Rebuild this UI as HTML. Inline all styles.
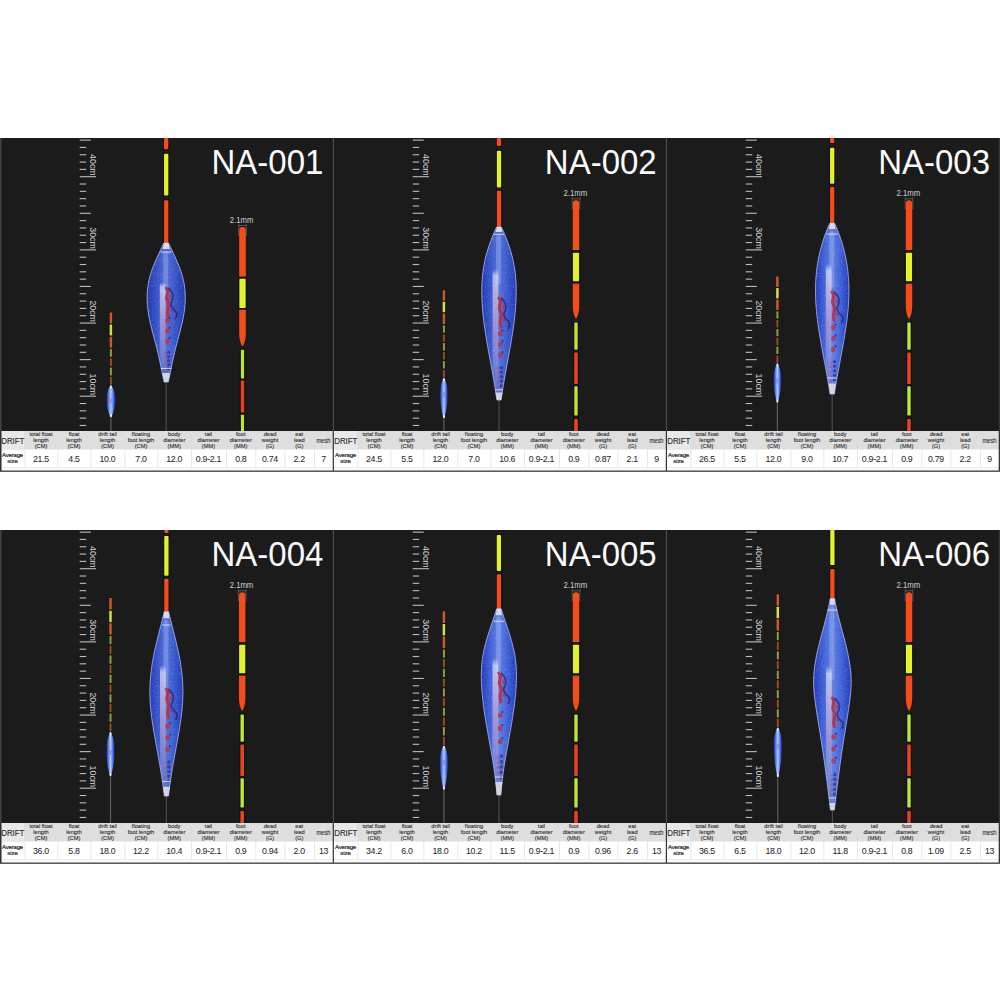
<!DOCTYPE html><html><head><meta charset="utf-8"><style>html,body{margin:0;padding:0;background:#fff;width:1000px;height:1000px;overflow:hidden}svg{display:block;font-family:"Liberation Sans",sans-serif}</style></head><body>
<svg width="1000" height="1000" viewBox="0 0 1000 1000">
<rect width="1000" height="1000" fill="#fff"/>
<defs><filter id="spk" x="0" y="0" width="100%" height="100%"><feTurbulence type="fractalNoise" baseFrequency="0.9" numOctaves="1" seed="3"/><feColorMatrix values="0 0 0 0 0.1  0 0 0 0 0.16  0 0 0 0 0.6  0 0 0 3 -1.5"/></filter><filter id="spl" x="0" y="0" width="100%" height="100%"><feTurbulence type="fractalNoise" baseFrequency="0.75" numOctaves="1" seed="11"/><feColorMatrix values="0 0 0 0 0.62  0 0 0 0 0.7  0 0 0 0 1  0 0 0 3.2 -1.75"/></filter></defs>
<rect x="0" y="138" width="333" height="293" fill="#1b1b1b"/>
<rect x="333" y="138" width="333" height="293" fill="#1b1b1b"/>
<rect x="666" y="138" width="334" height="293" fill="#1b1b1b"/>
<rect x="0" y="530" width="333" height="293" fill="#1b1b1b"/>
<rect x="333" y="530" width="333" height="293" fill="#1b1b1b"/>
<rect x="666" y="530" width="334" height="293" fill="#1b1b1b"/>
<rect x="79.7" y="139.56" width="11.1" height="1.1" fill="#bcbcbc"/>
<rect x="79.7" y="146.88" width="6.5" height="1.1" fill="#bcbcbc"/>
<rect x="79.7" y="154.20" width="6.5" height="1.1" fill="#bcbcbc"/>
<rect x="79.7" y="161.52" width="6.5" height="1.1" fill="#bcbcbc"/>
<rect x="79.7" y="168.83" width="6.5" height="1.1" fill="#bcbcbc"/>
<rect x="79.7" y="176.15" width="16.3" height="1.1" fill="#bcbcbc"/>
<text transform="translate(90.1,154.1) rotate(90) scale(0.97,0.9)" x="0" y="0" font-size="9.1" fill="#d0d0d0">40cm</text>
<rect x="79.7" y="183.47" width="6.5" height="1.1" fill="#bcbcbc"/>
<rect x="79.7" y="190.78" width="6.5" height="1.1" fill="#bcbcbc"/>
<rect x="79.7" y="198.10" width="6.5" height="1.1" fill="#bcbcbc"/>
<rect x="79.7" y="205.42" width="6.5" height="1.1" fill="#bcbcbc"/>
<rect x="79.7" y="212.73" width="11.1" height="1.1" fill="#bcbcbc"/>
<rect x="79.7" y="220.05" width="6.5" height="1.1" fill="#bcbcbc"/>
<rect x="79.7" y="227.37" width="6.5" height="1.1" fill="#bcbcbc"/>
<rect x="79.7" y="234.69" width="6.5" height="1.1" fill="#bcbcbc"/>
<rect x="79.7" y="242.00" width="6.5" height="1.1" fill="#bcbcbc"/>
<rect x="79.7" y="249.32" width="16.3" height="1.1" fill="#bcbcbc"/>
<text transform="translate(90.1,227.3) rotate(90) scale(0.97,0.9)" x="0" y="0" font-size="9.1" fill="#d0d0d0">30cm</text>
<rect x="79.7" y="256.64" width="6.5" height="1.1" fill="#bcbcbc"/>
<rect x="79.7" y="263.95" width="6.5" height="1.1" fill="#bcbcbc"/>
<rect x="79.7" y="271.27" width="6.5" height="1.1" fill="#bcbcbc"/>
<rect x="79.7" y="278.59" width="6.5" height="1.1" fill="#bcbcbc"/>
<rect x="79.7" y="285.90" width="11.1" height="1.1" fill="#bcbcbc"/>
<rect x="79.7" y="293.22" width="6.5" height="1.1" fill="#bcbcbc"/>
<rect x="79.7" y="300.54" width="6.5" height="1.1" fill="#bcbcbc"/>
<rect x="79.7" y="307.86" width="6.5" height="1.1" fill="#bcbcbc"/>
<rect x="79.7" y="315.17" width="6.5" height="1.1" fill="#bcbcbc"/>
<rect x="79.7" y="322.49" width="16.3" height="1.1" fill="#bcbcbc"/>
<text transform="translate(90.1,300.4) rotate(90) scale(0.97,0.9)" x="0" y="0" font-size="9.1" fill="#d0d0d0">20cm</text>
<rect x="79.7" y="329.81" width="6.5" height="1.1" fill="#bcbcbc"/>
<rect x="79.7" y="337.12" width="6.5" height="1.1" fill="#bcbcbc"/>
<rect x="79.7" y="344.44" width="6.5" height="1.1" fill="#bcbcbc"/>
<rect x="79.7" y="351.76" width="6.5" height="1.1" fill="#bcbcbc"/>
<rect x="79.7" y="359.07" width="11.1" height="1.1" fill="#bcbcbc"/>
<rect x="79.7" y="366.39" width="6.5" height="1.1" fill="#bcbcbc"/>
<rect x="79.7" y="373.71" width="6.5" height="1.1" fill="#bcbcbc"/>
<rect x="79.7" y="381.03" width="6.5" height="1.1" fill="#bcbcbc"/>
<rect x="79.7" y="388.34" width="6.5" height="1.1" fill="#bcbcbc"/>
<rect x="79.7" y="395.66" width="16.3" height="1.1" fill="#bcbcbc"/>
<text transform="translate(90.1,373.6) rotate(90) scale(0.97,0.9)" x="0" y="0" font-size="9.1" fill="#d0d0d0">10cm</text>
<rect x="79.7" y="402.98" width="6.5" height="1.1" fill="#bcbcbc"/>
<rect x="79.7" y="410.29" width="6.5" height="1.1" fill="#bcbcbc"/>
<rect x="79.7" y="417.61" width="6.5" height="1.1" fill="#bcbcbc"/>
<rect x="79.7" y="424.93" width="6.5" height="1.1" fill="#bcbcbc"/>
<rect x="110.25" y="417.00" width="1.3" height="14.00" fill="#5a5a5a"/>
<rect x="109.25" y="311.85" width="3.30" height="12.19" fill="#080808" opacity="0.35"/>
<rect x="109.65" y="312.45" width="2.50" height="10.99" rx="0.40" fill="#cc5a2e"/>
<rect x="109.25" y="323.94" width="3.30" height="12.19" fill="#080808" opacity="0.35"/>
<rect x="109.65" y="324.54" width="2.50" height="10.99" rx="0.40" fill="#cfe04c"/>
<rect x="109.25" y="336.04" width="3.30" height="12.19" fill="#080808" opacity="0.35"/>
<rect x="109.65" y="336.64" width="2.50" height="10.99" rx="0.40" fill="#c85a2e"/>
<rect x="109.50" y="348.28" width="2.80" height="9.10" fill="#080808" opacity="0.35"/>
<rect x="109.90" y="348.88" width="2.00" height="7.90" rx="0.40" fill="#8ea040"/>
<rect x="109.50" y="357.59" width="2.80" height="9.10" fill="#080808" opacity="0.35"/>
<rect x="109.90" y="358.19" width="2.00" height="7.90" rx="0.40" fill="#9a4a2c"/>
<rect x="109.50" y="366.89" width="2.80" height="9.10" fill="#080808" opacity="0.35"/>
<rect x="109.90" y="367.49" width="2.00" height="7.90" rx="0.40" fill="#8ea040"/>
<rect x="109.50" y="376.20" width="2.80" height="9.10" fill="#080808" opacity="0.35"/>
<rect x="109.90" y="376.80" width="2.00" height="7.90" rx="0.40" fill="#9a4a2c"/>
<linearGradient id="bg1" x1="106.5" x2="115.30000000000001" y1="0" y2="0" gradientUnits="userSpaceOnUse"><stop offset="0" stop-color="#1a2a9a"/><stop offset="0.22" stop-color="#4a74e8"/><stop offset="0.5" stop-color="#b4c8ff"/><stop offset="0.78" stop-color="#4a74e8"/><stop offset="1" stop-color="#1a2a9a"/></linearGradient>
<path d="M110.30,385.40 C110.00,386.02 109.04,387.62 108.48,389.10 C107.92,390.58 107.27,392.43 106.94,394.28 C106.61,396.13 106.50,398.23 106.50,400.20 C106.50,402.17 106.61,404.12 106.94,406.08 C107.27,408.04 107.92,410.14 108.48,411.96 C109.04,413.78 110.00,416.16 110.30,417.00 L111.50,417.00 C111.80,416.16 112.76,413.78 113.32,411.96 C113.88,410.14 114.53,408.04 114.86,406.08 C115.19,404.12 115.30,402.17 115.30,400.20 C115.30,398.23 115.19,396.13 114.86,394.28 C114.53,392.43 113.88,390.58 113.32,389.10 C112.76,387.62 111.80,386.02 111.50,385.40Z" fill="url(#bg1)"/>
<rect x="110.30" y="398.20" width="1.3" height="5" fill="#c04868" opacity="0.6"/>
<ellipse cx="110.90" cy="386.90" rx="0.9" ry="1.6" fill="#f0f0f8" opacity="0.9"/>
<ellipse cx="110.90" cy="415.50" rx="0.9" ry="1.8" fill="#f4f4fa" opacity="0.95"/>
<rect x="165.60" y="382.00" width="1.2" height="49.00" fill="#4a4a4a"/>
<rect x="163.25" y="138.00" width="5.90" height="12.20" fill="#050505" opacity="0.7"/>
<rect x="163.25" y="152.70" width="5.90" height="43.80" fill="#050505" opacity="0.7"/>
<rect x="163.25" y="199.30" width="5.90" height="44.70" fill="#050505" opacity="0.7"/>
<rect x="164.05" y="138.00" width="4.30" height="11.20" rx="0.80" fill="#f44c1a"/>
<rect x="164.05" y="153.70" width="4.30" height="41.80" rx="0.80" fill="#e2f22a"/>
<rect x="164.05" y="200.30" width="4.30" height="42.70" rx="0.80" fill="#f44c1a"/>
<clipPath id="cp2"><path d="M163.80,243.00 L163.14,244.50 L162.45,246.00 L161.75,247.50 L161.05,249.00 L160.35,250.50 L159.65,252.00 L158.95,253.50 L158.26,255.00 L157.57,256.50 L156.89,258.00 L156.22,259.50 L155.57,261.00 L154.92,262.50 L154.29,264.00 L153.68,265.50 L153.09,267.00 L152.52,268.50 L151.97,270.00 L151.45,271.50 L150.95,273.00 L150.49,274.50 L150.05,276.00 L149.64,277.50 L149.27,279.00 L148.92,280.50 L148.61,282.00 L148.33,283.50 L148.08,285.00 L147.87,286.50 L147.68,288.00 L147.52,289.50 L147.38,291.00 L147.28,292.50 L147.20,294.00 L147.15,295.50 L147.13,297.00 L147.13,298.50 L147.16,300.00 L147.21,301.50 L147.29,303.00 L147.39,304.50 L147.51,306.00 L147.65,307.50 L147.82,309.00 L148.01,310.50 L148.22,312.00 L148.45,313.50 L148.70,315.00 L148.97,316.50 L149.25,318.00 L149.55,319.50 L149.86,321.00 L150.19,322.50 L150.53,324.00 L150.88,325.50 L151.25,327.00 L151.62,328.50 L151.99,330.00 L152.38,331.50 L152.77,333.00 L153.17,334.50 L153.56,336.00 L153.96,337.50 L154.37,339.00 L154.77,340.50 L155.17,342.00 L155.57,343.50 L155.96,345.00 L156.35,346.50 L156.73,348.00 L157.11,349.50 L157.48,351.00 L157.84,352.50 L158.19,354.00 L158.54,355.50 L158.88,357.00 L159.21,358.50 L159.54,360.00 L159.86,361.50 L160.18,363.00 L160.49,364.50 L160.80,366.00 L161.11,367.50 L161.41,369.00 L161.71,370.50 L162.01,372.00 L162.31,373.50 L162.60,375.00 L162.90,376.50 L163.19,378.00 L163.49,379.50 L163.79,381.00 L164.00,382.00 L168.40,382.00 L168.61,381.00 L168.91,379.50 L169.21,378.00 L169.50,376.50 L169.80,375.00 L170.09,373.50 L170.39,372.00 L170.69,370.50 L170.99,369.00 L171.29,367.50 L171.60,366.00 L171.91,364.50 L172.22,363.00 L172.54,361.50 L172.86,360.00 L173.19,358.50 L173.52,357.00 L173.86,355.50 L174.21,354.00 L174.56,352.50 L174.92,351.00 L175.29,349.50 L175.67,348.00 L176.05,346.50 L176.44,345.00 L176.83,343.50 L177.23,342.00 L177.63,340.50 L178.03,339.00 L178.44,337.50 L178.84,336.00 L179.23,334.50 L179.63,333.00 L180.02,331.50 L180.41,330.00 L180.78,328.50 L181.15,327.00 L181.52,325.50 L181.87,324.00 L182.21,322.50 L182.54,321.00 L182.85,319.50 L183.15,318.00 L183.43,316.50 L183.70,315.00 L183.95,313.50 L184.18,312.00 L184.39,310.50 L184.58,309.00 L184.75,307.50 L184.89,306.00 L185.01,304.50 L185.11,303.00 L185.19,301.50 L185.24,300.00 L185.27,298.50 L185.27,297.00 L185.25,295.50 L185.20,294.00 L185.12,292.50 L185.02,291.00 L184.88,289.50 L184.72,288.00 L184.53,286.50 L184.32,285.00 L184.07,283.50 L183.79,282.00 L183.48,280.50 L183.13,279.00 L182.76,277.50 L182.35,276.00 L181.91,274.50 L181.45,273.00 L180.95,271.50 L180.43,270.00 L179.88,268.50 L179.31,267.00 L178.72,265.50 L178.11,264.00 L177.48,262.50 L176.83,261.00 L176.18,259.50 L175.51,258.00 L174.83,256.50 L174.14,255.00 L173.45,253.50 L172.75,252.00 L172.05,250.50 L171.35,249.00 L170.65,247.50 L169.95,246.00 L169.26,244.50 L168.60,243.00Z"/></clipPath>
<linearGradient id="bg2" x1="146.75" x2="185.64999999999998" y1="0" y2="0" gradientUnits="userSpaceOnUse"><stop offset="0" stop-color="#2032ac"/><stop offset="0.25" stop-color="#3452c8"/><stop offset="0.5" stop-color="#5470d4"/><stop offset="0.75" stop-color="#3452c8"/><stop offset="1" stop-color="#2032ac"/></linearGradient>
<linearGradient id="hs2" x1="0" x2="0" y1="282.0" y2="370.0" gradientUnits="userSpaceOnUse"><stop offset="0" stop-color="#e4e8ff" stop-opacity="0"/><stop offset="0.06" stop-color="#e0e6ff" stop-opacity="0.7"/><stop offset="0.25" stop-color="#e8cce0" stop-opacity="0.65"/><stop offset="0.55" stop-color="#dcb0cc" stop-opacity="0.5"/><stop offset="1" stop-color="#c8d0f8" stop-opacity="0.1"/></linearGradient>
<path d="M163.80,243.00 L163.14,244.50 L162.45,246.00 L161.75,247.50 L161.05,249.00 L160.35,250.50 L159.65,252.00 L158.95,253.50 L158.26,255.00 L157.57,256.50 L156.89,258.00 L156.22,259.50 L155.57,261.00 L154.92,262.50 L154.29,264.00 L153.68,265.50 L153.09,267.00 L152.52,268.50 L151.97,270.00 L151.45,271.50 L150.95,273.00 L150.49,274.50 L150.05,276.00 L149.64,277.50 L149.27,279.00 L148.92,280.50 L148.61,282.00 L148.33,283.50 L148.08,285.00 L147.87,286.50 L147.68,288.00 L147.52,289.50 L147.38,291.00 L147.28,292.50 L147.20,294.00 L147.15,295.50 L147.13,297.00 L147.13,298.50 L147.16,300.00 L147.21,301.50 L147.29,303.00 L147.39,304.50 L147.51,306.00 L147.65,307.50 L147.82,309.00 L148.01,310.50 L148.22,312.00 L148.45,313.50 L148.70,315.00 L148.97,316.50 L149.25,318.00 L149.55,319.50 L149.86,321.00 L150.19,322.50 L150.53,324.00 L150.88,325.50 L151.25,327.00 L151.62,328.50 L151.99,330.00 L152.38,331.50 L152.77,333.00 L153.17,334.50 L153.56,336.00 L153.96,337.50 L154.37,339.00 L154.77,340.50 L155.17,342.00 L155.57,343.50 L155.96,345.00 L156.35,346.50 L156.73,348.00 L157.11,349.50 L157.48,351.00 L157.84,352.50 L158.19,354.00 L158.54,355.50 L158.88,357.00 L159.21,358.50 L159.54,360.00 L159.86,361.50 L160.18,363.00 L160.49,364.50 L160.80,366.00 L161.11,367.50 L161.41,369.00 L161.71,370.50 L162.01,372.00 L162.31,373.50 L162.60,375.00 L162.90,376.50 L163.19,378.00 L163.49,379.50 L163.79,381.00 L164.00,382.00 L168.40,382.00 L168.61,381.00 L168.91,379.50 L169.21,378.00 L169.50,376.50 L169.80,375.00 L170.09,373.50 L170.39,372.00 L170.69,370.50 L170.99,369.00 L171.29,367.50 L171.60,366.00 L171.91,364.50 L172.22,363.00 L172.54,361.50 L172.86,360.00 L173.19,358.50 L173.52,357.00 L173.86,355.50 L174.21,354.00 L174.56,352.50 L174.92,351.00 L175.29,349.50 L175.67,348.00 L176.05,346.50 L176.44,345.00 L176.83,343.50 L177.23,342.00 L177.63,340.50 L178.03,339.00 L178.44,337.50 L178.84,336.00 L179.23,334.50 L179.63,333.00 L180.02,331.50 L180.41,330.00 L180.78,328.50 L181.15,327.00 L181.52,325.50 L181.87,324.00 L182.21,322.50 L182.54,321.00 L182.85,319.50 L183.15,318.00 L183.43,316.50 L183.70,315.00 L183.95,313.50 L184.18,312.00 L184.39,310.50 L184.58,309.00 L184.75,307.50 L184.89,306.00 L185.01,304.50 L185.11,303.00 L185.19,301.50 L185.24,300.00 L185.27,298.50 L185.27,297.00 L185.25,295.50 L185.20,294.00 L185.12,292.50 L185.02,291.00 L184.88,289.50 L184.72,288.00 L184.53,286.50 L184.32,285.00 L184.07,283.50 L183.79,282.00 L183.48,280.50 L183.13,279.00 L182.76,277.50 L182.35,276.00 L181.91,274.50 L181.45,273.00 L180.95,271.50 L180.43,270.00 L179.88,268.50 L179.31,267.00 L178.72,265.50 L178.11,264.00 L177.48,262.50 L176.83,261.00 L176.18,259.50 L175.51,258.00 L174.83,256.50 L174.14,255.00 L173.45,253.50 L172.75,252.00 L172.05,250.50 L171.35,249.00 L170.65,247.50 L169.95,246.00 L169.26,244.50 L168.60,243.00Z" fill="url(#bg2)"/>
<g clip-path="url(#cp2)">
<rect x="145.75" y="243.00" width="40.90" height="139.00" filter="url(#spk)" opacity="0.45"/>
<rect x="145.75" y="243.00" width="40.90" height="139.00" filter="url(#spl)" opacity="0.3"/>
<rect x="163.20" y="251.00" width="5" height="47.00" rx="2.5" fill="#b8c4ff" opacity="0.3"/>
<rect x="159.80" y="282.00" width="5.8" height="88.00" rx="2.9" fill="url(#hs2)"/>
<path d="M165.4,287.0 l2.5,4 l-1.5,7 l2.5,6 l-1.5,8 l1,6" stroke="#c42836" stroke-width="3" fill="none" opacity="0.85"/>
<path d="M168.2,288.0 q7,6 4,13 q-3,5 2,9 q5,4 1,9" stroke="#2a1866" stroke-width="1.7" fill="none" opacity="0.65"/>
<circle cx="170.7" cy="297.0" r="1.7" fill="#c43040" opacity="0.8"/>
<circle cx="171.7" cy="310.0" r="1.6" fill="#b02a48" opacity="0.75"/>
<ellipse cx="167.4" cy="321.0" rx="2.3" ry="2.6" fill="#c03040" opacity="0.8"/>
<circle cx="169.6" cy="317.8" r="1.1" fill="#2a1a6a" opacity="0.7"/>
<ellipse cx="167.4" cy="331.0" rx="2.3" ry="2.6" fill="#c03040" opacity="0.8"/>
<circle cx="169.6" cy="327.8" r="1.1" fill="#2a1a6a" opacity="0.7"/>
<ellipse cx="167.4" cy="341.1" rx="2.3" ry="2.6" fill="#c03040" opacity="0.8"/>
<circle cx="169.6" cy="337.9" r="1.1" fill="#2a1a6a" opacity="0.7"/>
<rect x="167.0" y="351.1" width="3.2" height="2.7" rx="1" fill="#2a1a6a" opacity="0.55"/>
<rect x="164.0" y="352.1" width="2.6" height="2.3" rx="1" fill="#c84050" opacity="0.45"/>
<rect x="167.0" y="355.2" width="3.2" height="2.7" rx="1" fill="#2a1a6a" opacity="0.55"/>
<rect x="164.0" y="356.2" width="2.6" height="2.3" rx="1" fill="#c84050" opacity="0.45"/>
<rect x="167.0" y="359.2" width="3.2" height="2.7" rx="1" fill="#2a1a6a" opacity="0.55"/>
<rect x="164.0" y="360.2" width="2.6" height="2.3" rx="1" fill="#c84050" opacity="0.45"/>
<rect x="167.0" y="363.3" width="3.2" height="2.7" rx="1" fill="#2a1a6a" opacity="0.55"/>
<rect x="164.0" y="364.3" width="2.6" height="2.3" rx="1" fill="#c84050" opacity="0.45"/>
<rect x="167.0" y="367.4" width="3.2" height="2.7" rx="1" fill="#2a1a6a" opacity="0.55"/>
<rect x="164.0" y="368.4" width="2.6" height="2.3" rx="1" fill="#c84050" opacity="0.45"/>
</g>
<path d="M163.80,243.00 L163.14,244.50 L162.45,246.00 L161.75,247.50 L161.05,249.00 L160.35,250.50 L159.65,252.00 L158.95,253.50 L158.26,255.00 L157.57,256.50 L156.89,258.00 L156.22,259.50 L155.57,261.00 L154.92,262.50 L154.29,264.00 L153.68,265.50 L153.09,267.00 L152.52,268.50 L151.97,270.00 L151.45,271.50 L150.95,273.00 L150.49,274.50 L150.05,276.00 L149.64,277.50 L149.27,279.00 L148.92,280.50 L148.61,282.00 L148.33,283.50 L148.08,285.00 L147.87,286.50 L147.68,288.00 L147.52,289.50 L147.38,291.00 L147.28,292.50 L147.20,294.00 L147.15,295.50 L147.13,297.00 L147.13,298.50 L147.16,300.00 L147.21,301.50 L147.29,303.00 L147.39,304.50 L147.51,306.00 L147.65,307.50 L147.82,309.00 L148.01,310.50 L148.22,312.00 L148.45,313.50 L148.70,315.00 L148.97,316.50 L149.25,318.00 L149.55,319.50 L149.86,321.00 L150.19,322.50 L150.53,324.00 L150.88,325.50 L151.25,327.00 L151.62,328.50 L151.99,330.00 L152.38,331.50 L152.77,333.00 L153.17,334.50 L153.56,336.00 L153.96,337.50 L154.37,339.00 L154.77,340.50 L155.17,342.00 L155.57,343.50 L155.96,345.00 L156.35,346.50 L156.73,348.00 L157.11,349.50 L157.48,351.00 L157.84,352.50 L158.19,354.00 L158.54,355.50 L158.88,357.00 L159.21,358.50 L159.54,360.00 L159.86,361.50 L160.18,363.00 L160.49,364.50 L160.80,366.00 L161.11,367.50 L161.41,369.00 L161.71,370.50 L162.01,372.00 L162.31,373.50 L162.60,375.00 L162.90,376.50 L163.19,378.00 L163.49,379.50 L163.79,381.00 L164.00,382.00 L168.40,382.00 L168.61,381.00 L168.91,379.50 L169.21,378.00 L169.50,376.50 L169.80,375.00 L170.09,373.50 L170.39,372.00 L170.69,370.50 L170.99,369.00 L171.29,367.50 L171.60,366.00 L171.91,364.50 L172.22,363.00 L172.54,361.50 L172.86,360.00 L173.19,358.50 L173.52,357.00 L173.86,355.50 L174.21,354.00 L174.56,352.50 L174.92,351.00 L175.29,349.50 L175.67,348.00 L176.05,346.50 L176.44,345.00 L176.83,343.50 L177.23,342.00 L177.63,340.50 L178.03,339.00 L178.44,337.50 L178.84,336.00 L179.23,334.50 L179.63,333.00 L180.02,331.50 L180.41,330.00 L180.78,328.50 L181.15,327.00 L181.52,325.50 L181.87,324.00 L182.21,322.50 L182.54,321.00 L182.85,319.50 L183.15,318.00 L183.43,316.50 L183.70,315.00 L183.95,313.50 L184.18,312.00 L184.39,310.50 L184.58,309.00 L184.75,307.50 L184.89,306.00 L185.01,304.50 L185.11,303.00 L185.19,301.50 L185.24,300.00 L185.27,298.50 L185.27,297.00 L185.25,295.50 L185.20,294.00 L185.12,292.50 L185.02,291.00 L184.88,289.50 L184.72,288.00 L184.53,286.50 L184.32,285.00 L184.07,283.50 L183.79,282.00 L183.48,280.50 L183.13,279.00 L182.76,277.50 L182.35,276.00 L181.91,274.50 L181.45,273.00 L180.95,271.50 L180.43,270.00 L179.88,268.50 L179.31,267.00 L178.72,265.50 L178.11,264.00 L177.48,262.50 L176.83,261.00 L176.18,259.50 L175.51,258.00 L174.83,256.50 L174.14,255.00 L173.45,253.50 L172.75,252.00 L172.05,250.50 L171.35,249.00 L170.65,247.50 L169.95,246.00 L169.26,244.50 L168.60,243.00Z" fill="none" stroke="#a4b0ec" stroke-width="1" stroke-opacity="0.9"/>
<path d="M164.00,243.00 L168.40,243.00 L169.80,249.00 L162.60,249.00Z" fill="#e4e4ee" opacity="0.9"/>
<rect x="160.80" y="251.50" width="10.80" height="1.1" fill="#e8ecff" opacity="0.75"/>
<rect x="160.80" y="367.90" width="10.80" height="1.1" fill="#e8ecff" opacity="0.75"/>
<path d="M162.40,373.00 L170.00,373.00 L168.20,382.00 L164.20,382.00Z" fill="#d4d4de"/>
<text transform="translate(241.60,223.20) scale(0.92,1)" font-size="8.4" fill="#d0d0d0" text-anchor="middle">2.1mm</text>
<path d="M238.7,224.0 v12 M246.3,224.0 v12 M238.7,225.5 h7.6" stroke="#a0a0a0" stroke-width="0.7" fill="none" opacity="0.6"/>
<rect x="238.25" y="277.60" width="8.50" height="31.60" fill="#060606" opacity="0.6"/>
<rect x="239.80" y="348.60" width="5.40" height="31.00" fill="#060606" opacity="0.6"/>
<rect x="239.70" y="379.40" width="5.60" height="34.30" fill="#060606" opacity="0.6"/>
<rect x="239.80" y="413.50" width="5.40" height="18.70" fill="#060606" opacity="0.6"/>
<path d="M239.20,276.50 L239.20,230.00 Q239.20,227.00 242.50,227.00 Q245.80,227.00 245.80,230.00 L245.80,276.50Z" fill="#f44c1a"/>
<rect x="239.35" y="278.80" width="6.30" height="29.20" rx="0.60" fill="#e2f22a"/>
<path d="M239.20,309.80 L245.80,309.80 L245.80,333.50 C245.80,340.50 243.70,345.00 242.50,346.50 C241.30,345.00 239.20,340.50 239.20,333.50Z" fill="#f44c1a"/>
<rect x="240.90" y="349.80" width="3.20" height="28.60" rx="0.60" fill="#bce632"/>
<rect x="240.80" y="380.60" width="3.40" height="31.90" rx="0.60" fill="#e8421e"/>
<rect x="240.90" y="414.70" width="3.20" height="16.30" rx="0.60" fill="#bce632"/>
<text transform="translate(211.50,173.9) scale(0.932,1)" x="0" y="0" font-size="35.4" fill="#fafafa">NA-001</text>
<rect x="0" y="431" width="333" height="40" fill="#ffffff"/>
<rect x="0" y="431" width="333" height="18.5" fill="#dedede"/>
<rect x="0" y="431" width="24" height="18.5" fill="#e8e8e8"/>
<rect x="0" y="467.3" width="333" height="1" fill="#e4e4e4"/>
<rect x="24.5" y="449.5" width="0.8" height="17.8" fill="#e2e2e2"/>
<rect x="57.5" y="449.5" width="0.8" height="17.8" fill="#e2e2e2"/>
<rect x="90.5" y="449.5" width="0.8" height="17.8" fill="#e2e2e2"/>
<rect x="124.5" y="449.5" width="0.8" height="17.8" fill="#e2e2e2"/>
<rect x="157.5" y="449.5" width="0.8" height="17.8" fill="#e2e2e2"/>
<rect x="191" y="449.5" width="0.8" height="17.8" fill="#e2e2e2"/>
<rect x="226" y="449.5" width="0.8" height="17.8" fill="#e2e2e2"/>
<rect x="255.5" y="449.5" width="0.8" height="17.8" fill="#e2e2e2"/>
<rect x="284.5" y="449.5" width="0.8" height="17.8" fill="#e2e2e2"/>
<rect x="314" y="449.5" width="0.8" height="17.8" fill="#e2e2e2"/>
<text transform="translate(12.80,443.60) scale(0.9,1)" font-size="8.8" fill="#2c2c2c" stroke="#2c2c2c" stroke-width="0.15" text-anchor="middle">DRIFT</text>
<text x="12.5" y="457" font-size="6" fill="#2a2a2a" stroke="#2a2a2a" stroke-width="0.2" text-anchor="middle" letter-spacing="-0.2">Average</text>
<text x="12.5" y="463" font-size="6" fill="#2a2a2a" stroke="#2a2a2a" stroke-width="0.2" text-anchor="middle">size</text>
<text transform="translate(41.00,435.90) scale(0.92,1)" font-size="6.2" fill="#2e2e2e" stroke="#2e2e2e" stroke-width="0.12" text-anchor="middle">total float</text>
<text transform="translate(41.00,441.90) scale(0.92,1)" font-size="6.2" fill="#2e2e2e" stroke="#2e2e2e" stroke-width="0.12" text-anchor="middle">length</text>
<text transform="translate(41.00,447.90) scale(0.92,1)" font-size="6.2" fill="#2e2e2e" stroke="#2e2e2e" stroke-width="0.12" text-anchor="middle">(CM)</text>
<text x="41.0" y="462.2" font-size="8.8" fill="#2a2a2a" stroke="#2a2a2a" stroke-width="0.06" text-anchor="middle" letter-spacing="-0.3">21.5</text>
<text transform="translate(74.00,435.90) scale(0.92,1)" font-size="6.2" fill="#2e2e2e" stroke="#2e2e2e" stroke-width="0.12" text-anchor="middle">float</text>
<text transform="translate(74.00,441.90) scale(0.92,1)" font-size="6.2" fill="#2e2e2e" stroke="#2e2e2e" stroke-width="0.12" text-anchor="middle">length</text>
<text transform="translate(74.00,447.90) scale(0.92,1)" font-size="6.2" fill="#2e2e2e" stroke="#2e2e2e" stroke-width="0.12" text-anchor="middle">(CM)</text>
<text x="74.0" y="462.2" font-size="8.8" fill="#2a2a2a" stroke="#2a2a2a" stroke-width="0.06" text-anchor="middle" letter-spacing="-0.3">4.5</text>
<text transform="translate(107.50,435.90) scale(0.92,1)" font-size="6.2" fill="#2e2e2e" stroke="#2e2e2e" stroke-width="0.12" text-anchor="middle">drift tail</text>
<text transform="translate(107.50,441.90) scale(0.92,1)" font-size="6.2" fill="#2e2e2e" stroke="#2e2e2e" stroke-width="0.12" text-anchor="middle">length</text>
<text transform="translate(107.50,447.90) scale(0.92,1)" font-size="6.2" fill="#2e2e2e" stroke="#2e2e2e" stroke-width="0.12" text-anchor="middle">(CM)</text>
<text x="107.5" y="462.2" font-size="8.8" fill="#2a2a2a" stroke="#2a2a2a" stroke-width="0.06" text-anchor="middle" letter-spacing="-0.3">10.0</text>
<text transform="translate(141.00,435.90) scale(0.92,1)" font-size="6.2" fill="#2e2e2e" stroke="#2e2e2e" stroke-width="0.12" text-anchor="middle">floating</text>
<text transform="translate(141.00,441.90) scale(0.92,1)" font-size="6.2" fill="#2e2e2e" stroke="#2e2e2e" stroke-width="0.12" text-anchor="middle">foot length</text>
<text transform="translate(141.00,447.90) scale(0.92,1)" font-size="6.2" fill="#2e2e2e" stroke="#2e2e2e" stroke-width="0.12" text-anchor="middle">(CM)</text>
<text x="141.0" y="462.2" font-size="8.8" fill="#2a2a2a" stroke="#2a2a2a" stroke-width="0.06" text-anchor="middle" letter-spacing="-0.3">7.0</text>
<text transform="translate(174.25,435.90) scale(0.92,1)" font-size="6.2" fill="#2e2e2e" stroke="#2e2e2e" stroke-width="0.12" text-anchor="middle">body</text>
<text transform="translate(174.25,441.90) scale(0.92,1)" font-size="6.2" fill="#2e2e2e" stroke="#2e2e2e" stroke-width="0.12" text-anchor="middle">diameter</text>
<text transform="translate(174.25,447.90) scale(0.92,1)" font-size="6.2" fill="#2e2e2e" stroke="#2e2e2e" stroke-width="0.12" text-anchor="middle">(MM)</text>
<text x="174.2" y="462.2" font-size="8.8" fill="#2a2a2a" stroke="#2a2a2a" stroke-width="0.06" text-anchor="middle" letter-spacing="-0.3">12.0</text>
<text transform="translate(208.50,435.90) scale(0.92,1)" font-size="6.2" fill="#2e2e2e" stroke="#2e2e2e" stroke-width="0.12" text-anchor="middle">tail</text>
<text transform="translate(208.50,441.90) scale(0.92,1)" font-size="6.2" fill="#2e2e2e" stroke="#2e2e2e" stroke-width="0.12" text-anchor="middle">diameter</text>
<text transform="translate(208.50,447.90) scale(0.92,1)" font-size="6.2" fill="#2e2e2e" stroke="#2e2e2e" stroke-width="0.12" text-anchor="middle">(MM)</text>
<text x="208.5" y="462.2" font-size="8.8" fill="#2a2a2a" stroke="#2a2a2a" stroke-width="0.06" text-anchor="middle" letter-spacing="-0.3">0.9-2.1</text>
<text transform="translate(240.75,435.90) scale(0.92,1)" font-size="6.2" fill="#2e2e2e" stroke="#2e2e2e" stroke-width="0.12" text-anchor="middle">foot</text>
<text transform="translate(240.75,441.90) scale(0.92,1)" font-size="6.2" fill="#2e2e2e" stroke="#2e2e2e" stroke-width="0.12" text-anchor="middle">diameter</text>
<text transform="translate(240.75,447.90) scale(0.92,1)" font-size="6.2" fill="#2e2e2e" stroke="#2e2e2e" stroke-width="0.12" text-anchor="middle">(MM)</text>
<text x="240.8" y="462.2" font-size="8.8" fill="#2a2a2a" stroke="#2a2a2a" stroke-width="0.06" text-anchor="middle" letter-spacing="-0.3">0.8</text>
<text transform="translate(270.00,435.90) scale(0.92,1)" font-size="6.2" fill="#2e2e2e" stroke="#2e2e2e" stroke-width="0.12" text-anchor="middle">dead</text>
<text transform="translate(270.00,441.90) scale(0.92,1)" font-size="6.2" fill="#2e2e2e" stroke="#2e2e2e" stroke-width="0.12" text-anchor="middle">weight</text>
<text transform="translate(270.00,447.90) scale(0.92,1)" font-size="6.2" fill="#2e2e2e" stroke="#2e2e2e" stroke-width="0.12" text-anchor="middle">(G)</text>
<text x="270.0" y="462.2" font-size="8.8" fill="#2a2a2a" stroke="#2a2a2a" stroke-width="0.06" text-anchor="middle" letter-spacing="-0.3">0.74</text>
<text transform="translate(299.25,435.90) scale(0.92,1)" font-size="6.2" fill="#2e2e2e" stroke="#2e2e2e" stroke-width="0.12" text-anchor="middle">eat</text>
<text transform="translate(299.25,441.90) scale(0.92,1)" font-size="6.2" fill="#2e2e2e" stroke="#2e2e2e" stroke-width="0.12" text-anchor="middle">lead</text>
<text transform="translate(299.25,447.90) scale(0.92,1)" font-size="6.2" fill="#2e2e2e" stroke="#2e2e2e" stroke-width="0.12" text-anchor="middle">(G)</text>
<text x="299.2" y="462.2" font-size="8.8" fill="#2a2a2a" stroke="#2a2a2a" stroke-width="0.06" text-anchor="middle" letter-spacing="-0.3">2.2</text>
<text transform="translate(323.50,442.80) scale(0.88,1)" font-size="6.6" fill="#2e2e2e" stroke="#2e2e2e" stroke-width="0.12" text-anchor="middle">mesh</text>
<text x="323.5" y="462.2" font-size="8.8" fill="#2a2a2a" stroke="#2a2a2a" stroke-width="0.06" text-anchor="middle" letter-spacing="-0.3">7</text>
<rect x="412.7" y="139.56" width="11.1" height="1.1" fill="#bcbcbc"/>
<rect x="412.7" y="146.88" width="6.5" height="1.1" fill="#bcbcbc"/>
<rect x="412.7" y="154.20" width="6.5" height="1.1" fill="#bcbcbc"/>
<rect x="412.7" y="161.52" width="6.5" height="1.1" fill="#bcbcbc"/>
<rect x="412.7" y="168.83" width="6.5" height="1.1" fill="#bcbcbc"/>
<rect x="412.7" y="176.15" width="16.3" height="1.1" fill="#bcbcbc"/>
<text transform="translate(423.1,154.1) rotate(90) scale(0.97,0.9)" x="0" y="0" font-size="9.1" fill="#d0d0d0">40cm</text>
<rect x="412.7" y="183.47" width="6.5" height="1.1" fill="#bcbcbc"/>
<rect x="412.7" y="190.78" width="6.5" height="1.1" fill="#bcbcbc"/>
<rect x="412.7" y="198.10" width="6.5" height="1.1" fill="#bcbcbc"/>
<rect x="412.7" y="205.42" width="6.5" height="1.1" fill="#bcbcbc"/>
<rect x="412.7" y="212.73" width="11.1" height="1.1" fill="#bcbcbc"/>
<rect x="412.7" y="220.05" width="6.5" height="1.1" fill="#bcbcbc"/>
<rect x="412.7" y="227.37" width="6.5" height="1.1" fill="#bcbcbc"/>
<rect x="412.7" y="234.69" width="6.5" height="1.1" fill="#bcbcbc"/>
<rect x="412.7" y="242.00" width="6.5" height="1.1" fill="#bcbcbc"/>
<rect x="412.7" y="249.32" width="16.3" height="1.1" fill="#bcbcbc"/>
<text transform="translate(423.1,227.3) rotate(90) scale(0.97,0.9)" x="0" y="0" font-size="9.1" fill="#d0d0d0">30cm</text>
<rect x="412.7" y="256.64" width="6.5" height="1.1" fill="#bcbcbc"/>
<rect x="412.7" y="263.95" width="6.5" height="1.1" fill="#bcbcbc"/>
<rect x="412.7" y="271.27" width="6.5" height="1.1" fill="#bcbcbc"/>
<rect x="412.7" y="278.59" width="6.5" height="1.1" fill="#bcbcbc"/>
<rect x="412.7" y="285.90" width="11.1" height="1.1" fill="#bcbcbc"/>
<rect x="412.7" y="293.22" width="6.5" height="1.1" fill="#bcbcbc"/>
<rect x="412.7" y="300.54" width="6.5" height="1.1" fill="#bcbcbc"/>
<rect x="412.7" y="307.86" width="6.5" height="1.1" fill="#bcbcbc"/>
<rect x="412.7" y="315.17" width="6.5" height="1.1" fill="#bcbcbc"/>
<rect x="412.7" y="322.49" width="16.3" height="1.1" fill="#bcbcbc"/>
<text transform="translate(423.1,300.4) rotate(90) scale(0.97,0.9)" x="0" y="0" font-size="9.1" fill="#d0d0d0">20cm</text>
<rect x="412.7" y="329.81" width="6.5" height="1.1" fill="#bcbcbc"/>
<rect x="412.7" y="337.12" width="6.5" height="1.1" fill="#bcbcbc"/>
<rect x="412.7" y="344.44" width="6.5" height="1.1" fill="#bcbcbc"/>
<rect x="412.7" y="351.76" width="6.5" height="1.1" fill="#bcbcbc"/>
<rect x="412.7" y="359.07" width="11.1" height="1.1" fill="#bcbcbc"/>
<rect x="412.7" y="366.39" width="6.5" height="1.1" fill="#bcbcbc"/>
<rect x="412.7" y="373.71" width="6.5" height="1.1" fill="#bcbcbc"/>
<rect x="412.7" y="381.03" width="6.5" height="1.1" fill="#bcbcbc"/>
<rect x="412.7" y="388.34" width="6.5" height="1.1" fill="#bcbcbc"/>
<rect x="412.7" y="395.66" width="16.3" height="1.1" fill="#bcbcbc"/>
<text transform="translate(423.1,373.6) rotate(90) scale(0.97,0.9)" x="0" y="0" font-size="9.1" fill="#d0d0d0">10cm</text>
<rect x="412.7" y="402.98" width="6.5" height="1.1" fill="#bcbcbc"/>
<rect x="412.7" y="410.29" width="6.5" height="1.1" fill="#bcbcbc"/>
<rect x="412.7" y="417.61" width="6.5" height="1.1" fill="#bcbcbc"/>
<rect x="412.7" y="424.93" width="6.5" height="1.1" fill="#bcbcbc"/>
<rect x="443.25" y="418.00" width="1.3" height="13.00" fill="#5a5a5a"/>
<rect x="442.25" y="289.55" width="3.30" height="11.73" fill="#080808" opacity="0.35"/>
<rect x="442.65" y="290.15" width="2.50" height="10.53" rx="0.40" fill="#cc5a2e"/>
<rect x="442.25" y="301.18" width="3.30" height="11.73" fill="#080808" opacity="0.35"/>
<rect x="442.65" y="301.78" width="2.50" height="10.53" rx="0.40" fill="#cfe04c"/>
<rect x="442.25" y="312.82" width="3.30" height="11.73" fill="#080808" opacity="0.35"/>
<rect x="442.65" y="313.42" width="2.50" height="10.53" rx="0.40" fill="#c85a2e"/>
<rect x="442.50" y="324.60" width="2.80" height="8.75" fill="#080808" opacity="0.35"/>
<rect x="442.90" y="325.20" width="2.00" height="7.55" rx="0.40" fill="#8ea040"/>
<rect x="442.50" y="333.55" width="2.80" height="8.75" fill="#080808" opacity="0.35"/>
<rect x="442.90" y="334.15" width="2.00" height="7.55" rx="0.40" fill="#9a4a2c"/>
<rect x="442.50" y="342.50" width="2.80" height="8.75" fill="#080808" opacity="0.35"/>
<rect x="442.90" y="343.10" width="2.00" height="7.55" rx="0.40" fill="#8ea040"/>
<rect x="442.50" y="351.45" width="2.80" height="8.75" fill="#080808" opacity="0.35"/>
<rect x="442.90" y="352.05" width="2.00" height="7.55" rx="0.40" fill="#9a4a2c"/>
<rect x="442.50" y="360.40" width="2.80" height="8.75" fill="#080808" opacity="0.35"/>
<rect x="442.90" y="361.00" width="2.00" height="7.55" rx="0.40" fill="#8ea040"/>
<rect x="442.50" y="369.35" width="2.80" height="8.75" fill="#080808" opacity="0.35"/>
<rect x="442.90" y="369.95" width="2.00" height="7.55" rx="0.40" fill="#9a4a2c"/>
<linearGradient id="bg3" x1="440.09999999999997" x2="447.7" y1="0" y2="0" gradientUnits="userSpaceOnUse"><stop offset="0" stop-color="#1a2a9a"/><stop offset="0.22" stop-color="#4a74e8"/><stop offset="0.5" stop-color="#b4c8ff"/><stop offset="0.78" stop-color="#4a74e8"/><stop offset="1" stop-color="#1a2a9a"/></linearGradient>
<path d="M443.30,378.20 C443.05,378.86 442.28,380.57 441.81,382.15 C441.34,383.73 440.76,385.70 440.48,387.68 C440.19,389.66 440.10,391.55 440.10,394.00 C440.10,396.45 440.19,399.60 440.48,402.40 C440.76,405.20 441.34,408.20 441.81,410.80 C442.28,413.40 443.05,416.80 443.30,418.00 L444.50,418.00 C444.75,416.80 445.52,413.40 445.99,410.80 C446.46,408.20 447.03,405.20 447.32,402.40 C447.61,399.60 447.70,396.45 447.70,394.00 C447.70,391.55 447.61,389.66 447.32,387.68 C447.03,385.70 446.46,383.73 445.99,382.15 C445.52,380.57 444.75,378.86 444.50,378.20Z" fill="url(#bg3)"/>
<rect x="443.30" y="392.00" width="1.3" height="5" fill="#c04868" opacity="0.6"/>
<ellipse cx="443.90" cy="379.70" rx="0.9" ry="1.6" fill="#f0f0f8" opacity="0.9"/>
<ellipse cx="443.90" cy="416.50" rx="0.9" ry="1.8" fill="#f4f4fa" opacity="0.95"/>
<rect x="498.40" y="400.00" width="1.2" height="31.00" fill="#4a4a4a"/>
<rect x="496.05" y="138.00" width="5.90" height="9.00" fill="#050505" opacity="0.7"/>
<rect x="496.05" y="149.70" width="5.90" height="38.80" fill="#050505" opacity="0.7"/>
<rect x="496.05" y="189.80" width="5.90" height="38.20" fill="#050505" opacity="0.7"/>
<rect x="496.85" y="138.00" width="4.30" height="8.00" rx="0.80" fill="#f44c1a"/>
<rect x="496.85" y="150.70" width="4.30" height="36.80" rx="0.80" fill="#e2f22a"/>
<rect x="496.85" y="190.80" width="4.30" height="36.20" rx="0.80" fill="#f44c1a"/>
<clipPath id="cp4"><path d="M496.60,227.00 L495.93,228.50 L495.26,230.00 L494.59,231.50 L493.94,233.00 L493.31,234.50 L492.69,236.00 L492.08,237.50 L491.49,239.00 L490.92,240.50 L490.36,242.00 L489.82,243.50 L489.30,245.00 L488.79,246.50 L488.30,248.00 L487.83,249.50 L487.38,251.00 L486.94,252.50 L486.52,254.00 L486.12,255.50 L485.74,257.00 L485.37,258.50 L485.03,260.00 L484.70,261.50 L484.39,263.00 L484.11,264.50 L483.84,266.00 L483.58,267.50 L483.35,269.00 L483.14,270.50 L482.94,272.00 L482.76,273.50 L482.60,275.00 L482.45,276.50 L482.32,278.00 L482.21,279.50 L482.11,281.00 L482.02,282.50 L481.95,284.00 L481.89,285.50 L481.85,287.00 L481.82,288.50 L481.81,290.00 L481.80,291.50 L481.81,293.00 L481.83,294.50 L481.87,296.00 L481.91,297.50 L481.96,299.00 L482.03,300.50 L482.10,302.00 L482.19,303.50 L482.28,305.00 L482.38,306.50 L482.49,308.00 L482.61,309.50 L482.74,311.00 L482.88,312.50 L483.03,314.00 L483.18,315.50 L483.34,317.00 L483.51,318.50 L483.69,320.00 L483.87,321.50 L484.06,323.00 L484.26,324.50 L484.46,326.00 L484.67,327.50 L484.88,329.00 L485.10,330.50 L485.32,332.00 L485.55,333.50 L485.79,335.00 L486.03,336.50 L486.27,338.00 L486.51,339.50 L486.76,341.00 L487.02,342.50 L487.27,344.00 L487.53,345.50 L487.80,347.00 L488.06,348.50 L488.33,350.00 L488.60,351.50 L488.87,353.00 L489.14,354.50 L489.42,356.00 L489.69,357.50 L489.97,359.00 L490.24,360.50 L490.52,362.00 L490.80,363.50 L491.07,365.00 L491.35,366.50 L491.62,368.00 L491.90,369.50 L492.17,371.00 L492.44,372.50 L492.71,374.00 L492.98,375.50 L493.25,377.00 L493.51,378.50 L493.77,380.00 L494.03,381.50 L494.29,383.00 L494.54,384.50 L494.79,386.00 L495.03,387.50 L495.27,389.00 L495.51,390.50 L495.74,392.00 L495.96,393.50 L496.18,395.00 L496.40,396.50 L496.61,398.00 L496.81,399.50 L496.90,400.00 L501.10,400.00 L501.19,399.50 L501.39,398.00 L501.60,396.50 L501.82,395.00 L502.04,393.50 L502.26,392.00 L502.49,390.50 L502.73,389.00 L502.97,387.50 L503.21,386.00 L503.46,384.50 L503.71,383.00 L503.97,381.50 L504.23,380.00 L504.49,378.50 L504.75,377.00 L505.02,375.50 L505.29,374.00 L505.56,372.50 L505.83,371.00 L506.10,369.50 L506.38,368.00 L506.65,366.50 L506.93,365.00 L507.20,363.50 L507.48,362.00 L507.76,360.50 L508.03,359.00 L508.31,357.50 L508.58,356.00 L508.86,354.50 L509.13,353.00 L509.40,351.50 L509.67,350.00 L509.94,348.50 L510.20,347.00 L510.47,345.50 L510.73,344.00 L510.98,342.50 L511.24,341.00 L511.49,339.50 L511.73,338.00 L511.97,336.50 L512.21,335.00 L512.45,333.50 L512.68,332.00 L512.90,330.50 L513.12,329.00 L513.33,327.50 L513.54,326.00 L513.74,324.50 L513.94,323.00 L514.13,321.50 L514.31,320.00 L514.49,318.50 L514.66,317.00 L514.82,315.50 L514.97,314.00 L515.12,312.50 L515.26,311.00 L515.39,309.50 L515.51,308.00 L515.62,306.50 L515.72,305.00 L515.81,303.50 L515.90,302.00 L515.97,300.50 L516.04,299.00 L516.09,297.50 L516.13,296.00 L516.17,294.50 L516.19,293.00 L516.20,291.50 L516.19,290.00 L516.18,288.50 L516.15,287.00 L516.11,285.50 L516.05,284.00 L515.98,282.50 L515.89,281.00 L515.79,279.50 L515.68,278.00 L515.55,276.50 L515.40,275.00 L515.24,273.50 L515.06,272.00 L514.86,270.50 L514.65,269.00 L514.42,267.50 L514.16,266.00 L513.89,264.50 L513.61,263.00 L513.30,261.50 L512.97,260.00 L512.63,258.50 L512.26,257.00 L511.88,255.50 L511.48,254.00 L511.06,252.50 L510.62,251.00 L510.17,249.50 L509.70,248.00 L509.21,246.50 L508.70,245.00 L508.18,243.50 L507.64,242.00 L507.08,240.50 L506.51,239.00 L505.92,237.50 L505.31,236.00 L504.69,234.50 L504.06,233.00 L503.41,231.50 L502.74,230.00 L502.07,228.50 L501.40,227.00Z"/></clipPath>
<linearGradient id="bg4" x1="481.7" x2="516.3" y1="0" y2="0" gradientUnits="userSpaceOnUse"><stop offset="0" stop-color="#2236b2"/><stop offset="0.25" stop-color="#3656cc"/><stop offset="0.5" stop-color="#5674d8"/><stop offset="0.75" stop-color="#3656cc"/><stop offset="1" stop-color="#2236b2"/></linearGradient>
<linearGradient id="hs4" x1="0" x2="0" y1="269.0" y2="388.0" gradientUnits="userSpaceOnUse"><stop offset="0" stop-color="#e4e8ff" stop-opacity="0"/><stop offset="0.06" stop-color="#e0e6ff" stop-opacity="0.7"/><stop offset="0.25" stop-color="#e8cce0" stop-opacity="0.65"/><stop offset="0.55" stop-color="#dcb0cc" stop-opacity="0.5"/><stop offset="1" stop-color="#c8d0f8" stop-opacity="0.1"/></linearGradient>
<path d="M496.60,227.00 L495.93,228.50 L495.26,230.00 L494.59,231.50 L493.94,233.00 L493.31,234.50 L492.69,236.00 L492.08,237.50 L491.49,239.00 L490.92,240.50 L490.36,242.00 L489.82,243.50 L489.30,245.00 L488.79,246.50 L488.30,248.00 L487.83,249.50 L487.38,251.00 L486.94,252.50 L486.52,254.00 L486.12,255.50 L485.74,257.00 L485.37,258.50 L485.03,260.00 L484.70,261.50 L484.39,263.00 L484.11,264.50 L483.84,266.00 L483.58,267.50 L483.35,269.00 L483.14,270.50 L482.94,272.00 L482.76,273.50 L482.60,275.00 L482.45,276.50 L482.32,278.00 L482.21,279.50 L482.11,281.00 L482.02,282.50 L481.95,284.00 L481.89,285.50 L481.85,287.00 L481.82,288.50 L481.81,290.00 L481.80,291.50 L481.81,293.00 L481.83,294.50 L481.87,296.00 L481.91,297.50 L481.96,299.00 L482.03,300.50 L482.10,302.00 L482.19,303.50 L482.28,305.00 L482.38,306.50 L482.49,308.00 L482.61,309.50 L482.74,311.00 L482.88,312.50 L483.03,314.00 L483.18,315.50 L483.34,317.00 L483.51,318.50 L483.69,320.00 L483.87,321.50 L484.06,323.00 L484.26,324.50 L484.46,326.00 L484.67,327.50 L484.88,329.00 L485.10,330.50 L485.32,332.00 L485.55,333.50 L485.79,335.00 L486.03,336.50 L486.27,338.00 L486.51,339.50 L486.76,341.00 L487.02,342.50 L487.27,344.00 L487.53,345.50 L487.80,347.00 L488.06,348.50 L488.33,350.00 L488.60,351.50 L488.87,353.00 L489.14,354.50 L489.42,356.00 L489.69,357.50 L489.97,359.00 L490.24,360.50 L490.52,362.00 L490.80,363.50 L491.07,365.00 L491.35,366.50 L491.62,368.00 L491.90,369.50 L492.17,371.00 L492.44,372.50 L492.71,374.00 L492.98,375.50 L493.25,377.00 L493.51,378.50 L493.77,380.00 L494.03,381.50 L494.29,383.00 L494.54,384.50 L494.79,386.00 L495.03,387.50 L495.27,389.00 L495.51,390.50 L495.74,392.00 L495.96,393.50 L496.18,395.00 L496.40,396.50 L496.61,398.00 L496.81,399.50 L496.90,400.00 L501.10,400.00 L501.19,399.50 L501.39,398.00 L501.60,396.50 L501.82,395.00 L502.04,393.50 L502.26,392.00 L502.49,390.50 L502.73,389.00 L502.97,387.50 L503.21,386.00 L503.46,384.50 L503.71,383.00 L503.97,381.50 L504.23,380.00 L504.49,378.50 L504.75,377.00 L505.02,375.50 L505.29,374.00 L505.56,372.50 L505.83,371.00 L506.10,369.50 L506.38,368.00 L506.65,366.50 L506.93,365.00 L507.20,363.50 L507.48,362.00 L507.76,360.50 L508.03,359.00 L508.31,357.50 L508.58,356.00 L508.86,354.50 L509.13,353.00 L509.40,351.50 L509.67,350.00 L509.94,348.50 L510.20,347.00 L510.47,345.50 L510.73,344.00 L510.98,342.50 L511.24,341.00 L511.49,339.50 L511.73,338.00 L511.97,336.50 L512.21,335.00 L512.45,333.50 L512.68,332.00 L512.90,330.50 L513.12,329.00 L513.33,327.50 L513.54,326.00 L513.74,324.50 L513.94,323.00 L514.13,321.50 L514.31,320.00 L514.49,318.50 L514.66,317.00 L514.82,315.50 L514.97,314.00 L515.12,312.50 L515.26,311.00 L515.39,309.50 L515.51,308.00 L515.62,306.50 L515.72,305.00 L515.81,303.50 L515.90,302.00 L515.97,300.50 L516.04,299.00 L516.09,297.50 L516.13,296.00 L516.17,294.50 L516.19,293.00 L516.20,291.50 L516.19,290.00 L516.18,288.50 L516.15,287.00 L516.11,285.50 L516.05,284.00 L515.98,282.50 L515.89,281.00 L515.79,279.50 L515.68,278.00 L515.55,276.50 L515.40,275.00 L515.24,273.50 L515.06,272.00 L514.86,270.50 L514.65,269.00 L514.42,267.50 L514.16,266.00 L513.89,264.50 L513.61,263.00 L513.30,261.50 L512.97,260.00 L512.63,258.50 L512.26,257.00 L511.88,255.50 L511.48,254.00 L511.06,252.50 L510.62,251.00 L510.17,249.50 L509.70,248.00 L509.21,246.50 L508.70,245.00 L508.18,243.50 L507.64,242.00 L507.08,240.50 L506.51,239.00 L505.92,237.50 L505.31,236.00 L504.69,234.50 L504.06,233.00 L503.41,231.50 L502.74,230.00 L502.07,228.50 L501.40,227.00Z" fill="url(#bg4)"/>
<g clip-path="url(#cp4)">
<rect x="480.70" y="227.00" width="36.60" height="173.00" filter="url(#spk)" opacity="0.45"/>
<rect x="480.70" y="227.00" width="36.60" height="173.00" filter="url(#spl)" opacity="0.3"/>
<rect x="496.00" y="235.00" width="5" height="50.00" rx="2.5" fill="#b8c4ff" opacity="0.3"/>
<rect x="492.60" y="269.00" width="5.8" height="119.00" rx="2.9" fill="url(#hs4)"/>
<path d="M498.2,297.0 l2.5,4 l-1.5,7 l2.5,6 l-1.5,8 l1,6" stroke="#c42836" stroke-width="3" fill="none" opacity="0.85"/>
<path d="M501.0,298.0 q7,6 4,13 q-3,5 2,9 q5,4 1,9" stroke="#2a1866" stroke-width="1.7" fill="none" opacity="0.65"/>
<circle cx="503.5" cy="307.0" r="1.7" fill="#c43040" opacity="0.8"/>
<circle cx="504.5" cy="320.0" r="1.6" fill="#b02a48" opacity="0.75"/>
<ellipse cx="500.2" cy="333.7" rx="2.3" ry="2.6" fill="#c03040" opacity="0.8"/>
<circle cx="502.4" cy="330.5" r="1.1" fill="#2a1a6a" opacity="0.7"/>
<ellipse cx="500.2" cy="344.6" rx="2.3" ry="2.6" fill="#c03040" opacity="0.8"/>
<circle cx="502.4" cy="341.4" r="1.1" fill="#2a1a6a" opacity="0.7"/>
<ellipse cx="500.2" cy="355.4" rx="2.3" ry="2.6" fill="#c03040" opacity="0.8"/>
<circle cx="502.4" cy="352.2" r="1.1" fill="#2a1a6a" opacity="0.7"/>
<rect x="499.8" y="366.3" width="3.2" height="3.0" rx="1" fill="#2a1a6a" opacity="0.55"/>
<rect x="496.8" y="367.3" width="2.6" height="2.5" rx="1" fill="#c84050" opacity="0.45"/>
<rect x="499.8" y="370.8" width="3.2" height="3.0" rx="1" fill="#2a1a6a" opacity="0.55"/>
<rect x="496.8" y="371.8" width="2.6" height="2.5" rx="1" fill="#c84050" opacity="0.45"/>
<rect x="499.8" y="375.2" width="3.2" height="3.0" rx="1" fill="#2a1a6a" opacity="0.55"/>
<rect x="496.8" y="376.2" width="2.6" height="2.5" rx="1" fill="#c84050" opacity="0.45"/>
<rect x="499.8" y="379.7" width="3.2" height="3.0" rx="1" fill="#2a1a6a" opacity="0.55"/>
<rect x="496.8" y="380.7" width="2.6" height="2.5" rx="1" fill="#c84050" opacity="0.45"/>
<rect x="499.8" y="384.2" width="3.2" height="3.0" rx="1" fill="#2a1a6a" opacity="0.55"/>
<rect x="496.8" y="385.2" width="2.6" height="2.5" rx="1" fill="#c84050" opacity="0.45"/>
</g>
<path d="M496.60,227.00 L495.93,228.50 L495.26,230.00 L494.59,231.50 L493.94,233.00 L493.31,234.50 L492.69,236.00 L492.08,237.50 L491.49,239.00 L490.92,240.50 L490.36,242.00 L489.82,243.50 L489.30,245.00 L488.79,246.50 L488.30,248.00 L487.83,249.50 L487.38,251.00 L486.94,252.50 L486.52,254.00 L486.12,255.50 L485.74,257.00 L485.37,258.50 L485.03,260.00 L484.70,261.50 L484.39,263.00 L484.11,264.50 L483.84,266.00 L483.58,267.50 L483.35,269.00 L483.14,270.50 L482.94,272.00 L482.76,273.50 L482.60,275.00 L482.45,276.50 L482.32,278.00 L482.21,279.50 L482.11,281.00 L482.02,282.50 L481.95,284.00 L481.89,285.50 L481.85,287.00 L481.82,288.50 L481.81,290.00 L481.80,291.50 L481.81,293.00 L481.83,294.50 L481.87,296.00 L481.91,297.50 L481.96,299.00 L482.03,300.50 L482.10,302.00 L482.19,303.50 L482.28,305.00 L482.38,306.50 L482.49,308.00 L482.61,309.50 L482.74,311.00 L482.88,312.50 L483.03,314.00 L483.18,315.50 L483.34,317.00 L483.51,318.50 L483.69,320.00 L483.87,321.50 L484.06,323.00 L484.26,324.50 L484.46,326.00 L484.67,327.50 L484.88,329.00 L485.10,330.50 L485.32,332.00 L485.55,333.50 L485.79,335.00 L486.03,336.50 L486.27,338.00 L486.51,339.50 L486.76,341.00 L487.02,342.50 L487.27,344.00 L487.53,345.50 L487.80,347.00 L488.06,348.50 L488.33,350.00 L488.60,351.50 L488.87,353.00 L489.14,354.50 L489.42,356.00 L489.69,357.50 L489.97,359.00 L490.24,360.50 L490.52,362.00 L490.80,363.50 L491.07,365.00 L491.35,366.50 L491.62,368.00 L491.90,369.50 L492.17,371.00 L492.44,372.50 L492.71,374.00 L492.98,375.50 L493.25,377.00 L493.51,378.50 L493.77,380.00 L494.03,381.50 L494.29,383.00 L494.54,384.50 L494.79,386.00 L495.03,387.50 L495.27,389.00 L495.51,390.50 L495.74,392.00 L495.96,393.50 L496.18,395.00 L496.40,396.50 L496.61,398.00 L496.81,399.50 L496.90,400.00 L501.10,400.00 L501.19,399.50 L501.39,398.00 L501.60,396.50 L501.82,395.00 L502.04,393.50 L502.26,392.00 L502.49,390.50 L502.73,389.00 L502.97,387.50 L503.21,386.00 L503.46,384.50 L503.71,383.00 L503.97,381.50 L504.23,380.00 L504.49,378.50 L504.75,377.00 L505.02,375.50 L505.29,374.00 L505.56,372.50 L505.83,371.00 L506.10,369.50 L506.38,368.00 L506.65,366.50 L506.93,365.00 L507.20,363.50 L507.48,362.00 L507.76,360.50 L508.03,359.00 L508.31,357.50 L508.58,356.00 L508.86,354.50 L509.13,353.00 L509.40,351.50 L509.67,350.00 L509.94,348.50 L510.20,347.00 L510.47,345.50 L510.73,344.00 L510.98,342.50 L511.24,341.00 L511.49,339.50 L511.73,338.00 L511.97,336.50 L512.21,335.00 L512.45,333.50 L512.68,332.00 L512.90,330.50 L513.12,329.00 L513.33,327.50 L513.54,326.00 L513.74,324.50 L513.94,323.00 L514.13,321.50 L514.31,320.00 L514.49,318.50 L514.66,317.00 L514.82,315.50 L514.97,314.00 L515.12,312.50 L515.26,311.00 L515.39,309.50 L515.51,308.00 L515.62,306.50 L515.72,305.00 L515.81,303.50 L515.90,302.00 L515.97,300.50 L516.04,299.00 L516.09,297.50 L516.13,296.00 L516.17,294.50 L516.19,293.00 L516.20,291.50 L516.19,290.00 L516.18,288.50 L516.15,287.00 L516.11,285.50 L516.05,284.00 L515.98,282.50 L515.89,281.00 L515.79,279.50 L515.68,278.00 L515.55,276.50 L515.40,275.00 L515.24,273.50 L515.06,272.00 L514.86,270.50 L514.65,269.00 L514.42,267.50 L514.16,266.00 L513.89,264.50 L513.61,263.00 L513.30,261.50 L512.97,260.00 L512.63,258.50 L512.26,257.00 L511.88,255.50 L511.48,254.00 L511.06,252.50 L510.62,251.00 L510.17,249.50 L509.70,248.00 L509.21,246.50 L508.70,245.00 L508.18,243.50 L507.64,242.00 L507.08,240.50 L506.51,239.00 L505.92,237.50 L505.31,236.00 L504.69,234.50 L504.06,233.00 L503.41,231.50 L502.74,230.00 L502.07,228.50 L501.40,227.00Z" fill="none" stroke="#a4b0ec" stroke-width="1" stroke-opacity="0.9"/>
<path d="M496.80,227.00 L501.20,227.00 L502.36,232.00 L495.64,232.00Z" fill="#e4e4ee" opacity="0.9"/>
<rect x="493.96" y="233.90" width="10.08" height="1.1" fill="#e8ecff" opacity="0.75"/>
<rect x="495.00" y="389.20" width="8.00" height="1.1" fill="#e8ecff" opacity="0.75"/>
<path d="M495.40,392.40 L502.60,392.40 L501.00,400.00 L497.00,400.00Z" fill="#d4d4de"/>
<text transform="translate(575.30,195.60) scale(0.92,1)" font-size="8.4" fill="#d0d0d0" text-anchor="middle">2.1mm</text>
<path d="M572.2,197.3 v12 M579.8,197.3 v12 M572.2,198.8 h7.6" stroke="#a0a0a0" stroke-width="0.7" fill="none" opacity="0.6"/>
<rect x="571.80" y="251.50" width="8.40" height="31.00" fill="#060606" opacity="0.6"/>
<rect x="573.20" y="321.20" width="5.60" height="29.70" fill="#060606" opacity="0.6"/>
<rect x="573.10" y="351.30" width="5.80" height="33.90" fill="#060606" opacity="0.6"/>
<rect x="573.20" y="385.10" width="5.60" height="31.60" fill="#060606" opacity="0.6"/>
<rect x="573.10" y="417.80" width="5.80" height="14.40" fill="#060606" opacity="0.6"/>
<path d="M572.80,250.00 L572.80,203.30 Q572.80,200.30 576.00,200.30 Q579.20,200.30 579.20,203.30 L579.20,250.00Z" fill="#f44c1a"/>
<rect x="572.90" y="252.70" width="6.20" height="28.60" rx="0.60" fill="#e2f22a"/>
<path d="M572.80,283.80 L579.20,283.80 L579.20,306.00 C579.20,313.00 577.20,317.50 576.00,319.00 C574.80,317.50 572.80,313.00 572.80,306.00Z" fill="#f44c1a"/>
<rect x="574.30" y="322.40" width="3.40" height="27.30" rx="0.60" fill="#bce632"/>
<rect x="574.20" y="352.50" width="3.60" height="31.50" rx="0.60" fill="#e8421e"/>
<rect x="574.30" y="386.30" width="3.40" height="29.20" rx="0.60" fill="#bce632"/>
<rect x="574.20" y="419.00" width="3.60" height="12.00" rx="0.60" fill="#e8421e"/>
<text transform="translate(544.83,173.9) scale(0.932,1)" x="0" y="0" font-size="35.4" fill="#fafafa">NA-002</text>
<rect x="333" y="431" width="333" height="40" fill="#ffffff"/>
<rect x="333" y="431" width="333" height="18.5" fill="#dedede"/>
<rect x="333" y="431" width="24" height="18.5" fill="#e8e8e8"/>
<rect x="333" y="467.3" width="333" height="1" fill="#e4e4e4"/>
<rect x="357.5" y="449.5" width="0.8" height="17.8" fill="#e2e2e2"/>
<rect x="390.5" y="449.5" width="0.8" height="17.8" fill="#e2e2e2"/>
<rect x="423.5" y="449.5" width="0.8" height="17.8" fill="#e2e2e2"/>
<rect x="457.5" y="449.5" width="0.8" height="17.8" fill="#e2e2e2"/>
<rect x="490.5" y="449.5" width="0.8" height="17.8" fill="#e2e2e2"/>
<rect x="524" y="449.5" width="0.8" height="17.8" fill="#e2e2e2"/>
<rect x="559" y="449.5" width="0.8" height="17.8" fill="#e2e2e2"/>
<rect x="588.5" y="449.5" width="0.8" height="17.8" fill="#e2e2e2"/>
<rect x="617.5" y="449.5" width="0.8" height="17.8" fill="#e2e2e2"/>
<rect x="647" y="449.5" width="0.8" height="17.8" fill="#e2e2e2"/>
<text transform="translate(345.80,443.60) scale(0.9,1)" font-size="8.8" fill="#2c2c2c" stroke="#2c2c2c" stroke-width="0.15" text-anchor="middle">DRIFT</text>
<text x="345.5" y="457" font-size="6" fill="#2a2a2a" stroke="#2a2a2a" stroke-width="0.2" text-anchor="middle" letter-spacing="-0.2">Average</text>
<text x="345.5" y="463" font-size="6" fill="#2a2a2a" stroke="#2a2a2a" stroke-width="0.2" text-anchor="middle">size</text>
<text transform="translate(374.00,435.90) scale(0.92,1)" font-size="6.2" fill="#2e2e2e" stroke="#2e2e2e" stroke-width="0.12" text-anchor="middle">total float</text>
<text transform="translate(374.00,441.90) scale(0.92,1)" font-size="6.2" fill="#2e2e2e" stroke="#2e2e2e" stroke-width="0.12" text-anchor="middle">length</text>
<text transform="translate(374.00,447.90) scale(0.92,1)" font-size="6.2" fill="#2e2e2e" stroke="#2e2e2e" stroke-width="0.12" text-anchor="middle">(CM)</text>
<text x="374.0" y="462.2" font-size="8.8" fill="#2a2a2a" stroke="#2a2a2a" stroke-width="0.06" text-anchor="middle" letter-spacing="-0.3">24.5</text>
<text transform="translate(407.00,435.90) scale(0.92,1)" font-size="6.2" fill="#2e2e2e" stroke="#2e2e2e" stroke-width="0.12" text-anchor="middle">float</text>
<text transform="translate(407.00,441.90) scale(0.92,1)" font-size="6.2" fill="#2e2e2e" stroke="#2e2e2e" stroke-width="0.12" text-anchor="middle">length</text>
<text transform="translate(407.00,447.90) scale(0.92,1)" font-size="6.2" fill="#2e2e2e" stroke="#2e2e2e" stroke-width="0.12" text-anchor="middle">(CM)</text>
<text x="407.0" y="462.2" font-size="8.8" fill="#2a2a2a" stroke="#2a2a2a" stroke-width="0.06" text-anchor="middle" letter-spacing="-0.3">5.5</text>
<text transform="translate(440.50,435.90) scale(0.92,1)" font-size="6.2" fill="#2e2e2e" stroke="#2e2e2e" stroke-width="0.12" text-anchor="middle">drift tail</text>
<text transform="translate(440.50,441.90) scale(0.92,1)" font-size="6.2" fill="#2e2e2e" stroke="#2e2e2e" stroke-width="0.12" text-anchor="middle">length</text>
<text transform="translate(440.50,447.90) scale(0.92,1)" font-size="6.2" fill="#2e2e2e" stroke="#2e2e2e" stroke-width="0.12" text-anchor="middle">(CM)</text>
<text x="440.5" y="462.2" font-size="8.8" fill="#2a2a2a" stroke="#2a2a2a" stroke-width="0.06" text-anchor="middle" letter-spacing="-0.3">12.0</text>
<text transform="translate(474.00,435.90) scale(0.92,1)" font-size="6.2" fill="#2e2e2e" stroke="#2e2e2e" stroke-width="0.12" text-anchor="middle">floating</text>
<text transform="translate(474.00,441.90) scale(0.92,1)" font-size="6.2" fill="#2e2e2e" stroke="#2e2e2e" stroke-width="0.12" text-anchor="middle">foot length</text>
<text transform="translate(474.00,447.90) scale(0.92,1)" font-size="6.2" fill="#2e2e2e" stroke="#2e2e2e" stroke-width="0.12" text-anchor="middle">(CM)</text>
<text x="474.0" y="462.2" font-size="8.8" fill="#2a2a2a" stroke="#2a2a2a" stroke-width="0.06" text-anchor="middle" letter-spacing="-0.3">7.0</text>
<text transform="translate(507.25,435.90) scale(0.92,1)" font-size="6.2" fill="#2e2e2e" stroke="#2e2e2e" stroke-width="0.12" text-anchor="middle">body</text>
<text transform="translate(507.25,441.90) scale(0.92,1)" font-size="6.2" fill="#2e2e2e" stroke="#2e2e2e" stroke-width="0.12" text-anchor="middle">diameter</text>
<text transform="translate(507.25,447.90) scale(0.92,1)" font-size="6.2" fill="#2e2e2e" stroke="#2e2e2e" stroke-width="0.12" text-anchor="middle">(MM)</text>
<text x="507.2" y="462.2" font-size="8.8" fill="#2a2a2a" stroke="#2a2a2a" stroke-width="0.06" text-anchor="middle" letter-spacing="-0.3">10.6</text>
<text transform="translate(541.50,435.90) scale(0.92,1)" font-size="6.2" fill="#2e2e2e" stroke="#2e2e2e" stroke-width="0.12" text-anchor="middle">tail</text>
<text transform="translate(541.50,441.90) scale(0.92,1)" font-size="6.2" fill="#2e2e2e" stroke="#2e2e2e" stroke-width="0.12" text-anchor="middle">diameter</text>
<text transform="translate(541.50,447.90) scale(0.92,1)" font-size="6.2" fill="#2e2e2e" stroke="#2e2e2e" stroke-width="0.12" text-anchor="middle">(MM)</text>
<text x="541.5" y="462.2" font-size="8.8" fill="#2a2a2a" stroke="#2a2a2a" stroke-width="0.06" text-anchor="middle" letter-spacing="-0.3">0.9-2.1</text>
<text transform="translate(573.75,435.90) scale(0.92,1)" font-size="6.2" fill="#2e2e2e" stroke="#2e2e2e" stroke-width="0.12" text-anchor="middle">foot</text>
<text transform="translate(573.75,441.90) scale(0.92,1)" font-size="6.2" fill="#2e2e2e" stroke="#2e2e2e" stroke-width="0.12" text-anchor="middle">diameter</text>
<text transform="translate(573.75,447.90) scale(0.92,1)" font-size="6.2" fill="#2e2e2e" stroke="#2e2e2e" stroke-width="0.12" text-anchor="middle">(MM)</text>
<text x="573.8" y="462.2" font-size="8.8" fill="#2a2a2a" stroke="#2a2a2a" stroke-width="0.06" text-anchor="middle" letter-spacing="-0.3">0.9</text>
<text transform="translate(603.00,435.90) scale(0.92,1)" font-size="6.2" fill="#2e2e2e" stroke="#2e2e2e" stroke-width="0.12" text-anchor="middle">dead</text>
<text transform="translate(603.00,441.90) scale(0.92,1)" font-size="6.2" fill="#2e2e2e" stroke="#2e2e2e" stroke-width="0.12" text-anchor="middle">weight</text>
<text transform="translate(603.00,447.90) scale(0.92,1)" font-size="6.2" fill="#2e2e2e" stroke="#2e2e2e" stroke-width="0.12" text-anchor="middle">(G)</text>
<text x="603.0" y="462.2" font-size="8.8" fill="#2a2a2a" stroke="#2a2a2a" stroke-width="0.06" text-anchor="middle" letter-spacing="-0.3">0.87</text>
<text transform="translate(632.25,435.90) scale(0.92,1)" font-size="6.2" fill="#2e2e2e" stroke="#2e2e2e" stroke-width="0.12" text-anchor="middle">eat</text>
<text transform="translate(632.25,441.90) scale(0.92,1)" font-size="6.2" fill="#2e2e2e" stroke="#2e2e2e" stroke-width="0.12" text-anchor="middle">lead</text>
<text transform="translate(632.25,447.90) scale(0.92,1)" font-size="6.2" fill="#2e2e2e" stroke="#2e2e2e" stroke-width="0.12" text-anchor="middle">(G)</text>
<text x="632.2" y="462.2" font-size="8.8" fill="#2a2a2a" stroke="#2a2a2a" stroke-width="0.06" text-anchor="middle" letter-spacing="-0.3">2.1</text>
<text transform="translate(656.50,442.80) scale(0.88,1)" font-size="6.6" fill="#2e2e2e" stroke="#2e2e2e" stroke-width="0.12" text-anchor="middle">mesh</text>
<text x="656.5" y="462.2" font-size="8.8" fill="#2a2a2a" stroke="#2a2a2a" stroke-width="0.06" text-anchor="middle" letter-spacing="-0.3">9</text>
<rect x="745.7" y="139.56" width="11.1" height="1.1" fill="#bcbcbc"/>
<rect x="745.7" y="146.88" width="6.5" height="1.1" fill="#bcbcbc"/>
<rect x="745.7" y="154.20" width="6.5" height="1.1" fill="#bcbcbc"/>
<rect x="745.7" y="161.52" width="6.5" height="1.1" fill="#bcbcbc"/>
<rect x="745.7" y="168.83" width="6.5" height="1.1" fill="#bcbcbc"/>
<rect x="745.7" y="176.15" width="16.3" height="1.1" fill="#bcbcbc"/>
<text transform="translate(756.1,154.1) rotate(90) scale(0.97,0.9)" x="0" y="0" font-size="9.1" fill="#d0d0d0">40cm</text>
<rect x="745.7" y="183.47" width="6.5" height="1.1" fill="#bcbcbc"/>
<rect x="745.7" y="190.78" width="6.5" height="1.1" fill="#bcbcbc"/>
<rect x="745.7" y="198.10" width="6.5" height="1.1" fill="#bcbcbc"/>
<rect x="745.7" y="205.42" width="6.5" height="1.1" fill="#bcbcbc"/>
<rect x="745.7" y="212.73" width="11.1" height="1.1" fill="#bcbcbc"/>
<rect x="745.7" y="220.05" width="6.5" height="1.1" fill="#bcbcbc"/>
<rect x="745.7" y="227.37" width="6.5" height="1.1" fill="#bcbcbc"/>
<rect x="745.7" y="234.69" width="6.5" height="1.1" fill="#bcbcbc"/>
<rect x="745.7" y="242.00" width="6.5" height="1.1" fill="#bcbcbc"/>
<rect x="745.7" y="249.32" width="16.3" height="1.1" fill="#bcbcbc"/>
<text transform="translate(756.1,227.3) rotate(90) scale(0.97,0.9)" x="0" y="0" font-size="9.1" fill="#d0d0d0">30cm</text>
<rect x="745.7" y="256.64" width="6.5" height="1.1" fill="#bcbcbc"/>
<rect x="745.7" y="263.95" width="6.5" height="1.1" fill="#bcbcbc"/>
<rect x="745.7" y="271.27" width="6.5" height="1.1" fill="#bcbcbc"/>
<rect x="745.7" y="278.59" width="6.5" height="1.1" fill="#bcbcbc"/>
<rect x="745.7" y="285.90" width="11.1" height="1.1" fill="#bcbcbc"/>
<rect x="745.7" y="293.22" width="6.5" height="1.1" fill="#bcbcbc"/>
<rect x="745.7" y="300.54" width="6.5" height="1.1" fill="#bcbcbc"/>
<rect x="745.7" y="307.86" width="6.5" height="1.1" fill="#bcbcbc"/>
<rect x="745.7" y="315.17" width="6.5" height="1.1" fill="#bcbcbc"/>
<rect x="745.7" y="322.49" width="16.3" height="1.1" fill="#bcbcbc"/>
<text transform="translate(756.1,300.4) rotate(90) scale(0.97,0.9)" x="0" y="0" font-size="9.1" fill="#d0d0d0">20cm</text>
<rect x="745.7" y="329.81" width="6.5" height="1.1" fill="#bcbcbc"/>
<rect x="745.7" y="337.12" width="6.5" height="1.1" fill="#bcbcbc"/>
<rect x="745.7" y="344.44" width="6.5" height="1.1" fill="#bcbcbc"/>
<rect x="745.7" y="351.76" width="6.5" height="1.1" fill="#bcbcbc"/>
<rect x="745.7" y="359.07" width="11.1" height="1.1" fill="#bcbcbc"/>
<rect x="745.7" y="366.39" width="6.5" height="1.1" fill="#bcbcbc"/>
<rect x="745.7" y="373.71" width="6.5" height="1.1" fill="#bcbcbc"/>
<rect x="745.7" y="381.03" width="6.5" height="1.1" fill="#bcbcbc"/>
<rect x="745.7" y="388.34" width="6.5" height="1.1" fill="#bcbcbc"/>
<rect x="745.7" y="395.66" width="16.3" height="1.1" fill="#bcbcbc"/>
<text transform="translate(756.1,373.6) rotate(90) scale(0.97,0.9)" x="0" y="0" font-size="9.1" fill="#d0d0d0">10cm</text>
<rect x="745.7" y="402.98" width="6.5" height="1.1" fill="#bcbcbc"/>
<rect x="745.7" y="410.29" width="6.5" height="1.1" fill="#bcbcbc"/>
<rect x="745.7" y="417.61" width="6.5" height="1.1" fill="#bcbcbc"/>
<rect x="745.7" y="424.93" width="6.5" height="1.1" fill="#bcbcbc"/>
<rect x="776.75" y="402.40" width="1.3" height="28.60" fill="#5a5a5a"/>
<rect x="775.75" y="275.95" width="3.30" height="11.60" fill="#080808" opacity="0.35"/>
<rect x="776.15" y="276.55" width="2.50" height="10.40" rx="0.40" fill="#cc5a2e"/>
<rect x="775.75" y="287.45" width="3.30" height="11.60" fill="#080808" opacity="0.35"/>
<rect x="776.15" y="288.05" width="2.50" height="10.40" rx="0.40" fill="#cfe04c"/>
<rect x="775.75" y="298.96" width="3.30" height="11.60" fill="#080808" opacity="0.35"/>
<rect x="776.15" y="299.56" width="2.50" height="10.40" rx="0.40" fill="#c85a2e"/>
<rect x="776.00" y="310.61" width="2.80" height="8.65" fill="#080808" opacity="0.35"/>
<rect x="776.40" y="311.21" width="2.00" height="7.45" rx="0.40" fill="#8ea040"/>
<rect x="776.00" y="319.46" width="2.80" height="8.65" fill="#080808" opacity="0.35"/>
<rect x="776.40" y="320.06" width="2.00" height="7.45" rx="0.40" fill="#9a4a2c"/>
<rect x="776.00" y="328.31" width="2.80" height="8.65" fill="#080808" opacity="0.35"/>
<rect x="776.40" y="328.91" width="2.00" height="7.45" rx="0.40" fill="#8ea040"/>
<rect x="776.00" y="337.15" width="2.80" height="8.65" fill="#080808" opacity="0.35"/>
<rect x="776.40" y="337.75" width="2.00" height="7.45" rx="0.40" fill="#9a4a2c"/>
<rect x="776.00" y="346.00" width="2.80" height="8.65" fill="#080808" opacity="0.35"/>
<rect x="776.40" y="346.60" width="2.00" height="7.45" rx="0.40" fill="#8ea040"/>
<rect x="776.00" y="354.85" width="2.80" height="8.65" fill="#080808" opacity="0.35"/>
<rect x="776.40" y="355.45" width="2.00" height="7.45" rx="0.40" fill="#9a4a2c"/>
<linearGradient id="bg5" x1="773.6" x2="781.1999999999999" y1="0" y2="0" gradientUnits="userSpaceOnUse"><stop offset="0" stop-color="#1a2a9a"/><stop offset="0.22" stop-color="#4a74e8"/><stop offset="0.5" stop-color="#b4c8ff"/><stop offset="0.78" stop-color="#4a74e8"/><stop offset="1" stop-color="#1a2a9a"/></linearGradient>
<path d="M776.80,363.60 C776.55,364.29 775.78,366.09 775.31,367.75 C774.84,369.41 774.26,371.49 773.98,373.56 C773.70,375.63 773.60,377.80 773.60,380.20 C773.60,382.60 773.70,385.38 773.98,387.97 C774.26,390.56 774.84,393.33 775.31,395.74 C775.78,398.14 776.55,401.29 776.80,402.40 L778.00,402.40 C778.25,401.29 779.02,398.14 779.49,395.74 C779.96,393.33 780.53,390.56 780.82,387.97 C781.10,385.38 781.20,382.60 781.20,380.20 C781.20,377.80 781.10,375.63 780.82,373.56 C780.53,371.49 779.96,369.41 779.49,367.75 C779.02,366.09 778.25,364.29 778.00,363.60Z" fill="url(#bg5)"/>
<rect x="776.80" y="378.20" width="1.3" height="5" fill="#c04868" opacity="0.6"/>
<ellipse cx="777.40" cy="365.10" rx="0.9" ry="1.6" fill="#f0f0f8" opacity="0.9"/>
<ellipse cx="777.40" cy="400.90" rx="0.9" ry="1.8" fill="#f4f4fa" opacity="0.95"/>
<rect x="831.60" y="394.00" width="1.2" height="37.00" fill="#4a4a4a"/>
<rect x="829.25" y="138.00" width="5.90" height="6.00" fill="#050505" opacity="0.7"/>
<rect x="829.25" y="146.70" width="5.90" height="38.00" fill="#050505" opacity="0.7"/>
<rect x="829.25" y="186.00" width="5.90" height="38.30" fill="#050505" opacity="0.7"/>
<rect x="830.05" y="138.00" width="4.30" height="5.00" rx="0.80" fill="#f44c1a"/>
<rect x="830.05" y="147.70" width="4.30" height="36.00" rx="0.80" fill="#e2f22a"/>
<rect x="830.05" y="187.00" width="4.30" height="36.30" rx="0.80" fill="#f44c1a"/>
<clipPath id="cp6"><path d="M829.80,223.30 L829.17,224.80 L828.51,226.30 L827.87,227.80 L827.24,229.30 L826.64,230.80 L826.05,232.30 L825.48,233.80 L824.93,235.30 L824.40,236.80 L823.88,238.30 L823.38,239.80 L822.90,241.30 L822.43,242.80 L821.98,244.30 L821.55,245.80 L821.13,247.30 L820.73,248.80 L820.34,250.30 L819.98,251.80 L819.62,253.30 L819.28,254.80 L818.96,256.30 L818.66,257.80 L818.36,259.30 L818.09,260.80 L817.83,262.30 L817.58,263.80 L817.35,265.30 L817.13,266.80 L816.93,268.30 L816.74,269.80 L816.56,271.30 L816.40,272.80 L816.25,274.30 L816.12,275.80 L816.00,277.30 L815.89,278.80 L815.79,280.30 L815.71,281.80 L815.64,283.30 L815.59,284.80 L815.54,286.30 L815.51,287.80 L815.49,289.30 L815.49,290.80 L815.49,292.30 L815.51,293.80 L815.54,295.30 L815.58,296.80 L815.63,298.30 L815.69,299.80 L815.76,301.30 L815.84,302.80 L815.94,304.30 L816.04,305.80 L816.15,307.30 L816.27,308.80 L816.41,310.30 L816.55,311.80 L816.69,313.30 L816.85,314.80 L817.01,316.30 L817.19,317.80 L817.37,319.30 L817.55,320.80 L817.75,322.30 L817.95,323.80 L818.16,325.30 L818.37,326.80 L818.59,328.30 L818.81,329.80 L819.04,331.30 L819.28,332.80 L819.52,334.30 L819.76,335.80 L820.01,337.30 L820.26,338.80 L820.52,340.30 L820.78,341.80 L821.05,343.30 L821.31,344.80 L821.58,346.30 L821.85,347.80 L822.13,349.30 L822.40,350.80 L822.68,352.30 L822.96,353.80 L823.24,355.30 L823.52,356.80 L823.80,358.30 L824.08,359.80 L824.37,361.30 L824.65,362.80 L824.93,364.30 L825.21,365.80 L825.49,367.30 L825.77,368.80 L826.04,370.30 L826.32,371.80 L826.59,373.30 L826.86,374.80 L827.13,376.30 L827.39,377.80 L827.66,379.30 L827.91,380.80 L828.17,382.30 L828.42,383.80 L828.67,385.30 L828.91,386.80 L829.15,388.30 L829.38,389.80 L829.61,391.30 L829.83,392.80 L830.00,394.00 L834.40,394.00 L834.57,392.80 L834.79,391.30 L835.02,389.80 L835.25,388.30 L835.49,386.80 L835.73,385.30 L835.98,383.80 L836.23,382.30 L836.49,380.80 L836.74,379.30 L837.01,377.80 L837.27,376.30 L837.54,374.80 L837.81,373.30 L838.08,371.80 L838.36,370.30 L838.63,368.80 L838.91,367.30 L839.19,365.80 L839.47,364.30 L839.75,362.80 L840.03,361.30 L840.32,359.80 L840.60,358.30 L840.88,356.80 L841.16,355.30 L841.44,353.80 L841.72,352.30 L842.00,350.80 L842.27,349.30 L842.55,347.80 L842.82,346.30 L843.09,344.80 L843.35,343.30 L843.62,341.80 L843.88,340.30 L844.14,338.80 L844.39,337.30 L844.64,335.80 L844.88,334.30 L845.12,332.80 L845.36,331.30 L845.59,329.80 L845.81,328.30 L846.03,326.80 L846.24,325.30 L846.45,323.80 L846.65,322.30 L846.85,320.80 L847.03,319.30 L847.21,317.80 L847.39,316.30 L847.55,314.80 L847.71,313.30 L847.85,311.80 L847.99,310.30 L848.13,308.80 L848.25,307.30 L848.36,305.80 L848.46,304.30 L848.56,302.80 L848.64,301.30 L848.71,299.80 L848.77,298.30 L848.82,296.80 L848.86,295.30 L848.89,293.80 L848.91,292.30 L848.91,290.80 L848.91,289.30 L848.89,287.80 L848.86,286.30 L848.81,284.80 L848.76,283.30 L848.69,281.80 L848.61,280.30 L848.51,278.80 L848.40,277.30 L848.28,275.80 L848.15,274.30 L848.00,272.80 L847.84,271.30 L847.66,269.80 L847.47,268.30 L847.27,266.80 L847.05,265.30 L846.82,263.80 L846.57,262.30 L846.31,260.80 L846.04,259.30 L845.74,257.80 L845.44,256.30 L845.12,254.80 L844.78,253.30 L844.42,251.80 L844.06,250.30 L843.67,248.80 L843.27,247.30 L842.85,245.80 L842.42,244.30 L841.97,242.80 L841.50,241.30 L841.02,239.80 L840.52,238.30 L840.00,236.80 L839.47,235.30 L838.92,233.80 L838.35,232.30 L837.76,230.80 L837.16,229.30 L836.53,227.80 L835.89,226.30 L835.23,224.80 L834.60,223.30Z"/></clipPath>
<linearGradient id="bg6" x1="815.25" x2="849.1500000000001" y1="0" y2="0" gradientUnits="userSpaceOnUse"><stop offset="0" stop-color="#2038b8"/><stop offset="0.25" stop-color="#3e60d8"/><stop offset="0.5" stop-color="#6282e2"/><stop offset="0.75" stop-color="#3e60d8"/><stop offset="1" stop-color="#2038b8"/></linearGradient>
<linearGradient id="hs6" x1="0" x2="0" y1="264.0" y2="382.0" gradientUnits="userSpaceOnUse"><stop offset="0" stop-color="#e4e8ff" stop-opacity="0"/><stop offset="0.06" stop-color="#e0e6ff" stop-opacity="0.7"/><stop offset="0.25" stop-color="#e8cce0" stop-opacity="0.65"/><stop offset="0.55" stop-color="#dcb0cc" stop-opacity="0.5"/><stop offset="1" stop-color="#c8d0f8" stop-opacity="0.1"/></linearGradient>
<path d="M829.80,223.30 L829.17,224.80 L828.51,226.30 L827.87,227.80 L827.24,229.30 L826.64,230.80 L826.05,232.30 L825.48,233.80 L824.93,235.30 L824.40,236.80 L823.88,238.30 L823.38,239.80 L822.90,241.30 L822.43,242.80 L821.98,244.30 L821.55,245.80 L821.13,247.30 L820.73,248.80 L820.34,250.30 L819.98,251.80 L819.62,253.30 L819.28,254.80 L818.96,256.30 L818.66,257.80 L818.36,259.30 L818.09,260.80 L817.83,262.30 L817.58,263.80 L817.35,265.30 L817.13,266.80 L816.93,268.30 L816.74,269.80 L816.56,271.30 L816.40,272.80 L816.25,274.30 L816.12,275.80 L816.00,277.30 L815.89,278.80 L815.79,280.30 L815.71,281.80 L815.64,283.30 L815.59,284.80 L815.54,286.30 L815.51,287.80 L815.49,289.30 L815.49,290.80 L815.49,292.30 L815.51,293.80 L815.54,295.30 L815.58,296.80 L815.63,298.30 L815.69,299.80 L815.76,301.30 L815.84,302.80 L815.94,304.30 L816.04,305.80 L816.15,307.30 L816.27,308.80 L816.41,310.30 L816.55,311.80 L816.69,313.30 L816.85,314.80 L817.01,316.30 L817.19,317.80 L817.37,319.30 L817.55,320.80 L817.75,322.30 L817.95,323.80 L818.16,325.30 L818.37,326.80 L818.59,328.30 L818.81,329.80 L819.04,331.30 L819.28,332.80 L819.52,334.30 L819.76,335.80 L820.01,337.30 L820.26,338.80 L820.52,340.30 L820.78,341.80 L821.05,343.30 L821.31,344.80 L821.58,346.30 L821.85,347.80 L822.13,349.30 L822.40,350.80 L822.68,352.30 L822.96,353.80 L823.24,355.30 L823.52,356.80 L823.80,358.30 L824.08,359.80 L824.37,361.30 L824.65,362.80 L824.93,364.30 L825.21,365.80 L825.49,367.30 L825.77,368.80 L826.04,370.30 L826.32,371.80 L826.59,373.30 L826.86,374.80 L827.13,376.30 L827.39,377.80 L827.66,379.30 L827.91,380.80 L828.17,382.30 L828.42,383.80 L828.67,385.30 L828.91,386.80 L829.15,388.30 L829.38,389.80 L829.61,391.30 L829.83,392.80 L830.00,394.00 L834.40,394.00 L834.57,392.80 L834.79,391.30 L835.02,389.80 L835.25,388.30 L835.49,386.80 L835.73,385.30 L835.98,383.80 L836.23,382.30 L836.49,380.80 L836.74,379.30 L837.01,377.80 L837.27,376.30 L837.54,374.80 L837.81,373.30 L838.08,371.80 L838.36,370.30 L838.63,368.80 L838.91,367.30 L839.19,365.80 L839.47,364.30 L839.75,362.80 L840.03,361.30 L840.32,359.80 L840.60,358.30 L840.88,356.80 L841.16,355.30 L841.44,353.80 L841.72,352.30 L842.00,350.80 L842.27,349.30 L842.55,347.80 L842.82,346.30 L843.09,344.80 L843.35,343.30 L843.62,341.80 L843.88,340.30 L844.14,338.80 L844.39,337.30 L844.64,335.80 L844.88,334.30 L845.12,332.80 L845.36,331.30 L845.59,329.80 L845.81,328.30 L846.03,326.80 L846.24,325.30 L846.45,323.80 L846.65,322.30 L846.85,320.80 L847.03,319.30 L847.21,317.80 L847.39,316.30 L847.55,314.80 L847.71,313.30 L847.85,311.80 L847.99,310.30 L848.13,308.80 L848.25,307.30 L848.36,305.80 L848.46,304.30 L848.56,302.80 L848.64,301.30 L848.71,299.80 L848.77,298.30 L848.82,296.80 L848.86,295.30 L848.89,293.80 L848.91,292.30 L848.91,290.80 L848.91,289.30 L848.89,287.80 L848.86,286.30 L848.81,284.80 L848.76,283.30 L848.69,281.80 L848.61,280.30 L848.51,278.80 L848.40,277.30 L848.28,275.80 L848.15,274.30 L848.00,272.80 L847.84,271.30 L847.66,269.80 L847.47,268.30 L847.27,266.80 L847.05,265.30 L846.82,263.80 L846.57,262.30 L846.31,260.80 L846.04,259.30 L845.74,257.80 L845.44,256.30 L845.12,254.80 L844.78,253.30 L844.42,251.80 L844.06,250.30 L843.67,248.80 L843.27,247.30 L842.85,245.80 L842.42,244.30 L841.97,242.80 L841.50,241.30 L841.02,239.80 L840.52,238.30 L840.00,236.80 L839.47,235.30 L838.92,233.80 L838.35,232.30 L837.76,230.80 L837.16,229.30 L836.53,227.80 L835.89,226.30 L835.23,224.80 L834.60,223.30Z" fill="url(#bg6)"/>
<g clip-path="url(#cp6)">
<rect x="814.25" y="223.30" width="35.90" height="170.70" filter="url(#spk)" opacity="0.45"/>
<rect x="814.25" y="223.30" width="35.90" height="170.70" filter="url(#spl)" opacity="0.3"/>
<rect x="829.20" y="231.30" width="5" height="56.70" rx="2.5" fill="#b8c4ff" opacity="0.3"/>
<rect x="825.80" y="264.00" width="5.8" height="118.00" rx="2.9" fill="url(#hs6)"/>
<path d="M831.4,291.0 l2.5,4 l-1.5,7 l2.5,6 l-1.5,8 l1,6" stroke="#c42836" stroke-width="3" fill="none" opacity="0.85"/>
<path d="M834.2,292.0 q7,6 4,13 q-3,5 2,9 q5,4 1,9" stroke="#2a1866" stroke-width="1.7" fill="none" opacity="0.65"/>
<circle cx="836.7" cy="301.0" r="1.7" fill="#c43040" opacity="0.8"/>
<circle cx="837.7" cy="314.0" r="1.6" fill="#b02a48" opacity="0.75"/>
<ellipse cx="833.4" cy="327.7" rx="2.3" ry="2.6" fill="#c03040" opacity="0.8"/>
<circle cx="835.6" cy="324.5" r="1.1" fill="#2a1a6a" opacity="0.7"/>
<ellipse cx="833.4" cy="338.6" rx="2.3" ry="2.6" fill="#c03040" opacity="0.8"/>
<circle cx="835.6" cy="335.4" r="1.1" fill="#2a1a6a" opacity="0.7"/>
<ellipse cx="833.4" cy="349.4" rx="2.3" ry="2.6" fill="#c03040" opacity="0.8"/>
<circle cx="835.6" cy="346.2" r="1.1" fill="#2a1a6a" opacity="0.7"/>
<rect x="833.0" y="360.3" width="3.2" height="3.0" rx="1" fill="#2a1a6a" opacity="0.55"/>
<rect x="830.0" y="361.3" width="2.6" height="2.5" rx="1" fill="#c84050" opacity="0.45"/>
<rect x="833.0" y="364.8" width="3.2" height="3.0" rx="1" fill="#2a1a6a" opacity="0.55"/>
<rect x="830.0" y="365.8" width="2.6" height="2.5" rx="1" fill="#c84050" opacity="0.45"/>
<rect x="833.0" y="369.2" width="3.2" height="3.0" rx="1" fill="#2a1a6a" opacity="0.55"/>
<rect x="830.0" y="370.2" width="2.6" height="2.5" rx="1" fill="#c84050" opacity="0.45"/>
<rect x="833.0" y="373.7" width="3.2" height="3.0" rx="1" fill="#2a1a6a" opacity="0.55"/>
<rect x="830.0" y="374.7" width="2.6" height="2.5" rx="1" fill="#c84050" opacity="0.45"/>
<rect x="833.0" y="378.2" width="3.2" height="3.0" rx="1" fill="#2a1a6a" opacity="0.55"/>
<rect x="830.0" y="379.2" width="2.6" height="2.5" rx="1" fill="#c84050" opacity="0.45"/>
</g>
<path d="M829.80,223.30 L829.17,224.80 L828.51,226.30 L827.87,227.80 L827.24,229.30 L826.64,230.80 L826.05,232.30 L825.48,233.80 L824.93,235.30 L824.40,236.80 L823.88,238.30 L823.38,239.80 L822.90,241.30 L822.43,242.80 L821.98,244.30 L821.55,245.80 L821.13,247.30 L820.73,248.80 L820.34,250.30 L819.98,251.80 L819.62,253.30 L819.28,254.80 L818.96,256.30 L818.66,257.80 L818.36,259.30 L818.09,260.80 L817.83,262.30 L817.58,263.80 L817.35,265.30 L817.13,266.80 L816.93,268.30 L816.74,269.80 L816.56,271.30 L816.40,272.80 L816.25,274.30 L816.12,275.80 L816.00,277.30 L815.89,278.80 L815.79,280.30 L815.71,281.80 L815.64,283.30 L815.59,284.80 L815.54,286.30 L815.51,287.80 L815.49,289.30 L815.49,290.80 L815.49,292.30 L815.51,293.80 L815.54,295.30 L815.58,296.80 L815.63,298.30 L815.69,299.80 L815.76,301.30 L815.84,302.80 L815.94,304.30 L816.04,305.80 L816.15,307.30 L816.27,308.80 L816.41,310.30 L816.55,311.80 L816.69,313.30 L816.85,314.80 L817.01,316.30 L817.19,317.80 L817.37,319.30 L817.55,320.80 L817.75,322.30 L817.95,323.80 L818.16,325.30 L818.37,326.80 L818.59,328.30 L818.81,329.80 L819.04,331.30 L819.28,332.80 L819.52,334.30 L819.76,335.80 L820.01,337.30 L820.26,338.80 L820.52,340.30 L820.78,341.80 L821.05,343.30 L821.31,344.80 L821.58,346.30 L821.85,347.80 L822.13,349.30 L822.40,350.80 L822.68,352.30 L822.96,353.80 L823.24,355.30 L823.52,356.80 L823.80,358.30 L824.08,359.80 L824.37,361.30 L824.65,362.80 L824.93,364.30 L825.21,365.80 L825.49,367.30 L825.77,368.80 L826.04,370.30 L826.32,371.80 L826.59,373.30 L826.86,374.80 L827.13,376.30 L827.39,377.80 L827.66,379.30 L827.91,380.80 L828.17,382.30 L828.42,383.80 L828.67,385.30 L828.91,386.80 L829.15,388.30 L829.38,389.80 L829.61,391.30 L829.83,392.80 L830.00,394.00 L834.40,394.00 L834.57,392.80 L834.79,391.30 L835.02,389.80 L835.25,388.30 L835.49,386.80 L835.73,385.30 L835.98,383.80 L836.23,382.30 L836.49,380.80 L836.74,379.30 L837.01,377.80 L837.27,376.30 L837.54,374.80 L837.81,373.30 L838.08,371.80 L838.36,370.30 L838.63,368.80 L838.91,367.30 L839.19,365.80 L839.47,364.30 L839.75,362.80 L840.03,361.30 L840.32,359.80 L840.60,358.30 L840.88,356.80 L841.16,355.30 L841.44,353.80 L841.72,352.30 L842.00,350.80 L842.27,349.30 L842.55,347.80 L842.82,346.30 L843.09,344.80 L843.35,343.30 L843.62,341.80 L843.88,340.30 L844.14,338.80 L844.39,337.30 L844.64,335.80 L844.88,334.30 L845.12,332.80 L845.36,331.30 L845.59,329.80 L845.81,328.30 L846.03,326.80 L846.24,325.30 L846.45,323.80 L846.65,322.30 L846.85,320.80 L847.03,319.30 L847.21,317.80 L847.39,316.30 L847.55,314.80 L847.71,313.30 L847.85,311.80 L847.99,310.30 L848.13,308.80 L848.25,307.30 L848.36,305.80 L848.46,304.30 L848.56,302.80 L848.64,301.30 L848.71,299.80 L848.77,298.30 L848.82,296.80 L848.86,295.30 L848.89,293.80 L848.91,292.30 L848.91,290.80 L848.91,289.30 L848.89,287.80 L848.86,286.30 L848.81,284.80 L848.76,283.30 L848.69,281.80 L848.61,280.30 L848.51,278.80 L848.40,277.30 L848.28,275.80 L848.15,274.30 L848.00,272.80 L847.84,271.30 L847.66,269.80 L847.47,268.30 L847.27,266.80 L847.05,265.30 L846.82,263.80 L846.57,262.30 L846.31,260.80 L846.04,259.30 L845.74,257.80 L845.44,256.30 L845.12,254.80 L844.78,253.30 L844.42,251.80 L844.06,250.30 L843.67,248.80 L843.27,247.30 L842.85,245.80 L842.42,244.30 L841.97,242.80 L841.50,241.30 L841.02,239.80 L840.52,238.30 L840.00,236.80 L839.47,235.30 L838.92,233.80 L838.35,232.30 L837.76,230.80 L837.16,229.30 L836.53,227.80 L835.89,226.30 L835.23,224.80 L834.60,223.30Z" fill="none" stroke="#a4b0ec" stroke-width="1" stroke-opacity="0.9"/>
<path d="M830.00,223.30 L834.40,223.30 L835.56,229.00 L828.84,229.00Z" fill="#e4e4ee" opacity="0.9"/>
<rect x="826.62" y="233.50" width="11.16" height="1.1" fill="#e8ecff" opacity="0.75"/>
<rect x="827.60" y="377.50" width="9.20" height="1.1" fill="#e8ecff" opacity="0.75"/>
<path d="M828.50,383.50 L835.90,383.50 L834.20,394.00 L830.20,394.00Z" fill="#d4d4de"/>
<text transform="translate(908.30,195.60) scale(0.92,1)" font-size="8.4" fill="#d0d0d0" text-anchor="middle">2.1mm</text>
<path d="M905.2,197.3 v12 M912.8,197.3 v12 M905.2,198.8 h7.6" stroke="#a0a0a0" stroke-width="0.7" fill="none" opacity="0.6"/>
<rect x="904.80" y="251.50" width="8.40" height="31.00" fill="#060606" opacity="0.6"/>
<rect x="906.20" y="321.20" width="5.60" height="29.70" fill="#060606" opacity="0.6"/>
<rect x="906.10" y="351.30" width="5.80" height="33.90" fill="#060606" opacity="0.6"/>
<rect x="906.20" y="385.10" width="5.60" height="31.60" fill="#060606" opacity="0.6"/>
<rect x="906.10" y="417.80" width="5.80" height="14.40" fill="#060606" opacity="0.6"/>
<path d="M905.80,250.00 L905.80,203.30 Q905.80,200.30 909.00,200.30 Q912.20,200.30 912.20,203.30 L912.20,250.00Z" fill="#f44c1a"/>
<rect x="905.90" y="252.70" width="6.20" height="28.60" rx="0.60" fill="#e2f22a"/>
<path d="M905.80,283.80 L912.20,283.80 L912.20,306.00 C912.20,313.00 910.20,317.50 909.00,319.00 C907.80,317.50 905.80,313.00 905.80,306.00Z" fill="#f44c1a"/>
<rect x="907.30" y="322.40" width="3.40" height="27.30" rx="0.60" fill="#bce632"/>
<rect x="907.20" y="352.50" width="3.60" height="31.50" rx="0.60" fill="#e8421e"/>
<rect x="907.30" y="386.30" width="3.40" height="29.20" rx="0.60" fill="#bce632"/>
<rect x="907.20" y="419.00" width="3.60" height="12.00" rx="0.60" fill="#e8421e"/>
<text transform="translate(878.16,173.9) scale(0.932,1)" x="0" y="0" font-size="35.4" fill="#fafafa">NA-003</text>
<rect x="666" y="431" width="333" height="40" fill="#ffffff"/>
<rect x="666" y="431" width="333" height="18.5" fill="#dedede"/>
<rect x="666" y="431" width="24" height="18.5" fill="#e8e8e8"/>
<rect x="666" y="467.3" width="333" height="1" fill="#e4e4e4"/>
<rect x="690.5" y="449.5" width="0.8" height="17.8" fill="#e2e2e2"/>
<rect x="723.5" y="449.5" width="0.8" height="17.8" fill="#e2e2e2"/>
<rect x="756.5" y="449.5" width="0.8" height="17.8" fill="#e2e2e2"/>
<rect x="790.5" y="449.5" width="0.8" height="17.8" fill="#e2e2e2"/>
<rect x="823.5" y="449.5" width="0.8" height="17.8" fill="#e2e2e2"/>
<rect x="857" y="449.5" width="0.8" height="17.8" fill="#e2e2e2"/>
<rect x="892" y="449.5" width="0.8" height="17.8" fill="#e2e2e2"/>
<rect x="921.5" y="449.5" width="0.8" height="17.8" fill="#e2e2e2"/>
<rect x="950.5" y="449.5" width="0.8" height="17.8" fill="#e2e2e2"/>
<rect x="980" y="449.5" width="0.8" height="17.8" fill="#e2e2e2"/>
<text transform="translate(678.80,443.60) scale(0.9,1)" font-size="8.8" fill="#2c2c2c" stroke="#2c2c2c" stroke-width="0.15" text-anchor="middle">DRIFT</text>
<text x="678.5" y="457" font-size="6" fill="#2a2a2a" stroke="#2a2a2a" stroke-width="0.2" text-anchor="middle" letter-spacing="-0.2">Average</text>
<text x="678.5" y="463" font-size="6" fill="#2a2a2a" stroke="#2a2a2a" stroke-width="0.2" text-anchor="middle">size</text>
<text transform="translate(707.00,435.90) scale(0.92,1)" font-size="6.2" fill="#2e2e2e" stroke="#2e2e2e" stroke-width="0.12" text-anchor="middle">total float</text>
<text transform="translate(707.00,441.90) scale(0.92,1)" font-size="6.2" fill="#2e2e2e" stroke="#2e2e2e" stroke-width="0.12" text-anchor="middle">length</text>
<text transform="translate(707.00,447.90) scale(0.92,1)" font-size="6.2" fill="#2e2e2e" stroke="#2e2e2e" stroke-width="0.12" text-anchor="middle">(CM)</text>
<text x="707.0" y="462.2" font-size="8.8" fill="#2a2a2a" stroke="#2a2a2a" stroke-width="0.06" text-anchor="middle" letter-spacing="-0.3">26.5</text>
<text transform="translate(740.00,435.90) scale(0.92,1)" font-size="6.2" fill="#2e2e2e" stroke="#2e2e2e" stroke-width="0.12" text-anchor="middle">float</text>
<text transform="translate(740.00,441.90) scale(0.92,1)" font-size="6.2" fill="#2e2e2e" stroke="#2e2e2e" stroke-width="0.12" text-anchor="middle">length</text>
<text transform="translate(740.00,447.90) scale(0.92,1)" font-size="6.2" fill="#2e2e2e" stroke="#2e2e2e" stroke-width="0.12" text-anchor="middle">(CM)</text>
<text x="740.0" y="462.2" font-size="8.8" fill="#2a2a2a" stroke="#2a2a2a" stroke-width="0.06" text-anchor="middle" letter-spacing="-0.3">5.5</text>
<text transform="translate(773.50,435.90) scale(0.92,1)" font-size="6.2" fill="#2e2e2e" stroke="#2e2e2e" stroke-width="0.12" text-anchor="middle">drift tail</text>
<text transform="translate(773.50,441.90) scale(0.92,1)" font-size="6.2" fill="#2e2e2e" stroke="#2e2e2e" stroke-width="0.12" text-anchor="middle">length</text>
<text transform="translate(773.50,447.90) scale(0.92,1)" font-size="6.2" fill="#2e2e2e" stroke="#2e2e2e" stroke-width="0.12" text-anchor="middle">(CM)</text>
<text x="773.5" y="462.2" font-size="8.8" fill="#2a2a2a" stroke="#2a2a2a" stroke-width="0.06" text-anchor="middle" letter-spacing="-0.3">12.0</text>
<text transform="translate(807.00,435.90) scale(0.92,1)" font-size="6.2" fill="#2e2e2e" stroke="#2e2e2e" stroke-width="0.12" text-anchor="middle">floating</text>
<text transform="translate(807.00,441.90) scale(0.92,1)" font-size="6.2" fill="#2e2e2e" stroke="#2e2e2e" stroke-width="0.12" text-anchor="middle">foot length</text>
<text transform="translate(807.00,447.90) scale(0.92,1)" font-size="6.2" fill="#2e2e2e" stroke="#2e2e2e" stroke-width="0.12" text-anchor="middle">(CM)</text>
<text x="807.0" y="462.2" font-size="8.8" fill="#2a2a2a" stroke="#2a2a2a" stroke-width="0.06" text-anchor="middle" letter-spacing="-0.3">9.0</text>
<text transform="translate(840.25,435.90) scale(0.92,1)" font-size="6.2" fill="#2e2e2e" stroke="#2e2e2e" stroke-width="0.12" text-anchor="middle">body</text>
<text transform="translate(840.25,441.90) scale(0.92,1)" font-size="6.2" fill="#2e2e2e" stroke="#2e2e2e" stroke-width="0.12" text-anchor="middle">diameter</text>
<text transform="translate(840.25,447.90) scale(0.92,1)" font-size="6.2" fill="#2e2e2e" stroke="#2e2e2e" stroke-width="0.12" text-anchor="middle">(MM)</text>
<text x="840.2" y="462.2" font-size="8.8" fill="#2a2a2a" stroke="#2a2a2a" stroke-width="0.06" text-anchor="middle" letter-spacing="-0.3">10.7</text>
<text transform="translate(874.50,435.90) scale(0.92,1)" font-size="6.2" fill="#2e2e2e" stroke="#2e2e2e" stroke-width="0.12" text-anchor="middle">tail</text>
<text transform="translate(874.50,441.90) scale(0.92,1)" font-size="6.2" fill="#2e2e2e" stroke="#2e2e2e" stroke-width="0.12" text-anchor="middle">diameter</text>
<text transform="translate(874.50,447.90) scale(0.92,1)" font-size="6.2" fill="#2e2e2e" stroke="#2e2e2e" stroke-width="0.12" text-anchor="middle">(MM)</text>
<text x="874.5" y="462.2" font-size="8.8" fill="#2a2a2a" stroke="#2a2a2a" stroke-width="0.06" text-anchor="middle" letter-spacing="-0.3">0.9-2.1</text>
<text transform="translate(906.75,435.90) scale(0.92,1)" font-size="6.2" fill="#2e2e2e" stroke="#2e2e2e" stroke-width="0.12" text-anchor="middle">foot</text>
<text transform="translate(906.75,441.90) scale(0.92,1)" font-size="6.2" fill="#2e2e2e" stroke="#2e2e2e" stroke-width="0.12" text-anchor="middle">diameter</text>
<text transform="translate(906.75,447.90) scale(0.92,1)" font-size="6.2" fill="#2e2e2e" stroke="#2e2e2e" stroke-width="0.12" text-anchor="middle">(MM)</text>
<text x="906.8" y="462.2" font-size="8.8" fill="#2a2a2a" stroke="#2a2a2a" stroke-width="0.06" text-anchor="middle" letter-spacing="-0.3">0.9</text>
<text transform="translate(936.00,435.90) scale(0.92,1)" font-size="6.2" fill="#2e2e2e" stroke="#2e2e2e" stroke-width="0.12" text-anchor="middle">dead</text>
<text transform="translate(936.00,441.90) scale(0.92,1)" font-size="6.2" fill="#2e2e2e" stroke="#2e2e2e" stroke-width="0.12" text-anchor="middle">weight</text>
<text transform="translate(936.00,447.90) scale(0.92,1)" font-size="6.2" fill="#2e2e2e" stroke="#2e2e2e" stroke-width="0.12" text-anchor="middle">(G)</text>
<text x="936.0" y="462.2" font-size="8.8" fill="#2a2a2a" stroke="#2a2a2a" stroke-width="0.06" text-anchor="middle" letter-spacing="-0.3">0.79</text>
<text transform="translate(965.25,435.90) scale(0.92,1)" font-size="6.2" fill="#2e2e2e" stroke="#2e2e2e" stroke-width="0.12" text-anchor="middle">eat</text>
<text transform="translate(965.25,441.90) scale(0.92,1)" font-size="6.2" fill="#2e2e2e" stroke="#2e2e2e" stroke-width="0.12" text-anchor="middle">lead</text>
<text transform="translate(965.25,447.90) scale(0.92,1)" font-size="6.2" fill="#2e2e2e" stroke="#2e2e2e" stroke-width="0.12" text-anchor="middle">(G)</text>
<text x="965.2" y="462.2" font-size="8.8" fill="#2a2a2a" stroke="#2a2a2a" stroke-width="0.06" text-anchor="middle" letter-spacing="-0.3">2.2</text>
<text transform="translate(989.50,442.80) scale(0.88,1)" font-size="6.6" fill="#2e2e2e" stroke="#2e2e2e" stroke-width="0.12" text-anchor="middle">mesh</text>
<text x="989.5" y="462.2" font-size="8.8" fill="#2a2a2a" stroke="#2a2a2a" stroke-width="0.06" text-anchor="middle" letter-spacing="-0.3">9</text>
<rect x="79.7" y="531.57" width="11.1" height="1.1" fill="#bcbcbc"/>
<rect x="79.7" y="538.88" width="6.5" height="1.1" fill="#bcbcbc"/>
<rect x="79.7" y="546.20" width="6.5" height="1.1" fill="#bcbcbc"/>
<rect x="79.7" y="553.52" width="6.5" height="1.1" fill="#bcbcbc"/>
<rect x="79.7" y="560.83" width="6.5" height="1.1" fill="#bcbcbc"/>
<rect x="79.7" y="568.15" width="16.3" height="1.1" fill="#bcbcbc"/>
<text transform="translate(90.1,546.1) rotate(90) scale(0.97,0.9)" x="0" y="0" font-size="9.1" fill="#d0d0d0">40cm</text>
<rect x="79.7" y="575.47" width="6.5" height="1.1" fill="#bcbcbc"/>
<rect x="79.7" y="582.78" width="6.5" height="1.1" fill="#bcbcbc"/>
<rect x="79.7" y="590.10" width="6.5" height="1.1" fill="#bcbcbc"/>
<rect x="79.7" y="597.42" width="6.5" height="1.1" fill="#bcbcbc"/>
<rect x="79.7" y="604.74" width="11.1" height="1.1" fill="#bcbcbc"/>
<rect x="79.7" y="612.05" width="6.5" height="1.1" fill="#bcbcbc"/>
<rect x="79.7" y="619.37" width="6.5" height="1.1" fill="#bcbcbc"/>
<rect x="79.7" y="626.69" width="6.5" height="1.1" fill="#bcbcbc"/>
<rect x="79.7" y="634.00" width="6.5" height="1.1" fill="#bcbcbc"/>
<rect x="79.7" y="641.32" width="16.3" height="1.1" fill="#bcbcbc"/>
<text transform="translate(90.1,619.3) rotate(90) scale(0.97,0.9)" x="0" y="0" font-size="9.1" fill="#d0d0d0">30cm</text>
<rect x="79.7" y="648.64" width="6.5" height="1.1" fill="#bcbcbc"/>
<rect x="79.7" y="655.95" width="6.5" height="1.1" fill="#bcbcbc"/>
<rect x="79.7" y="663.27" width="6.5" height="1.1" fill="#bcbcbc"/>
<rect x="79.7" y="670.59" width="6.5" height="1.1" fill="#bcbcbc"/>
<rect x="79.7" y="677.91" width="11.1" height="1.1" fill="#bcbcbc"/>
<rect x="79.7" y="685.22" width="6.5" height="1.1" fill="#bcbcbc"/>
<rect x="79.7" y="692.54" width="6.5" height="1.1" fill="#bcbcbc"/>
<rect x="79.7" y="699.86" width="6.5" height="1.1" fill="#bcbcbc"/>
<rect x="79.7" y="707.17" width="6.5" height="1.1" fill="#bcbcbc"/>
<rect x="79.7" y="714.49" width="16.3" height="1.1" fill="#bcbcbc"/>
<text transform="translate(90.1,692.4) rotate(90) scale(0.97,0.9)" x="0" y="0" font-size="9.1" fill="#d0d0d0">20cm</text>
<rect x="79.7" y="721.81" width="6.5" height="1.1" fill="#bcbcbc"/>
<rect x="79.7" y="729.12" width="6.5" height="1.1" fill="#bcbcbc"/>
<rect x="79.7" y="736.44" width="6.5" height="1.1" fill="#bcbcbc"/>
<rect x="79.7" y="743.76" width="6.5" height="1.1" fill="#bcbcbc"/>
<rect x="79.7" y="751.08" width="11.1" height="1.1" fill="#bcbcbc"/>
<rect x="79.7" y="758.39" width="6.5" height="1.1" fill="#bcbcbc"/>
<rect x="79.7" y="765.71" width="6.5" height="1.1" fill="#bcbcbc"/>
<rect x="79.7" y="773.03" width="6.5" height="1.1" fill="#bcbcbc"/>
<rect x="79.7" y="780.34" width="6.5" height="1.1" fill="#bcbcbc"/>
<rect x="79.7" y="787.66" width="16.3" height="1.1" fill="#bcbcbc"/>
<text transform="translate(90.1,765.6) rotate(90) scale(0.97,0.9)" x="0" y="0" font-size="9.1" fill="#d0d0d0">10cm</text>
<rect x="79.7" y="794.98" width="6.5" height="1.1" fill="#bcbcbc"/>
<rect x="79.7" y="802.29" width="6.5" height="1.1" fill="#bcbcbc"/>
<rect x="79.7" y="809.61" width="6.5" height="1.1" fill="#bcbcbc"/>
<rect x="79.7" y="816.93" width="6.5" height="1.1" fill="#bcbcbc"/>
<rect x="109.85" y="776.00" width="1.3" height="47.00" fill="#5a5a5a"/>
<rect x="108.85" y="597.45" width="3.30" height="12.70" fill="#080808" opacity="0.35"/>
<rect x="109.25" y="598.05" width="2.50" height="11.50" rx="0.40" fill="#cc5a2e"/>
<rect x="108.85" y="610.05" width="3.30" height="12.70" fill="#080808" opacity="0.35"/>
<rect x="109.25" y="610.65" width="2.50" height="11.50" rx="0.40" fill="#cfe04c"/>
<rect x="108.85" y="622.65" width="3.30" height="12.70" fill="#080808" opacity="0.35"/>
<rect x="109.25" y="623.25" width="2.50" height="11.50" rx="0.40" fill="#c85a2e"/>
<rect x="109.10" y="635.39" width="2.80" height="9.49" fill="#080808" opacity="0.35"/>
<rect x="109.50" y="635.99" width="2.00" height="8.29" rx="0.40" fill="#8ea040"/>
<rect x="109.10" y="645.08" width="2.80" height="9.49" fill="#080808" opacity="0.35"/>
<rect x="109.50" y="645.68" width="2.00" height="8.29" rx="0.40" fill="#9a4a2c"/>
<rect x="109.10" y="654.77" width="2.80" height="9.49" fill="#080808" opacity="0.35"/>
<rect x="109.50" y="655.37" width="2.00" height="8.29" rx="0.40" fill="#8ea040"/>
<rect x="109.10" y="664.47" width="2.80" height="9.49" fill="#080808" opacity="0.35"/>
<rect x="109.50" y="665.07" width="2.00" height="8.29" rx="0.40" fill="#9a4a2c"/>
<rect x="109.10" y="674.16" width="2.80" height="9.49" fill="#080808" opacity="0.35"/>
<rect x="109.50" y="674.76" width="2.00" height="8.29" rx="0.40" fill="#8ea040"/>
<rect x="109.10" y="683.85" width="2.80" height="9.49" fill="#080808" opacity="0.35"/>
<rect x="109.50" y="684.45" width="2.00" height="8.29" rx="0.40" fill="#9a4a2c"/>
<rect x="109.10" y="693.54" width="2.80" height="9.49" fill="#080808" opacity="0.35"/>
<rect x="109.50" y="694.14" width="2.00" height="8.29" rx="0.40" fill="#8ea040"/>
<rect x="109.10" y="703.23" width="2.80" height="9.49" fill="#080808" opacity="0.35"/>
<rect x="109.50" y="703.83" width="2.00" height="8.29" rx="0.40" fill="#9a4a2c"/>
<rect x="109.10" y="712.92" width="2.80" height="9.49" fill="#080808" opacity="0.35"/>
<rect x="109.50" y="713.52" width="2.00" height="8.29" rx="0.40" fill="#8ea040"/>
<rect x="109.10" y="722.61" width="2.80" height="9.49" fill="#080808" opacity="0.35"/>
<rect x="109.50" y="723.21" width="2.00" height="8.29" rx="0.40" fill="#9a4a2c"/>
<linearGradient id="bg7" x1="106.45" x2="114.55" y1="0" y2="0" gradientUnits="userSpaceOnUse"><stop offset="0" stop-color="#1a2a9a"/><stop offset="0.22" stop-color="#4a74e8"/><stop offset="0.5" stop-color="#b4c8ff"/><stop offset="0.78" stop-color="#4a74e8"/><stop offset="1" stop-color="#1a2a9a"/></linearGradient>
<path d="M109.90,732.20 C109.63,733.03 108.78,735.17 108.27,737.15 C107.76,739.13 107.16,741.61 106.86,744.08 C106.55,746.56 106.45,749.28 106.45,752.00 C106.45,754.72 106.55,757.60 106.86,760.40 C107.16,763.20 107.76,766.20 108.27,768.80 C108.78,771.40 109.63,774.80 109.90,776.00 L111.10,776.00 C111.37,774.80 112.22,771.40 112.73,768.80 C113.24,766.20 113.84,763.20 114.14,760.40 C114.45,757.60 114.55,754.72 114.55,752.00 C114.55,749.28 114.45,746.56 114.14,744.08 C113.84,741.61 113.24,739.13 112.73,737.15 C112.22,735.17 111.37,733.03 111.10,732.20Z" fill="url(#bg7)"/>
<rect x="109.90" y="750.00" width="1.3" height="5" fill="#c04868" opacity="0.6"/>
<ellipse cx="110.50" cy="733.70" rx="0.9" ry="1.6" fill="#f0f0f8" opacity="0.9"/>
<ellipse cx="110.50" cy="774.50" rx="0.9" ry="1.8" fill="#f4f4fa" opacity="0.95"/>
<rect x="165.80" y="796.00" width="1.2" height="27.00" fill="#4a4a4a"/>
<rect x="163.45" y="530.00" width="5.90" height="4.00" fill="#050505" opacity="0.7"/>
<rect x="163.45" y="535.00" width="5.90" height="41.70" fill="#050505" opacity="0.7"/>
<rect x="163.45" y="577.80" width="5.90" height="35.00" fill="#050505" opacity="0.7"/>
<rect x="164.25" y="530.00" width="4.30" height="3.00" rx="0.80" fill="#f44c1a"/>
<rect x="164.25" y="536.00" width="4.30" height="39.70" rx="0.80" fill="#e2f22a"/>
<rect x="164.25" y="578.80" width="4.30" height="33.00" rx="0.80" fill="#f44c1a"/>
<clipPath id="cp8"><path d="M164.20,611.80 L163.86,613.30 L163.50,614.80 L163.13,616.30 L162.76,617.80 L162.38,619.30 L162.01,620.80 L161.63,622.30 L161.24,623.80 L160.86,625.30 L160.48,626.80 L160.09,628.30 L159.71,629.80 L159.32,631.30 L158.94,632.80 L158.56,634.30 L158.19,635.80 L157.81,637.30 L157.44,638.80 L157.07,640.30 L156.71,641.80 L156.35,643.30 L156.00,644.80 L155.66,646.30 L155.32,647.80 L154.98,649.30 L154.66,650.80 L154.34,652.30 L154.03,653.80 L153.73,655.30 L153.44,656.80 L153.16,658.30 L152.88,659.80 L152.62,661.30 L152.37,662.80 L152.13,664.30 L151.90,665.80 L151.69,667.30 L151.48,668.80 L151.29,670.30 L151.11,671.80 L150.94,673.30 L150.78,674.80 L150.64,676.30 L150.50,677.80 L150.38,679.30 L150.27,680.80 L150.18,682.30 L150.10,683.80 L150.03,685.30 L149.97,686.80 L149.93,688.30 L149.90,689.80 L149.89,691.30 L149.89,692.80 L149.90,694.30 L149.93,695.80 L149.97,697.30 L150.02,698.80 L150.09,700.30 L150.17,701.80 L150.27,703.30 L150.37,704.80 L150.49,706.30 L150.62,707.80 L150.76,709.30 L150.91,710.80 L151.08,712.30 L151.25,713.80 L151.43,715.30 L151.62,716.80 L151.81,718.30 L152.02,719.80 L152.23,721.30 L152.45,722.80 L152.68,724.30 L152.91,725.80 L153.15,727.30 L153.39,728.80 L153.64,730.30 L153.89,731.80 L154.15,733.30 L154.41,734.80 L154.67,736.30 L154.93,737.80 L155.20,739.30 L155.47,740.80 L155.74,742.30 L156.01,743.80 L156.28,745.30 L156.55,746.80 L156.82,748.30 L157.09,749.80 L157.37,751.30 L157.64,752.80 L157.91,754.30 L158.18,755.80 L158.45,757.30 L158.71,758.80 L158.98,760.30 L159.25,761.80 L159.51,763.30 L159.77,764.80 L160.03,766.30 L160.28,767.80 L160.53,769.30 L160.78,770.80 L161.03,772.30 L161.27,773.80 L161.51,775.30 L161.74,776.80 L161.97,778.30 L162.20,779.80 L162.42,781.30 L162.64,782.80 L162.85,784.30 L163.05,785.80 L163.25,787.30 L163.45,788.80 L163.63,790.30 L163.81,791.80 L163.99,793.30 L164.16,794.80 L164.30,796.00 L168.50,796.00 L168.64,794.80 L168.81,793.30 L168.99,791.80 L169.17,790.30 L169.35,788.80 L169.55,787.30 L169.75,785.80 L169.95,784.30 L170.16,782.80 L170.38,781.30 L170.60,779.80 L170.83,778.30 L171.06,776.80 L171.29,775.30 L171.53,773.80 L171.77,772.30 L172.02,770.80 L172.27,769.30 L172.52,767.80 L172.77,766.30 L173.03,764.80 L173.29,763.30 L173.55,761.80 L173.82,760.30 L174.09,758.80 L174.35,757.30 L174.62,755.80 L174.89,754.30 L175.16,752.80 L175.43,751.30 L175.71,749.80 L175.98,748.30 L176.25,746.80 L176.52,745.30 L176.79,743.80 L177.06,742.30 L177.33,740.80 L177.60,739.30 L177.87,737.80 L178.13,736.30 L178.39,734.80 L178.65,733.30 L178.91,731.80 L179.16,730.30 L179.41,728.80 L179.65,727.30 L179.89,725.80 L180.12,724.30 L180.35,722.80 L180.57,721.30 L180.78,719.80 L180.99,718.30 L181.18,716.80 L181.37,715.30 L181.55,713.80 L181.72,712.30 L181.89,710.80 L182.04,709.30 L182.18,707.80 L182.31,706.30 L182.43,704.80 L182.53,703.30 L182.63,701.80 L182.71,700.30 L182.78,698.80 L182.83,697.30 L182.87,695.80 L182.90,694.30 L182.91,692.80 L182.91,691.30 L182.90,689.80 L182.87,688.30 L182.83,686.80 L182.77,685.30 L182.70,683.80 L182.62,682.30 L182.53,680.80 L182.42,679.30 L182.30,677.80 L182.16,676.30 L182.02,674.80 L181.86,673.30 L181.69,671.80 L181.51,670.30 L181.32,668.80 L181.11,667.30 L180.90,665.80 L180.67,664.30 L180.43,662.80 L180.18,661.30 L179.92,659.80 L179.64,658.30 L179.36,656.80 L179.07,655.30 L178.77,653.80 L178.46,652.30 L178.14,650.80 L177.82,649.30 L177.48,647.80 L177.14,646.30 L176.80,644.80 L176.45,643.30 L176.09,641.80 L175.73,640.30 L175.36,638.80 L174.99,637.30 L174.61,635.80 L174.24,634.30 L173.86,632.80 L173.48,631.30 L173.09,629.80 L172.71,628.30 L172.32,626.80 L171.94,625.30 L171.56,623.80 L171.17,622.30 L170.79,620.80 L170.42,619.30 L170.04,617.80 L169.67,616.30 L169.30,614.80 L168.94,613.30 L168.60,611.80Z"/></clipPath>
<linearGradient id="bg8" x1="149.6" x2="183.20000000000002" y1="0" y2="0" gradientUnits="userSpaceOnUse"><stop offset="0" stop-color="#2236b2"/><stop offset="0.25" stop-color="#3656cc"/><stop offset="0.5" stop-color="#5674d8"/><stop offset="0.75" stop-color="#3656cc"/><stop offset="1" stop-color="#2236b2"/></linearGradient>
<linearGradient id="hs8" x1="0" x2="0" y1="665.0" y2="784.0" gradientUnits="userSpaceOnUse"><stop offset="0" stop-color="#e4e8ff" stop-opacity="0"/><stop offset="0.06" stop-color="#e0e6ff" stop-opacity="0.7"/><stop offset="0.25" stop-color="#e8cce0" stop-opacity="0.65"/><stop offset="0.55" stop-color="#dcb0cc" stop-opacity="0.5"/><stop offset="1" stop-color="#c8d0f8" stop-opacity="0.1"/></linearGradient>
<path d="M164.20,611.80 L163.86,613.30 L163.50,614.80 L163.13,616.30 L162.76,617.80 L162.38,619.30 L162.01,620.80 L161.63,622.30 L161.24,623.80 L160.86,625.30 L160.48,626.80 L160.09,628.30 L159.71,629.80 L159.32,631.30 L158.94,632.80 L158.56,634.30 L158.19,635.80 L157.81,637.30 L157.44,638.80 L157.07,640.30 L156.71,641.80 L156.35,643.30 L156.00,644.80 L155.66,646.30 L155.32,647.80 L154.98,649.30 L154.66,650.80 L154.34,652.30 L154.03,653.80 L153.73,655.30 L153.44,656.80 L153.16,658.30 L152.88,659.80 L152.62,661.30 L152.37,662.80 L152.13,664.30 L151.90,665.80 L151.69,667.30 L151.48,668.80 L151.29,670.30 L151.11,671.80 L150.94,673.30 L150.78,674.80 L150.64,676.30 L150.50,677.80 L150.38,679.30 L150.27,680.80 L150.18,682.30 L150.10,683.80 L150.03,685.30 L149.97,686.80 L149.93,688.30 L149.90,689.80 L149.89,691.30 L149.89,692.80 L149.90,694.30 L149.93,695.80 L149.97,697.30 L150.02,698.80 L150.09,700.30 L150.17,701.80 L150.27,703.30 L150.37,704.80 L150.49,706.30 L150.62,707.80 L150.76,709.30 L150.91,710.80 L151.08,712.30 L151.25,713.80 L151.43,715.30 L151.62,716.80 L151.81,718.30 L152.02,719.80 L152.23,721.30 L152.45,722.80 L152.68,724.30 L152.91,725.80 L153.15,727.30 L153.39,728.80 L153.64,730.30 L153.89,731.80 L154.15,733.30 L154.41,734.80 L154.67,736.30 L154.93,737.80 L155.20,739.30 L155.47,740.80 L155.74,742.30 L156.01,743.80 L156.28,745.30 L156.55,746.80 L156.82,748.30 L157.09,749.80 L157.37,751.30 L157.64,752.80 L157.91,754.30 L158.18,755.80 L158.45,757.30 L158.71,758.80 L158.98,760.30 L159.25,761.80 L159.51,763.30 L159.77,764.80 L160.03,766.30 L160.28,767.80 L160.53,769.30 L160.78,770.80 L161.03,772.30 L161.27,773.80 L161.51,775.30 L161.74,776.80 L161.97,778.30 L162.20,779.80 L162.42,781.30 L162.64,782.80 L162.85,784.30 L163.05,785.80 L163.25,787.30 L163.45,788.80 L163.63,790.30 L163.81,791.80 L163.99,793.30 L164.16,794.80 L164.30,796.00 L168.50,796.00 L168.64,794.80 L168.81,793.30 L168.99,791.80 L169.17,790.30 L169.35,788.80 L169.55,787.30 L169.75,785.80 L169.95,784.30 L170.16,782.80 L170.38,781.30 L170.60,779.80 L170.83,778.30 L171.06,776.80 L171.29,775.30 L171.53,773.80 L171.77,772.30 L172.02,770.80 L172.27,769.30 L172.52,767.80 L172.77,766.30 L173.03,764.80 L173.29,763.30 L173.55,761.80 L173.82,760.30 L174.09,758.80 L174.35,757.30 L174.62,755.80 L174.89,754.30 L175.16,752.80 L175.43,751.30 L175.71,749.80 L175.98,748.30 L176.25,746.80 L176.52,745.30 L176.79,743.80 L177.06,742.30 L177.33,740.80 L177.60,739.30 L177.87,737.80 L178.13,736.30 L178.39,734.80 L178.65,733.30 L178.91,731.80 L179.16,730.30 L179.41,728.80 L179.65,727.30 L179.89,725.80 L180.12,724.30 L180.35,722.80 L180.57,721.30 L180.78,719.80 L180.99,718.30 L181.18,716.80 L181.37,715.30 L181.55,713.80 L181.72,712.30 L181.89,710.80 L182.04,709.30 L182.18,707.80 L182.31,706.30 L182.43,704.80 L182.53,703.30 L182.63,701.80 L182.71,700.30 L182.78,698.80 L182.83,697.30 L182.87,695.80 L182.90,694.30 L182.91,692.80 L182.91,691.30 L182.90,689.80 L182.87,688.30 L182.83,686.80 L182.77,685.30 L182.70,683.80 L182.62,682.30 L182.53,680.80 L182.42,679.30 L182.30,677.80 L182.16,676.30 L182.02,674.80 L181.86,673.30 L181.69,671.80 L181.51,670.30 L181.32,668.80 L181.11,667.30 L180.90,665.80 L180.67,664.30 L180.43,662.80 L180.18,661.30 L179.92,659.80 L179.64,658.30 L179.36,656.80 L179.07,655.30 L178.77,653.80 L178.46,652.30 L178.14,650.80 L177.82,649.30 L177.48,647.80 L177.14,646.30 L176.80,644.80 L176.45,643.30 L176.09,641.80 L175.73,640.30 L175.36,638.80 L174.99,637.30 L174.61,635.80 L174.24,634.30 L173.86,632.80 L173.48,631.30 L173.09,629.80 L172.71,628.30 L172.32,626.80 L171.94,625.30 L171.56,623.80 L171.17,622.30 L170.79,620.80 L170.42,619.30 L170.04,617.80 L169.67,616.30 L169.30,614.80 L168.94,613.30 L168.60,611.80Z" fill="url(#bg8)"/>
<g clip-path="url(#cp8)">
<rect x="148.60" y="611.80" width="35.60" height="184.20" filter="url(#spk)" opacity="0.45"/>
<rect x="148.60" y="611.80" width="35.60" height="184.20" filter="url(#spl)" opacity="0.3"/>
<rect x="163.40" y="619.80" width="5" height="70.20" rx="2.5" fill="#b8c4ff" opacity="0.3"/>
<rect x="160.00" y="665.00" width="5.8" height="119.00" rx="2.9" fill="url(#hs8)"/>
<path d="M165.6,688.0 l2.5,4 l-1.5,7 l2.5,6 l-1.5,8 l1,6" stroke="#c42836" stroke-width="3" fill="none" opacity="0.85"/>
<path d="M168.4,689.0 q7,6 4,13 q-3,5 2,9 q5,4 1,9" stroke="#2a1866" stroke-width="1.7" fill="none" opacity="0.65"/>
<circle cx="170.9" cy="698.0" r="1.7" fill="#c43040" opacity="0.8"/>
<circle cx="171.9" cy="711.0" r="1.6" fill="#b02a48" opacity="0.75"/>
<ellipse cx="167.6" cy="726.3" rx="2.3" ry="2.6" fill="#c03040" opacity="0.8"/>
<circle cx="169.8" cy="723.1" r="1.1" fill="#2a1a6a" opacity="0.7"/>
<ellipse cx="167.6" cy="737.8" rx="2.3" ry="2.6" fill="#c03040" opacity="0.8"/>
<circle cx="169.8" cy="734.6" r="1.1" fill="#2a1a6a" opacity="0.7"/>
<ellipse cx="167.6" cy="749.2" rx="2.3" ry="2.6" fill="#c03040" opacity="0.8"/>
<circle cx="169.8" cy="746.0" r="1.1" fill="#2a1a6a" opacity="0.7"/>
<rect x="167.2" y="760.6" width="3.2" height="3.1" rx="1" fill="#2a1a6a" opacity="0.55"/>
<rect x="164.2" y="761.6" width="2.6" height="2.6" rx="1" fill="#c84050" opacity="0.45"/>
<rect x="167.2" y="765.3" width="3.2" height="3.1" rx="1" fill="#2a1a6a" opacity="0.55"/>
<rect x="164.2" y="766.3" width="2.6" height="2.6" rx="1" fill="#c84050" opacity="0.45"/>
<rect x="167.2" y="770.0" width="3.2" height="3.1" rx="1" fill="#2a1a6a" opacity="0.55"/>
<rect x="164.2" y="771.0" width="2.6" height="2.6" rx="1" fill="#c84050" opacity="0.45"/>
<rect x="167.2" y="774.7" width="3.2" height="3.1" rx="1" fill="#2a1a6a" opacity="0.55"/>
<rect x="164.2" y="775.7" width="2.6" height="2.6" rx="1" fill="#c84050" opacity="0.45"/>
<rect x="167.2" y="779.4" width="3.2" height="3.1" rx="1" fill="#2a1a6a" opacity="0.55"/>
<rect x="164.2" y="780.4" width="2.6" height="2.6" rx="1" fill="#c84050" opacity="0.45"/>
</g>
<path d="M164.20,611.80 L163.86,613.30 L163.50,614.80 L163.13,616.30 L162.76,617.80 L162.38,619.30 L162.01,620.80 L161.63,622.30 L161.24,623.80 L160.86,625.30 L160.48,626.80 L160.09,628.30 L159.71,629.80 L159.32,631.30 L158.94,632.80 L158.56,634.30 L158.19,635.80 L157.81,637.30 L157.44,638.80 L157.07,640.30 L156.71,641.80 L156.35,643.30 L156.00,644.80 L155.66,646.30 L155.32,647.80 L154.98,649.30 L154.66,650.80 L154.34,652.30 L154.03,653.80 L153.73,655.30 L153.44,656.80 L153.16,658.30 L152.88,659.80 L152.62,661.30 L152.37,662.80 L152.13,664.30 L151.90,665.80 L151.69,667.30 L151.48,668.80 L151.29,670.30 L151.11,671.80 L150.94,673.30 L150.78,674.80 L150.64,676.30 L150.50,677.80 L150.38,679.30 L150.27,680.80 L150.18,682.30 L150.10,683.80 L150.03,685.30 L149.97,686.80 L149.93,688.30 L149.90,689.80 L149.89,691.30 L149.89,692.80 L149.90,694.30 L149.93,695.80 L149.97,697.30 L150.02,698.80 L150.09,700.30 L150.17,701.80 L150.27,703.30 L150.37,704.80 L150.49,706.30 L150.62,707.80 L150.76,709.30 L150.91,710.80 L151.08,712.30 L151.25,713.80 L151.43,715.30 L151.62,716.80 L151.81,718.30 L152.02,719.80 L152.23,721.30 L152.45,722.80 L152.68,724.30 L152.91,725.80 L153.15,727.30 L153.39,728.80 L153.64,730.30 L153.89,731.80 L154.15,733.30 L154.41,734.80 L154.67,736.30 L154.93,737.80 L155.20,739.30 L155.47,740.80 L155.74,742.30 L156.01,743.80 L156.28,745.30 L156.55,746.80 L156.82,748.30 L157.09,749.80 L157.37,751.30 L157.64,752.80 L157.91,754.30 L158.18,755.80 L158.45,757.30 L158.71,758.80 L158.98,760.30 L159.25,761.80 L159.51,763.30 L159.77,764.80 L160.03,766.30 L160.28,767.80 L160.53,769.30 L160.78,770.80 L161.03,772.30 L161.27,773.80 L161.51,775.30 L161.74,776.80 L161.97,778.30 L162.20,779.80 L162.42,781.30 L162.64,782.80 L162.85,784.30 L163.05,785.80 L163.25,787.30 L163.45,788.80 L163.63,790.30 L163.81,791.80 L163.99,793.30 L164.16,794.80 L164.30,796.00 L168.50,796.00 L168.64,794.80 L168.81,793.30 L168.99,791.80 L169.17,790.30 L169.35,788.80 L169.55,787.30 L169.75,785.80 L169.95,784.30 L170.16,782.80 L170.38,781.30 L170.60,779.80 L170.83,778.30 L171.06,776.80 L171.29,775.30 L171.53,773.80 L171.77,772.30 L172.02,770.80 L172.27,769.30 L172.52,767.80 L172.77,766.30 L173.03,764.80 L173.29,763.30 L173.55,761.80 L173.82,760.30 L174.09,758.80 L174.35,757.30 L174.62,755.80 L174.89,754.30 L175.16,752.80 L175.43,751.30 L175.71,749.80 L175.98,748.30 L176.25,746.80 L176.52,745.30 L176.79,743.80 L177.06,742.30 L177.33,740.80 L177.60,739.30 L177.87,737.80 L178.13,736.30 L178.39,734.80 L178.65,733.30 L178.91,731.80 L179.16,730.30 L179.41,728.80 L179.65,727.30 L179.89,725.80 L180.12,724.30 L180.35,722.80 L180.57,721.30 L180.78,719.80 L180.99,718.30 L181.18,716.80 L181.37,715.30 L181.55,713.80 L181.72,712.30 L181.89,710.80 L182.04,709.30 L182.18,707.80 L182.31,706.30 L182.43,704.80 L182.53,703.30 L182.63,701.80 L182.71,700.30 L182.78,698.80 L182.83,697.30 L182.87,695.80 L182.90,694.30 L182.91,692.80 L182.91,691.30 L182.90,689.80 L182.87,688.30 L182.83,686.80 L182.77,685.30 L182.70,683.80 L182.62,682.30 L182.53,680.80 L182.42,679.30 L182.30,677.80 L182.16,676.30 L182.02,674.80 L181.86,673.30 L181.69,671.80 L181.51,670.30 L181.32,668.80 L181.11,667.30 L180.90,665.80 L180.67,664.30 L180.43,662.80 L180.18,661.30 L179.92,659.80 L179.64,658.30 L179.36,656.80 L179.07,655.30 L178.77,653.80 L178.46,652.30 L178.14,650.80 L177.82,649.30 L177.48,647.80 L177.14,646.30 L176.80,644.80 L176.45,643.30 L176.09,641.80 L175.73,640.30 L175.36,638.80 L174.99,637.30 L174.61,635.80 L174.24,634.30 L173.86,632.80 L173.48,631.30 L173.09,629.80 L172.71,628.30 L172.32,626.80 L171.94,625.30 L171.56,623.80 L171.17,622.30 L170.79,620.80 L170.42,619.30 L170.04,617.80 L169.67,616.30 L169.30,614.80 L168.94,613.30 L168.60,611.80Z" fill="none" stroke="#a4b0ec" stroke-width="1" stroke-opacity="0.9"/>
<path d="M164.20,611.80 L168.60,611.80 L169.44,618.30 L163.36,618.30Z" fill="#e4e4ee" opacity="0.9"/>
<rect x="162.26" y="624.50" width="8.28" height="1.1" fill="#e8ecff" opacity="0.75"/>
<rect x="162.20" y="780.90" width="8.40" height="1.1" fill="#e8ecff" opacity="0.75"/>
<path d="M162.90,786.80 L169.90,786.80 L168.40,796.00 L164.40,796.00Z" fill="#d4d4de"/>
<text transform="translate(241.50,587.60) scale(0.92,1)" font-size="8.4" fill="#d0d0d0" text-anchor="middle">2.1mm</text>
<path d="M238.4,589.3 v12 M246.0,589.3 v12 M238.4,590.8 h7.6" stroke="#a0a0a0" stroke-width="0.7" fill="none" opacity="0.6"/>
<rect x="238.00" y="643.50" width="8.40" height="31.00" fill="#060606" opacity="0.6"/>
<rect x="239.40" y="713.20" width="5.60" height="29.70" fill="#060606" opacity="0.6"/>
<rect x="239.30" y="743.30" width="5.80" height="33.90" fill="#060606" opacity="0.6"/>
<rect x="239.40" y="777.10" width="5.60" height="31.60" fill="#060606" opacity="0.6"/>
<rect x="239.30" y="809.80" width="5.80" height="14.40" fill="#060606" opacity="0.6"/>
<path d="M239.00,642.00 L239.00,595.30 Q239.00,592.30 242.20,592.30 Q245.40,592.30 245.40,595.30 L245.40,642.00Z" fill="#f44c1a"/>
<rect x="239.10" y="644.70" width="6.20" height="28.60" rx="0.60" fill="#e2f22a"/>
<path d="M239.00,675.80 L245.40,675.80 L245.40,698.00 C245.40,705.00 243.40,709.50 242.20,711.00 C241.00,709.50 239.00,705.00 239.00,698.00Z" fill="#f44c1a"/>
<rect x="240.50" y="714.40" width="3.40" height="27.30" rx="0.60" fill="#bce632"/>
<rect x="240.40" y="744.50" width="3.60" height="31.50" rx="0.60" fill="#e8421e"/>
<rect x="240.50" y="778.30" width="3.40" height="29.20" rx="0.60" fill="#bce632"/>
<rect x="240.40" y="811.00" width="3.60" height="12.00" rx="0.60" fill="#e8421e"/>
<text transform="translate(211.50,565.9) scale(0.932,1)" x="0" y="0" font-size="35.4" fill="#fafafa">NA-004</text>
<rect x="0" y="823" width="333" height="40" fill="#ffffff"/>
<rect x="0" y="823" width="333" height="18.5" fill="#dedede"/>
<rect x="0" y="823" width="24" height="18.5" fill="#e8e8e8"/>
<rect x="0" y="859.3" width="333" height="1" fill="#e4e4e4"/>
<rect x="24.5" y="841.5" width="0.8" height="17.8" fill="#e2e2e2"/>
<rect x="57.5" y="841.5" width="0.8" height="17.8" fill="#e2e2e2"/>
<rect x="90.5" y="841.5" width="0.8" height="17.8" fill="#e2e2e2"/>
<rect x="124.5" y="841.5" width="0.8" height="17.8" fill="#e2e2e2"/>
<rect x="157.5" y="841.5" width="0.8" height="17.8" fill="#e2e2e2"/>
<rect x="191" y="841.5" width="0.8" height="17.8" fill="#e2e2e2"/>
<rect x="226" y="841.5" width="0.8" height="17.8" fill="#e2e2e2"/>
<rect x="255.5" y="841.5" width="0.8" height="17.8" fill="#e2e2e2"/>
<rect x="284.5" y="841.5" width="0.8" height="17.8" fill="#e2e2e2"/>
<rect x="314" y="841.5" width="0.8" height="17.8" fill="#e2e2e2"/>
<text transform="translate(12.80,835.60) scale(0.9,1)" font-size="8.8" fill="#2c2c2c" stroke="#2c2c2c" stroke-width="0.15" text-anchor="middle">DRIFT</text>
<text x="12.5" y="849" font-size="6" fill="#2a2a2a" stroke="#2a2a2a" stroke-width="0.2" text-anchor="middle" letter-spacing="-0.2">Average</text>
<text x="12.5" y="855" font-size="6" fill="#2a2a2a" stroke="#2a2a2a" stroke-width="0.2" text-anchor="middle">size</text>
<text transform="translate(41.00,827.90) scale(0.92,1)" font-size="6.2" fill="#2e2e2e" stroke="#2e2e2e" stroke-width="0.12" text-anchor="middle">total float</text>
<text transform="translate(41.00,833.90) scale(0.92,1)" font-size="6.2" fill="#2e2e2e" stroke="#2e2e2e" stroke-width="0.12" text-anchor="middle">length</text>
<text transform="translate(41.00,839.90) scale(0.92,1)" font-size="6.2" fill="#2e2e2e" stroke="#2e2e2e" stroke-width="0.12" text-anchor="middle">(CM)</text>
<text x="41.0" y="854.2" font-size="8.8" fill="#2a2a2a" stroke="#2a2a2a" stroke-width="0.06" text-anchor="middle" letter-spacing="-0.3">36.0</text>
<text transform="translate(74.00,827.90) scale(0.92,1)" font-size="6.2" fill="#2e2e2e" stroke="#2e2e2e" stroke-width="0.12" text-anchor="middle">float</text>
<text transform="translate(74.00,833.90) scale(0.92,1)" font-size="6.2" fill="#2e2e2e" stroke="#2e2e2e" stroke-width="0.12" text-anchor="middle">length</text>
<text transform="translate(74.00,839.90) scale(0.92,1)" font-size="6.2" fill="#2e2e2e" stroke="#2e2e2e" stroke-width="0.12" text-anchor="middle">(CM)</text>
<text x="74.0" y="854.2" font-size="8.8" fill="#2a2a2a" stroke="#2a2a2a" stroke-width="0.06" text-anchor="middle" letter-spacing="-0.3">5.8</text>
<text transform="translate(107.50,827.90) scale(0.92,1)" font-size="6.2" fill="#2e2e2e" stroke="#2e2e2e" stroke-width="0.12" text-anchor="middle">drift tail</text>
<text transform="translate(107.50,833.90) scale(0.92,1)" font-size="6.2" fill="#2e2e2e" stroke="#2e2e2e" stroke-width="0.12" text-anchor="middle">length</text>
<text transform="translate(107.50,839.90) scale(0.92,1)" font-size="6.2" fill="#2e2e2e" stroke="#2e2e2e" stroke-width="0.12" text-anchor="middle">(CM)</text>
<text x="107.5" y="854.2" font-size="8.8" fill="#2a2a2a" stroke="#2a2a2a" stroke-width="0.06" text-anchor="middle" letter-spacing="-0.3">18.0</text>
<text transform="translate(141.00,827.90) scale(0.92,1)" font-size="6.2" fill="#2e2e2e" stroke="#2e2e2e" stroke-width="0.12" text-anchor="middle">floating</text>
<text transform="translate(141.00,833.90) scale(0.92,1)" font-size="6.2" fill="#2e2e2e" stroke="#2e2e2e" stroke-width="0.12" text-anchor="middle">foot length</text>
<text transform="translate(141.00,839.90) scale(0.92,1)" font-size="6.2" fill="#2e2e2e" stroke="#2e2e2e" stroke-width="0.12" text-anchor="middle">(CM)</text>
<text x="141.0" y="854.2" font-size="8.8" fill="#2a2a2a" stroke="#2a2a2a" stroke-width="0.06" text-anchor="middle" letter-spacing="-0.3">12.2</text>
<text transform="translate(174.25,827.90) scale(0.92,1)" font-size="6.2" fill="#2e2e2e" stroke="#2e2e2e" stroke-width="0.12" text-anchor="middle">body</text>
<text transform="translate(174.25,833.90) scale(0.92,1)" font-size="6.2" fill="#2e2e2e" stroke="#2e2e2e" stroke-width="0.12" text-anchor="middle">diameter</text>
<text transform="translate(174.25,839.90) scale(0.92,1)" font-size="6.2" fill="#2e2e2e" stroke="#2e2e2e" stroke-width="0.12" text-anchor="middle">(MM)</text>
<text x="174.2" y="854.2" font-size="8.8" fill="#2a2a2a" stroke="#2a2a2a" stroke-width="0.06" text-anchor="middle" letter-spacing="-0.3">10.4</text>
<text transform="translate(208.50,827.90) scale(0.92,1)" font-size="6.2" fill="#2e2e2e" stroke="#2e2e2e" stroke-width="0.12" text-anchor="middle">tail</text>
<text transform="translate(208.50,833.90) scale(0.92,1)" font-size="6.2" fill="#2e2e2e" stroke="#2e2e2e" stroke-width="0.12" text-anchor="middle">diameter</text>
<text transform="translate(208.50,839.90) scale(0.92,1)" font-size="6.2" fill="#2e2e2e" stroke="#2e2e2e" stroke-width="0.12" text-anchor="middle">(MM)</text>
<text x="208.5" y="854.2" font-size="8.8" fill="#2a2a2a" stroke="#2a2a2a" stroke-width="0.06" text-anchor="middle" letter-spacing="-0.3">0.9-2.1</text>
<text transform="translate(240.75,827.90) scale(0.92,1)" font-size="6.2" fill="#2e2e2e" stroke="#2e2e2e" stroke-width="0.12" text-anchor="middle">foot</text>
<text transform="translate(240.75,833.90) scale(0.92,1)" font-size="6.2" fill="#2e2e2e" stroke="#2e2e2e" stroke-width="0.12" text-anchor="middle">diameter</text>
<text transform="translate(240.75,839.90) scale(0.92,1)" font-size="6.2" fill="#2e2e2e" stroke="#2e2e2e" stroke-width="0.12" text-anchor="middle">(MM)</text>
<text x="240.8" y="854.2" font-size="8.8" fill="#2a2a2a" stroke="#2a2a2a" stroke-width="0.06" text-anchor="middle" letter-spacing="-0.3">0.9</text>
<text transform="translate(270.00,827.90) scale(0.92,1)" font-size="6.2" fill="#2e2e2e" stroke="#2e2e2e" stroke-width="0.12" text-anchor="middle">dead</text>
<text transform="translate(270.00,833.90) scale(0.92,1)" font-size="6.2" fill="#2e2e2e" stroke="#2e2e2e" stroke-width="0.12" text-anchor="middle">weight</text>
<text transform="translate(270.00,839.90) scale(0.92,1)" font-size="6.2" fill="#2e2e2e" stroke="#2e2e2e" stroke-width="0.12" text-anchor="middle">(G)</text>
<text x="270.0" y="854.2" font-size="8.8" fill="#2a2a2a" stroke="#2a2a2a" stroke-width="0.06" text-anchor="middle" letter-spacing="-0.3">0.94</text>
<text transform="translate(299.25,827.90) scale(0.92,1)" font-size="6.2" fill="#2e2e2e" stroke="#2e2e2e" stroke-width="0.12" text-anchor="middle">eat</text>
<text transform="translate(299.25,833.90) scale(0.92,1)" font-size="6.2" fill="#2e2e2e" stroke="#2e2e2e" stroke-width="0.12" text-anchor="middle">lead</text>
<text transform="translate(299.25,839.90) scale(0.92,1)" font-size="6.2" fill="#2e2e2e" stroke="#2e2e2e" stroke-width="0.12" text-anchor="middle">(G)</text>
<text x="299.2" y="854.2" font-size="8.8" fill="#2a2a2a" stroke="#2a2a2a" stroke-width="0.06" text-anchor="middle" letter-spacing="-0.3">2.0</text>
<text transform="translate(323.50,834.80) scale(0.88,1)" font-size="6.6" fill="#2e2e2e" stroke="#2e2e2e" stroke-width="0.12" text-anchor="middle">mesh</text>
<text x="323.5" y="854.2" font-size="8.8" fill="#2a2a2a" stroke="#2a2a2a" stroke-width="0.06" text-anchor="middle" letter-spacing="-0.3">13</text>
<rect x="412.7" y="531.57" width="11.1" height="1.1" fill="#bcbcbc"/>
<rect x="412.7" y="538.88" width="6.5" height="1.1" fill="#bcbcbc"/>
<rect x="412.7" y="546.20" width="6.5" height="1.1" fill="#bcbcbc"/>
<rect x="412.7" y="553.52" width="6.5" height="1.1" fill="#bcbcbc"/>
<rect x="412.7" y="560.83" width="6.5" height="1.1" fill="#bcbcbc"/>
<rect x="412.7" y="568.15" width="16.3" height="1.1" fill="#bcbcbc"/>
<text transform="translate(423.1,546.1) rotate(90) scale(0.97,0.9)" x="0" y="0" font-size="9.1" fill="#d0d0d0">40cm</text>
<rect x="412.7" y="575.47" width="6.5" height="1.1" fill="#bcbcbc"/>
<rect x="412.7" y="582.78" width="6.5" height="1.1" fill="#bcbcbc"/>
<rect x="412.7" y="590.10" width="6.5" height="1.1" fill="#bcbcbc"/>
<rect x="412.7" y="597.42" width="6.5" height="1.1" fill="#bcbcbc"/>
<rect x="412.7" y="604.74" width="11.1" height="1.1" fill="#bcbcbc"/>
<rect x="412.7" y="612.05" width="6.5" height="1.1" fill="#bcbcbc"/>
<rect x="412.7" y="619.37" width="6.5" height="1.1" fill="#bcbcbc"/>
<rect x="412.7" y="626.69" width="6.5" height="1.1" fill="#bcbcbc"/>
<rect x="412.7" y="634.00" width="6.5" height="1.1" fill="#bcbcbc"/>
<rect x="412.7" y="641.32" width="16.3" height="1.1" fill="#bcbcbc"/>
<text transform="translate(423.1,619.3) rotate(90) scale(0.97,0.9)" x="0" y="0" font-size="9.1" fill="#d0d0d0">30cm</text>
<rect x="412.7" y="648.64" width="6.5" height="1.1" fill="#bcbcbc"/>
<rect x="412.7" y="655.95" width="6.5" height="1.1" fill="#bcbcbc"/>
<rect x="412.7" y="663.27" width="6.5" height="1.1" fill="#bcbcbc"/>
<rect x="412.7" y="670.59" width="6.5" height="1.1" fill="#bcbcbc"/>
<rect x="412.7" y="677.91" width="11.1" height="1.1" fill="#bcbcbc"/>
<rect x="412.7" y="685.22" width="6.5" height="1.1" fill="#bcbcbc"/>
<rect x="412.7" y="692.54" width="6.5" height="1.1" fill="#bcbcbc"/>
<rect x="412.7" y="699.86" width="6.5" height="1.1" fill="#bcbcbc"/>
<rect x="412.7" y="707.17" width="6.5" height="1.1" fill="#bcbcbc"/>
<rect x="412.7" y="714.49" width="16.3" height="1.1" fill="#bcbcbc"/>
<text transform="translate(423.1,692.4) rotate(90) scale(0.97,0.9)" x="0" y="0" font-size="9.1" fill="#d0d0d0">20cm</text>
<rect x="412.7" y="721.81" width="6.5" height="1.1" fill="#bcbcbc"/>
<rect x="412.7" y="729.12" width="6.5" height="1.1" fill="#bcbcbc"/>
<rect x="412.7" y="736.44" width="6.5" height="1.1" fill="#bcbcbc"/>
<rect x="412.7" y="743.76" width="6.5" height="1.1" fill="#bcbcbc"/>
<rect x="412.7" y="751.08" width="11.1" height="1.1" fill="#bcbcbc"/>
<rect x="412.7" y="758.39" width="6.5" height="1.1" fill="#bcbcbc"/>
<rect x="412.7" y="765.71" width="6.5" height="1.1" fill="#bcbcbc"/>
<rect x="412.7" y="773.03" width="6.5" height="1.1" fill="#bcbcbc"/>
<rect x="412.7" y="780.34" width="6.5" height="1.1" fill="#bcbcbc"/>
<rect x="412.7" y="787.66" width="16.3" height="1.1" fill="#bcbcbc"/>
<text transform="translate(423.1,765.6) rotate(90) scale(0.97,0.9)" x="0" y="0" font-size="9.1" fill="#d0d0d0">10cm</text>
<rect x="412.7" y="794.98" width="6.5" height="1.1" fill="#bcbcbc"/>
<rect x="412.7" y="802.29" width="6.5" height="1.1" fill="#bcbcbc"/>
<rect x="412.7" y="809.61" width="6.5" height="1.1" fill="#bcbcbc"/>
<rect x="412.7" y="816.93" width="6.5" height="1.1" fill="#bcbcbc"/>
<rect x="443.25" y="789.60" width="1.3" height="33.40" fill="#5a5a5a"/>
<rect x="442.25" y="610.75" width="3.30" height="12.73" fill="#080808" opacity="0.35"/>
<rect x="442.65" y="611.35" width="2.50" height="11.53" rx="0.40" fill="#cc5a2e"/>
<rect x="442.25" y="623.38" width="3.30" height="12.73" fill="#080808" opacity="0.35"/>
<rect x="442.65" y="623.98" width="2.50" height="11.53" rx="0.40" fill="#cfe04c"/>
<rect x="442.25" y="636.00" width="3.30" height="12.73" fill="#080808" opacity="0.35"/>
<rect x="442.65" y="636.60" width="2.50" height="11.53" rx="0.40" fill="#c85a2e"/>
<rect x="442.50" y="648.78" width="2.80" height="9.51" fill="#080808" opacity="0.35"/>
<rect x="442.90" y="649.38" width="2.00" height="8.31" rx="0.40" fill="#8ea040"/>
<rect x="442.50" y="658.49" width="2.80" height="9.51" fill="#080808" opacity="0.35"/>
<rect x="442.90" y="659.09" width="2.00" height="8.31" rx="0.40" fill="#9a4a2c"/>
<rect x="442.50" y="668.20" width="2.80" height="9.51" fill="#080808" opacity="0.35"/>
<rect x="442.90" y="668.80" width="2.00" height="8.31" rx="0.40" fill="#8ea040"/>
<rect x="442.50" y="677.91" width="2.80" height="9.51" fill="#080808" opacity="0.35"/>
<rect x="442.90" y="678.51" width="2.00" height="8.31" rx="0.40" fill="#9a4a2c"/>
<rect x="442.50" y="687.63" width="2.80" height="9.51" fill="#080808" opacity="0.35"/>
<rect x="442.90" y="688.23" width="2.00" height="8.31" rx="0.40" fill="#8ea040"/>
<rect x="442.50" y="697.34" width="2.80" height="9.51" fill="#080808" opacity="0.35"/>
<rect x="442.90" y="697.94" width="2.00" height="8.31" rx="0.40" fill="#9a4a2c"/>
<rect x="442.50" y="707.05" width="2.80" height="9.51" fill="#080808" opacity="0.35"/>
<rect x="442.90" y="707.65" width="2.00" height="8.31" rx="0.40" fill="#8ea040"/>
<rect x="442.50" y="716.76" width="2.80" height="9.51" fill="#080808" opacity="0.35"/>
<rect x="442.90" y="717.36" width="2.00" height="8.31" rx="0.40" fill="#9a4a2c"/>
<rect x="442.50" y="726.48" width="2.80" height="9.51" fill="#080808" opacity="0.35"/>
<rect x="442.90" y="727.08" width="2.00" height="8.31" rx="0.40" fill="#8ea040"/>
<rect x="442.50" y="736.19" width="2.80" height="9.51" fill="#080808" opacity="0.35"/>
<rect x="442.90" y="736.79" width="2.00" height="8.31" rx="0.40" fill="#9a4a2c"/>
<linearGradient id="bg9" x1="439.84999999999997" x2="447.95" y1="0" y2="0" gradientUnits="userSpaceOnUse"><stop offset="0" stop-color="#1a2a9a"/><stop offset="0.22" stop-color="#4a74e8"/><stop offset="0.5" stop-color="#b4c8ff"/><stop offset="0.78" stop-color="#4a74e8"/><stop offset="1" stop-color="#1a2a9a"/></linearGradient>
<path d="M443.30,745.80 C443.03,746.47 442.18,748.23 441.67,749.85 C441.16,751.47 440.56,753.50 440.25,755.52 C439.95,757.54 439.85,759.31 439.85,762.00 C439.85,764.69 439.95,768.44 440.25,771.66 C440.56,774.88 441.16,778.33 441.67,781.32 C442.18,784.31 443.03,788.22 443.30,789.60 L444.50,789.60 C444.77,788.22 445.62,784.31 446.13,781.32 C446.63,778.33 447.24,774.88 447.54,771.66 C447.85,768.44 447.95,764.69 447.95,762.00 C447.95,759.31 447.85,757.54 447.54,755.52 C447.24,753.50 446.63,751.47 446.13,749.85 C445.62,748.23 444.77,746.47 444.50,745.80Z" fill="url(#bg9)"/>
<rect x="443.30" y="760.00" width="1.3" height="5" fill="#c04868" opacity="0.6"/>
<ellipse cx="443.90" cy="747.30" rx="0.9" ry="1.6" fill="#f0f0f8" opacity="0.9"/>
<ellipse cx="443.90" cy="788.10" rx="0.9" ry="1.8" fill="#f4f4fa" opacity="0.95"/>
<rect x="498.30" y="795.00" width="1.2" height="28.00" fill="#4a4a4a"/>
<rect x="495.95" y="534.00" width="5.90" height="38.00" fill="#050505" opacity="0.7"/>
<rect x="495.95" y="573.30" width="5.90" height="36.50" fill="#050505" opacity="0.7"/>
<rect x="496.75" y="535.00" width="4.30" height="36.00" rx="0.80" fill="#e2f22a"/>
<rect x="496.75" y="574.30" width="4.30" height="34.50" rx="0.80" fill="#f44c1a"/>
<clipPath id="cp10"><path d="M496.60,608.80 L496.16,610.30 L495.69,611.80 L495.21,613.30 L494.72,614.80 L494.23,616.30 L493.73,617.80 L493.23,619.30 L492.73,620.80 L492.22,622.30 L491.71,623.80 L491.21,625.30 L490.71,626.80 L490.21,628.30 L489.71,629.80 L489.22,631.30 L488.74,632.80 L488.26,634.30 L487.79,635.80 L487.33,637.30 L486.88,638.80 L486.44,640.30 L486.02,641.80 L485.61,643.30 L485.21,644.80 L484.83,646.30 L484.47,647.80 L484.12,649.30 L483.80,650.80 L483.49,652.30 L483.20,653.80 L482.94,655.30 L482.70,656.80 L482.48,658.30 L482.28,659.80 L482.11,661.30 L481.95,662.80 L481.81,664.30 L481.69,665.80 L481.59,667.30 L481.50,668.80 L481.44,670.30 L481.39,671.80 L481.35,673.30 L481.33,674.80 L481.33,676.30 L481.34,677.80 L481.36,679.30 L481.40,680.80 L481.45,682.30 L481.51,683.80 L481.58,685.30 L481.67,686.80 L481.76,688.30 L481.87,689.80 L481.98,691.30 L482.10,692.80 L482.24,694.30 L482.38,695.80 L482.53,697.30 L482.69,698.80 L482.85,700.30 L483.02,701.80 L483.20,703.30 L483.39,704.80 L483.59,706.30 L483.79,707.80 L483.99,709.30 L484.20,710.80 L484.42,712.30 L484.65,713.80 L484.87,715.30 L485.11,716.80 L485.35,718.30 L485.59,719.80 L485.83,721.30 L486.08,722.80 L486.33,724.30 L486.59,725.80 L486.85,727.30 L487.11,728.80 L487.37,730.30 L487.64,731.80 L487.91,733.30 L488.18,734.80 L488.44,736.30 L488.72,737.80 L488.99,739.30 L489.26,740.80 L489.53,742.30 L489.80,743.80 L490.07,745.30 L490.34,746.80 L490.61,748.30 L490.88,749.80 L491.14,751.30 L491.41,752.80 L491.67,754.30 L491.93,755.80 L492.18,757.30 L492.44,758.80 L492.69,760.30 L492.93,761.80 L493.18,763.30 L493.41,764.80 L493.65,766.30 L493.88,767.80 L494.10,769.30 L494.32,770.80 L494.53,772.30 L494.74,773.80 L494.94,775.30 L495.14,776.80 L495.32,778.30 L495.50,779.80 L495.68,781.30 L495.85,782.80 L496.00,784.30 L496.15,785.80 L496.30,787.30 L496.43,788.80 L496.56,790.30 L496.67,791.80 L496.78,793.30 L496.87,794.80 L496.90,795.00 L500.90,795.00 L500.93,794.80 L501.02,793.30 L501.13,791.80 L501.24,790.30 L501.37,788.80 L501.50,787.30 L501.65,785.80 L501.80,784.30 L501.95,782.80 L502.12,781.30 L502.30,779.80 L502.48,778.30 L502.66,776.80 L502.86,775.30 L503.06,773.80 L503.27,772.30 L503.48,770.80 L503.70,769.30 L503.92,767.80 L504.15,766.30 L504.39,764.80 L504.62,763.30 L504.87,761.80 L505.11,760.30 L505.36,758.80 L505.62,757.30 L505.87,755.80 L506.13,754.30 L506.39,752.80 L506.66,751.30 L506.92,749.80 L507.19,748.30 L507.46,746.80 L507.73,745.30 L508.00,743.80 L508.27,742.30 L508.54,740.80 L508.81,739.30 L509.08,737.80 L509.36,736.30 L509.62,734.80 L509.89,733.30 L510.16,731.80 L510.43,730.30 L510.69,728.80 L510.95,727.30 L511.21,725.80 L511.47,724.30 L511.72,722.80 L511.97,721.30 L512.21,719.80 L512.45,718.30 L512.69,716.80 L512.93,715.30 L513.15,713.80 L513.38,712.30 L513.60,710.80 L513.81,709.30 L514.01,707.80 L514.21,706.30 L514.41,704.80 L514.60,703.30 L514.78,701.80 L514.95,700.30 L515.11,698.80 L515.27,697.30 L515.42,695.80 L515.56,694.30 L515.70,692.80 L515.82,691.30 L515.93,689.80 L516.04,688.30 L516.13,686.80 L516.22,685.30 L516.29,683.80 L516.35,682.30 L516.40,680.80 L516.44,679.30 L516.46,677.80 L516.47,676.30 L516.47,674.80 L516.45,673.30 L516.41,671.80 L516.36,670.30 L516.30,668.80 L516.21,667.30 L516.11,665.80 L515.99,664.30 L515.85,662.80 L515.69,661.30 L515.52,659.80 L515.32,658.30 L515.10,656.80 L514.86,655.30 L514.60,653.80 L514.31,652.30 L514.00,650.80 L513.68,649.30 L513.33,647.80 L512.97,646.30 L512.59,644.80 L512.19,643.30 L511.78,641.80 L511.36,640.30 L510.92,638.80 L510.47,637.30 L510.01,635.80 L509.54,634.30 L509.06,632.80 L508.58,631.30 L508.09,629.80 L507.59,628.30 L507.09,626.80 L506.59,625.30 L506.09,623.80 L505.58,622.30 L505.07,620.80 L504.57,619.30 L504.07,617.80 L503.57,616.30 L503.08,614.80 L502.59,613.30 L502.11,611.80 L501.64,610.30 L501.20,608.80Z"/></clipPath>
<linearGradient id="bg10" x1="481.04999999999995" x2="516.75" y1="0" y2="0" gradientUnits="userSpaceOnUse"><stop offset="0" stop-color="#2038b8"/><stop offset="0.25" stop-color="#3e60d8"/><stop offset="0.5" stop-color="#6282e2"/><stop offset="0.75" stop-color="#3e60d8"/><stop offset="1" stop-color="#2038b8"/></linearGradient>
<linearGradient id="hs10" x1="0" x2="0" y1="658.0" y2="783.0" gradientUnits="userSpaceOnUse"><stop offset="0" stop-color="#e4e8ff" stop-opacity="0"/><stop offset="0.06" stop-color="#e0e6ff" stop-opacity="0.7"/><stop offset="0.25" stop-color="#e8cce0" stop-opacity="0.65"/><stop offset="0.55" stop-color="#dcb0cc" stop-opacity="0.5"/><stop offset="1" stop-color="#c8d0f8" stop-opacity="0.1"/></linearGradient>
<path d="M496.60,608.80 L496.16,610.30 L495.69,611.80 L495.21,613.30 L494.72,614.80 L494.23,616.30 L493.73,617.80 L493.23,619.30 L492.73,620.80 L492.22,622.30 L491.71,623.80 L491.21,625.30 L490.71,626.80 L490.21,628.30 L489.71,629.80 L489.22,631.30 L488.74,632.80 L488.26,634.30 L487.79,635.80 L487.33,637.30 L486.88,638.80 L486.44,640.30 L486.02,641.80 L485.61,643.30 L485.21,644.80 L484.83,646.30 L484.47,647.80 L484.12,649.30 L483.80,650.80 L483.49,652.30 L483.20,653.80 L482.94,655.30 L482.70,656.80 L482.48,658.30 L482.28,659.80 L482.11,661.30 L481.95,662.80 L481.81,664.30 L481.69,665.80 L481.59,667.30 L481.50,668.80 L481.44,670.30 L481.39,671.80 L481.35,673.30 L481.33,674.80 L481.33,676.30 L481.34,677.80 L481.36,679.30 L481.40,680.80 L481.45,682.30 L481.51,683.80 L481.58,685.30 L481.67,686.80 L481.76,688.30 L481.87,689.80 L481.98,691.30 L482.10,692.80 L482.24,694.30 L482.38,695.80 L482.53,697.30 L482.69,698.80 L482.85,700.30 L483.02,701.80 L483.20,703.30 L483.39,704.80 L483.59,706.30 L483.79,707.80 L483.99,709.30 L484.20,710.80 L484.42,712.30 L484.65,713.80 L484.87,715.30 L485.11,716.80 L485.35,718.30 L485.59,719.80 L485.83,721.30 L486.08,722.80 L486.33,724.30 L486.59,725.80 L486.85,727.30 L487.11,728.80 L487.37,730.30 L487.64,731.80 L487.91,733.30 L488.18,734.80 L488.44,736.30 L488.72,737.80 L488.99,739.30 L489.26,740.80 L489.53,742.30 L489.80,743.80 L490.07,745.30 L490.34,746.80 L490.61,748.30 L490.88,749.80 L491.14,751.30 L491.41,752.80 L491.67,754.30 L491.93,755.80 L492.18,757.30 L492.44,758.80 L492.69,760.30 L492.93,761.80 L493.18,763.30 L493.41,764.80 L493.65,766.30 L493.88,767.80 L494.10,769.30 L494.32,770.80 L494.53,772.30 L494.74,773.80 L494.94,775.30 L495.14,776.80 L495.32,778.30 L495.50,779.80 L495.68,781.30 L495.85,782.80 L496.00,784.30 L496.15,785.80 L496.30,787.30 L496.43,788.80 L496.56,790.30 L496.67,791.80 L496.78,793.30 L496.87,794.80 L496.90,795.00 L500.90,795.00 L500.93,794.80 L501.02,793.30 L501.13,791.80 L501.24,790.30 L501.37,788.80 L501.50,787.30 L501.65,785.80 L501.80,784.30 L501.95,782.80 L502.12,781.30 L502.30,779.80 L502.48,778.30 L502.66,776.80 L502.86,775.30 L503.06,773.80 L503.27,772.30 L503.48,770.80 L503.70,769.30 L503.92,767.80 L504.15,766.30 L504.39,764.80 L504.62,763.30 L504.87,761.80 L505.11,760.30 L505.36,758.80 L505.62,757.30 L505.87,755.80 L506.13,754.30 L506.39,752.80 L506.66,751.30 L506.92,749.80 L507.19,748.30 L507.46,746.80 L507.73,745.30 L508.00,743.80 L508.27,742.30 L508.54,740.80 L508.81,739.30 L509.08,737.80 L509.36,736.30 L509.62,734.80 L509.89,733.30 L510.16,731.80 L510.43,730.30 L510.69,728.80 L510.95,727.30 L511.21,725.80 L511.47,724.30 L511.72,722.80 L511.97,721.30 L512.21,719.80 L512.45,718.30 L512.69,716.80 L512.93,715.30 L513.15,713.80 L513.38,712.30 L513.60,710.80 L513.81,709.30 L514.01,707.80 L514.21,706.30 L514.41,704.80 L514.60,703.30 L514.78,701.80 L514.95,700.30 L515.11,698.80 L515.27,697.30 L515.42,695.80 L515.56,694.30 L515.70,692.80 L515.82,691.30 L515.93,689.80 L516.04,688.30 L516.13,686.80 L516.22,685.30 L516.29,683.80 L516.35,682.30 L516.40,680.80 L516.44,679.30 L516.46,677.80 L516.47,676.30 L516.47,674.80 L516.45,673.30 L516.41,671.80 L516.36,670.30 L516.30,668.80 L516.21,667.30 L516.11,665.80 L515.99,664.30 L515.85,662.80 L515.69,661.30 L515.52,659.80 L515.32,658.30 L515.10,656.80 L514.86,655.30 L514.60,653.80 L514.31,652.30 L514.00,650.80 L513.68,649.30 L513.33,647.80 L512.97,646.30 L512.59,644.80 L512.19,643.30 L511.78,641.80 L511.36,640.30 L510.92,638.80 L510.47,637.30 L510.01,635.80 L509.54,634.30 L509.06,632.80 L508.58,631.30 L508.09,629.80 L507.59,628.30 L507.09,626.80 L506.59,625.30 L506.09,623.80 L505.58,622.30 L505.07,620.80 L504.57,619.30 L504.07,617.80 L503.57,616.30 L503.08,614.80 L502.59,613.30 L502.11,611.80 L501.64,610.30 L501.20,608.80Z" fill="url(#bg10)"/>
<g clip-path="url(#cp10)">
<rect x="480.05" y="608.80" width="37.70" height="186.20" filter="url(#spk)" opacity="0.45"/>
<rect x="480.05" y="608.80" width="37.70" height="186.20" filter="url(#spl)" opacity="0.3"/>
<rect x="495.90" y="616.80" width="5" height="58.20" rx="2.5" fill="#b8c4ff" opacity="0.3"/>
<rect x="492.50" y="658.00" width="5.8" height="125.00" rx="2.9" fill="url(#hs10)"/>
<path d="M498.1,672.0 l2.5,4 l-1.5,7 l2.5,6 l-1.5,8 l1,6" stroke="#c42836" stroke-width="3" fill="none" opacity="0.85"/>
<path d="M500.9,673.0 q7,6 4,13 q-3,5 2,9 q5,4 1,9" stroke="#2a1866" stroke-width="1.7" fill="none" opacity="0.65"/>
<circle cx="503.4" cy="682.0" r="1.7" fill="#c43040" opacity="0.8"/>
<circle cx="504.4" cy="695.0" r="1.6" fill="#b02a48" opacity="0.75"/>
<ellipse cx="500.1" cy="715.3" rx="2.3" ry="2.6" fill="#c03040" opacity="0.8"/>
<circle cx="502.3" cy="712.1" r="1.1" fill="#2a1a6a" opacity="0.7"/>
<ellipse cx="500.1" cy="728.4" rx="2.3" ry="2.6" fill="#c03040" opacity="0.8"/>
<circle cx="502.3" cy="725.2" r="1.1" fill="#2a1a6a" opacity="0.7"/>
<ellipse cx="500.1" cy="741.5" rx="2.3" ry="2.6" fill="#c03040" opacity="0.8"/>
<circle cx="502.3" cy="738.2" r="1.1" fill="#2a1a6a" opacity="0.7"/>
<rect x="499.7" y="754.5" width="3.2" height="3.6" rx="1" fill="#2a1a6a" opacity="0.55"/>
<rect x="496.7" y="755.5" width="2.6" height="3.0" rx="1" fill="#c84050" opacity="0.45"/>
<rect x="499.7" y="759.9" width="3.2" height="3.6" rx="1" fill="#2a1a6a" opacity="0.55"/>
<rect x="496.7" y="760.9" width="2.6" height="3.0" rx="1" fill="#c84050" opacity="0.45"/>
<rect x="499.7" y="765.2" width="3.2" height="3.6" rx="1" fill="#2a1a6a" opacity="0.55"/>
<rect x="496.7" y="766.2" width="2.6" height="3.0" rx="1" fill="#c84050" opacity="0.45"/>
<rect x="499.7" y="770.6" width="3.2" height="3.6" rx="1" fill="#2a1a6a" opacity="0.55"/>
<rect x="496.7" y="771.6" width="2.6" height="3.0" rx="1" fill="#c84050" opacity="0.45"/>
<rect x="499.7" y="776.0" width="3.2" height="3.6" rx="1" fill="#2a1a6a" opacity="0.55"/>
<rect x="496.7" y="777.0" width="2.6" height="3.0" rx="1" fill="#c84050" opacity="0.45"/>
</g>
<path d="M496.60,608.80 L496.16,610.30 L495.69,611.80 L495.21,613.30 L494.72,614.80 L494.23,616.30 L493.73,617.80 L493.23,619.30 L492.73,620.80 L492.22,622.30 L491.71,623.80 L491.21,625.30 L490.71,626.80 L490.21,628.30 L489.71,629.80 L489.22,631.30 L488.74,632.80 L488.26,634.30 L487.79,635.80 L487.33,637.30 L486.88,638.80 L486.44,640.30 L486.02,641.80 L485.61,643.30 L485.21,644.80 L484.83,646.30 L484.47,647.80 L484.12,649.30 L483.80,650.80 L483.49,652.30 L483.20,653.80 L482.94,655.30 L482.70,656.80 L482.48,658.30 L482.28,659.80 L482.11,661.30 L481.95,662.80 L481.81,664.30 L481.69,665.80 L481.59,667.30 L481.50,668.80 L481.44,670.30 L481.39,671.80 L481.35,673.30 L481.33,674.80 L481.33,676.30 L481.34,677.80 L481.36,679.30 L481.40,680.80 L481.45,682.30 L481.51,683.80 L481.58,685.30 L481.67,686.80 L481.76,688.30 L481.87,689.80 L481.98,691.30 L482.10,692.80 L482.24,694.30 L482.38,695.80 L482.53,697.30 L482.69,698.80 L482.85,700.30 L483.02,701.80 L483.20,703.30 L483.39,704.80 L483.59,706.30 L483.79,707.80 L483.99,709.30 L484.20,710.80 L484.42,712.30 L484.65,713.80 L484.87,715.30 L485.11,716.80 L485.35,718.30 L485.59,719.80 L485.83,721.30 L486.08,722.80 L486.33,724.30 L486.59,725.80 L486.85,727.30 L487.11,728.80 L487.37,730.30 L487.64,731.80 L487.91,733.30 L488.18,734.80 L488.44,736.30 L488.72,737.80 L488.99,739.30 L489.26,740.80 L489.53,742.30 L489.80,743.80 L490.07,745.30 L490.34,746.80 L490.61,748.30 L490.88,749.80 L491.14,751.30 L491.41,752.80 L491.67,754.30 L491.93,755.80 L492.18,757.30 L492.44,758.80 L492.69,760.30 L492.93,761.80 L493.18,763.30 L493.41,764.80 L493.65,766.30 L493.88,767.80 L494.10,769.30 L494.32,770.80 L494.53,772.30 L494.74,773.80 L494.94,775.30 L495.14,776.80 L495.32,778.30 L495.50,779.80 L495.68,781.30 L495.85,782.80 L496.00,784.30 L496.15,785.80 L496.30,787.30 L496.43,788.80 L496.56,790.30 L496.67,791.80 L496.78,793.30 L496.87,794.80 L496.90,795.00 L500.90,795.00 L500.93,794.80 L501.02,793.30 L501.13,791.80 L501.24,790.30 L501.37,788.80 L501.50,787.30 L501.65,785.80 L501.80,784.30 L501.95,782.80 L502.12,781.30 L502.30,779.80 L502.48,778.30 L502.66,776.80 L502.86,775.30 L503.06,773.80 L503.27,772.30 L503.48,770.80 L503.70,769.30 L503.92,767.80 L504.15,766.30 L504.39,764.80 L504.62,763.30 L504.87,761.80 L505.11,760.30 L505.36,758.80 L505.62,757.30 L505.87,755.80 L506.13,754.30 L506.39,752.80 L506.66,751.30 L506.92,749.80 L507.19,748.30 L507.46,746.80 L507.73,745.30 L508.00,743.80 L508.27,742.30 L508.54,740.80 L508.81,739.30 L509.08,737.80 L509.36,736.30 L509.62,734.80 L509.89,733.30 L510.16,731.80 L510.43,730.30 L510.69,728.80 L510.95,727.30 L511.21,725.80 L511.47,724.30 L511.72,722.80 L511.97,721.30 L512.21,719.80 L512.45,718.30 L512.69,716.80 L512.93,715.30 L513.15,713.80 L513.38,712.30 L513.60,710.80 L513.81,709.30 L514.01,707.80 L514.21,706.30 L514.41,704.80 L514.60,703.30 L514.78,701.80 L514.95,700.30 L515.11,698.80 L515.27,697.30 L515.42,695.80 L515.56,694.30 L515.70,692.80 L515.82,691.30 L515.93,689.80 L516.04,688.30 L516.13,686.80 L516.22,685.30 L516.29,683.80 L516.35,682.30 L516.40,680.80 L516.44,679.30 L516.46,677.80 L516.47,676.30 L516.47,674.80 L516.45,673.30 L516.41,671.80 L516.36,670.30 L516.30,668.80 L516.21,667.30 L516.11,665.80 L515.99,664.30 L515.85,662.80 L515.69,661.30 L515.52,659.80 L515.32,658.30 L515.10,656.80 L514.86,655.30 L514.60,653.80 L514.31,652.30 L514.00,650.80 L513.68,649.30 L513.33,647.80 L512.97,646.30 L512.59,644.80 L512.19,643.30 L511.78,641.80 L511.36,640.30 L510.92,638.80 L510.47,637.30 L510.01,635.80 L509.54,634.30 L509.06,632.80 L508.58,631.30 L508.09,629.80 L507.59,628.30 L507.09,626.80 L506.59,625.30 L506.09,623.80 L505.58,622.30 L505.07,620.80 L504.57,619.30 L504.07,617.80 L503.57,616.30 L503.08,614.80 L502.59,613.30 L502.11,611.80 L501.64,610.30 L501.20,608.80Z" fill="none" stroke="#a4b0ec" stroke-width="1" stroke-opacity="0.9"/>
<path d="M496.70,608.80 L501.10,608.80 L501.94,615.20 L495.86,615.20Z" fill="#e4e4ee" opacity="0.9"/>
<rect x="493.86" y="620.70" width="10.08" height="1.1" fill="#e8ecff" opacity="0.75"/>
<rect x="494.70" y="776.50" width="8.40" height="1.1" fill="#e8ecff" opacity="0.75"/>
<path d="M495.40,782.00 L502.40,782.00 L500.90,795.00 L496.90,795.00Z" fill="#d4d4de"/>
<text transform="translate(575.30,587.60) scale(0.92,1)" font-size="8.4" fill="#d0d0d0" text-anchor="middle">2.1mm</text>
<path d="M572.2,589.3 v12 M579.8,589.3 v12 M572.2,590.8 h7.6" stroke="#a0a0a0" stroke-width="0.7" fill="none" opacity="0.6"/>
<rect x="571.80" y="643.50" width="8.40" height="31.00" fill="#060606" opacity="0.6"/>
<rect x="573.20" y="713.20" width="5.60" height="29.70" fill="#060606" opacity="0.6"/>
<rect x="573.10" y="743.30" width="5.80" height="33.90" fill="#060606" opacity="0.6"/>
<rect x="573.20" y="777.10" width="5.60" height="31.60" fill="#060606" opacity="0.6"/>
<rect x="573.10" y="809.80" width="5.80" height="14.40" fill="#060606" opacity="0.6"/>
<path d="M572.80,642.00 L572.80,595.30 Q572.80,592.30 576.00,592.30 Q579.20,592.30 579.20,595.30 L579.20,642.00Z" fill="#f44c1a"/>
<rect x="572.90" y="644.70" width="6.20" height="28.60" rx="0.60" fill="#e2f22a"/>
<path d="M572.80,675.80 L579.20,675.80 L579.20,698.00 C579.20,705.00 577.20,709.50 576.00,711.00 C574.80,709.50 572.80,705.00 572.80,698.00Z" fill="#f44c1a"/>
<rect x="574.30" y="714.40" width="3.40" height="27.30" rx="0.60" fill="#bce632"/>
<rect x="574.20" y="744.50" width="3.60" height="31.50" rx="0.60" fill="#e8421e"/>
<rect x="574.30" y="778.30" width="3.40" height="29.20" rx="0.60" fill="#bce632"/>
<rect x="574.20" y="811.00" width="3.60" height="12.00" rx="0.60" fill="#e8421e"/>
<text transform="translate(544.83,565.9) scale(0.932,1)" x="0" y="0" font-size="35.4" fill="#fafafa">NA-005</text>
<rect x="333" y="823" width="333" height="40" fill="#ffffff"/>
<rect x="333" y="823" width="333" height="18.5" fill="#dedede"/>
<rect x="333" y="823" width="24" height="18.5" fill="#e8e8e8"/>
<rect x="333" y="859.3" width="333" height="1" fill="#e4e4e4"/>
<rect x="357.5" y="841.5" width="0.8" height="17.8" fill="#e2e2e2"/>
<rect x="390.5" y="841.5" width="0.8" height="17.8" fill="#e2e2e2"/>
<rect x="423.5" y="841.5" width="0.8" height="17.8" fill="#e2e2e2"/>
<rect x="457.5" y="841.5" width="0.8" height="17.8" fill="#e2e2e2"/>
<rect x="490.5" y="841.5" width="0.8" height="17.8" fill="#e2e2e2"/>
<rect x="524" y="841.5" width="0.8" height="17.8" fill="#e2e2e2"/>
<rect x="559" y="841.5" width="0.8" height="17.8" fill="#e2e2e2"/>
<rect x="588.5" y="841.5" width="0.8" height="17.8" fill="#e2e2e2"/>
<rect x="617.5" y="841.5" width="0.8" height="17.8" fill="#e2e2e2"/>
<rect x="647" y="841.5" width="0.8" height="17.8" fill="#e2e2e2"/>
<text transform="translate(345.80,835.60) scale(0.9,1)" font-size="8.8" fill="#2c2c2c" stroke="#2c2c2c" stroke-width="0.15" text-anchor="middle">DRIFT</text>
<text x="345.5" y="849" font-size="6" fill="#2a2a2a" stroke="#2a2a2a" stroke-width="0.2" text-anchor="middle" letter-spacing="-0.2">Average</text>
<text x="345.5" y="855" font-size="6" fill="#2a2a2a" stroke="#2a2a2a" stroke-width="0.2" text-anchor="middle">size</text>
<text transform="translate(374.00,827.90) scale(0.92,1)" font-size="6.2" fill="#2e2e2e" stroke="#2e2e2e" stroke-width="0.12" text-anchor="middle">total float</text>
<text transform="translate(374.00,833.90) scale(0.92,1)" font-size="6.2" fill="#2e2e2e" stroke="#2e2e2e" stroke-width="0.12" text-anchor="middle">length</text>
<text transform="translate(374.00,839.90) scale(0.92,1)" font-size="6.2" fill="#2e2e2e" stroke="#2e2e2e" stroke-width="0.12" text-anchor="middle">(CM)</text>
<text x="374.0" y="854.2" font-size="8.8" fill="#2a2a2a" stroke="#2a2a2a" stroke-width="0.06" text-anchor="middle" letter-spacing="-0.3">34.2</text>
<text transform="translate(407.00,827.90) scale(0.92,1)" font-size="6.2" fill="#2e2e2e" stroke="#2e2e2e" stroke-width="0.12" text-anchor="middle">float</text>
<text transform="translate(407.00,833.90) scale(0.92,1)" font-size="6.2" fill="#2e2e2e" stroke="#2e2e2e" stroke-width="0.12" text-anchor="middle">length</text>
<text transform="translate(407.00,839.90) scale(0.92,1)" font-size="6.2" fill="#2e2e2e" stroke="#2e2e2e" stroke-width="0.12" text-anchor="middle">(CM)</text>
<text x="407.0" y="854.2" font-size="8.8" fill="#2a2a2a" stroke="#2a2a2a" stroke-width="0.06" text-anchor="middle" letter-spacing="-0.3">6.0</text>
<text transform="translate(440.50,827.90) scale(0.92,1)" font-size="6.2" fill="#2e2e2e" stroke="#2e2e2e" stroke-width="0.12" text-anchor="middle">drift tail</text>
<text transform="translate(440.50,833.90) scale(0.92,1)" font-size="6.2" fill="#2e2e2e" stroke="#2e2e2e" stroke-width="0.12" text-anchor="middle">length</text>
<text transform="translate(440.50,839.90) scale(0.92,1)" font-size="6.2" fill="#2e2e2e" stroke="#2e2e2e" stroke-width="0.12" text-anchor="middle">(CM)</text>
<text x="440.5" y="854.2" font-size="8.8" fill="#2a2a2a" stroke="#2a2a2a" stroke-width="0.06" text-anchor="middle" letter-spacing="-0.3">18.0</text>
<text transform="translate(474.00,827.90) scale(0.92,1)" font-size="6.2" fill="#2e2e2e" stroke="#2e2e2e" stroke-width="0.12" text-anchor="middle">floating</text>
<text transform="translate(474.00,833.90) scale(0.92,1)" font-size="6.2" fill="#2e2e2e" stroke="#2e2e2e" stroke-width="0.12" text-anchor="middle">foot length</text>
<text transform="translate(474.00,839.90) scale(0.92,1)" font-size="6.2" fill="#2e2e2e" stroke="#2e2e2e" stroke-width="0.12" text-anchor="middle">(CM)</text>
<text x="474.0" y="854.2" font-size="8.8" fill="#2a2a2a" stroke="#2a2a2a" stroke-width="0.06" text-anchor="middle" letter-spacing="-0.3">10.2</text>
<text transform="translate(507.25,827.90) scale(0.92,1)" font-size="6.2" fill="#2e2e2e" stroke="#2e2e2e" stroke-width="0.12" text-anchor="middle">body</text>
<text transform="translate(507.25,833.90) scale(0.92,1)" font-size="6.2" fill="#2e2e2e" stroke="#2e2e2e" stroke-width="0.12" text-anchor="middle">diameter</text>
<text transform="translate(507.25,839.90) scale(0.92,1)" font-size="6.2" fill="#2e2e2e" stroke="#2e2e2e" stroke-width="0.12" text-anchor="middle">(MM)</text>
<text x="507.2" y="854.2" font-size="8.8" fill="#2a2a2a" stroke="#2a2a2a" stroke-width="0.06" text-anchor="middle" letter-spacing="-0.3">11.5</text>
<text transform="translate(541.50,827.90) scale(0.92,1)" font-size="6.2" fill="#2e2e2e" stroke="#2e2e2e" stroke-width="0.12" text-anchor="middle">tail</text>
<text transform="translate(541.50,833.90) scale(0.92,1)" font-size="6.2" fill="#2e2e2e" stroke="#2e2e2e" stroke-width="0.12" text-anchor="middle">diameter</text>
<text transform="translate(541.50,839.90) scale(0.92,1)" font-size="6.2" fill="#2e2e2e" stroke="#2e2e2e" stroke-width="0.12" text-anchor="middle">(MM)</text>
<text x="541.5" y="854.2" font-size="8.8" fill="#2a2a2a" stroke="#2a2a2a" stroke-width="0.06" text-anchor="middle" letter-spacing="-0.3">0.9-2.1</text>
<text transform="translate(573.75,827.90) scale(0.92,1)" font-size="6.2" fill="#2e2e2e" stroke="#2e2e2e" stroke-width="0.12" text-anchor="middle">foot</text>
<text transform="translate(573.75,833.90) scale(0.92,1)" font-size="6.2" fill="#2e2e2e" stroke="#2e2e2e" stroke-width="0.12" text-anchor="middle">diameter</text>
<text transform="translate(573.75,839.90) scale(0.92,1)" font-size="6.2" fill="#2e2e2e" stroke="#2e2e2e" stroke-width="0.12" text-anchor="middle">(MM)</text>
<text x="573.8" y="854.2" font-size="8.8" fill="#2a2a2a" stroke="#2a2a2a" stroke-width="0.06" text-anchor="middle" letter-spacing="-0.3">0.9</text>
<text transform="translate(603.00,827.90) scale(0.92,1)" font-size="6.2" fill="#2e2e2e" stroke="#2e2e2e" stroke-width="0.12" text-anchor="middle">dead</text>
<text transform="translate(603.00,833.90) scale(0.92,1)" font-size="6.2" fill="#2e2e2e" stroke="#2e2e2e" stroke-width="0.12" text-anchor="middle">weight</text>
<text transform="translate(603.00,839.90) scale(0.92,1)" font-size="6.2" fill="#2e2e2e" stroke="#2e2e2e" stroke-width="0.12" text-anchor="middle">(G)</text>
<text x="603.0" y="854.2" font-size="8.8" fill="#2a2a2a" stroke="#2a2a2a" stroke-width="0.06" text-anchor="middle" letter-spacing="-0.3">0.96</text>
<text transform="translate(632.25,827.90) scale(0.92,1)" font-size="6.2" fill="#2e2e2e" stroke="#2e2e2e" stroke-width="0.12" text-anchor="middle">eat</text>
<text transform="translate(632.25,833.90) scale(0.92,1)" font-size="6.2" fill="#2e2e2e" stroke="#2e2e2e" stroke-width="0.12" text-anchor="middle">lead</text>
<text transform="translate(632.25,839.90) scale(0.92,1)" font-size="6.2" fill="#2e2e2e" stroke="#2e2e2e" stroke-width="0.12" text-anchor="middle">(G)</text>
<text x="632.2" y="854.2" font-size="8.8" fill="#2a2a2a" stroke="#2a2a2a" stroke-width="0.06" text-anchor="middle" letter-spacing="-0.3">2.6</text>
<text transform="translate(656.50,834.80) scale(0.88,1)" font-size="6.6" fill="#2e2e2e" stroke="#2e2e2e" stroke-width="0.12" text-anchor="middle">mesh</text>
<text x="656.5" y="854.2" font-size="8.8" fill="#2a2a2a" stroke="#2a2a2a" stroke-width="0.06" text-anchor="middle" letter-spacing="-0.3">13</text>
<rect x="745.7" y="531.57" width="11.1" height="1.1" fill="#bcbcbc"/>
<rect x="745.7" y="538.88" width="6.5" height="1.1" fill="#bcbcbc"/>
<rect x="745.7" y="546.20" width="6.5" height="1.1" fill="#bcbcbc"/>
<rect x="745.7" y="553.52" width="6.5" height="1.1" fill="#bcbcbc"/>
<rect x="745.7" y="560.83" width="6.5" height="1.1" fill="#bcbcbc"/>
<rect x="745.7" y="568.15" width="16.3" height="1.1" fill="#bcbcbc"/>
<text transform="translate(756.1,546.1) rotate(90) scale(0.97,0.9)" x="0" y="0" font-size="9.1" fill="#d0d0d0">40cm</text>
<rect x="745.7" y="575.47" width="6.5" height="1.1" fill="#bcbcbc"/>
<rect x="745.7" y="582.78" width="6.5" height="1.1" fill="#bcbcbc"/>
<rect x="745.7" y="590.10" width="6.5" height="1.1" fill="#bcbcbc"/>
<rect x="745.7" y="597.42" width="6.5" height="1.1" fill="#bcbcbc"/>
<rect x="745.7" y="604.74" width="11.1" height="1.1" fill="#bcbcbc"/>
<rect x="745.7" y="612.05" width="6.5" height="1.1" fill="#bcbcbc"/>
<rect x="745.7" y="619.37" width="6.5" height="1.1" fill="#bcbcbc"/>
<rect x="745.7" y="626.69" width="6.5" height="1.1" fill="#bcbcbc"/>
<rect x="745.7" y="634.00" width="6.5" height="1.1" fill="#bcbcbc"/>
<rect x="745.7" y="641.32" width="16.3" height="1.1" fill="#bcbcbc"/>
<text transform="translate(756.1,619.3) rotate(90) scale(0.97,0.9)" x="0" y="0" font-size="9.1" fill="#d0d0d0">30cm</text>
<rect x="745.7" y="648.64" width="6.5" height="1.1" fill="#bcbcbc"/>
<rect x="745.7" y="655.95" width="6.5" height="1.1" fill="#bcbcbc"/>
<rect x="745.7" y="663.27" width="6.5" height="1.1" fill="#bcbcbc"/>
<rect x="745.7" y="670.59" width="6.5" height="1.1" fill="#bcbcbc"/>
<rect x="745.7" y="677.91" width="11.1" height="1.1" fill="#bcbcbc"/>
<rect x="745.7" y="685.22" width="6.5" height="1.1" fill="#bcbcbc"/>
<rect x="745.7" y="692.54" width="6.5" height="1.1" fill="#bcbcbc"/>
<rect x="745.7" y="699.86" width="6.5" height="1.1" fill="#bcbcbc"/>
<rect x="745.7" y="707.17" width="6.5" height="1.1" fill="#bcbcbc"/>
<rect x="745.7" y="714.49" width="16.3" height="1.1" fill="#bcbcbc"/>
<text transform="translate(756.1,692.4) rotate(90) scale(0.97,0.9)" x="0" y="0" font-size="9.1" fill="#d0d0d0">20cm</text>
<rect x="745.7" y="721.81" width="6.5" height="1.1" fill="#bcbcbc"/>
<rect x="745.7" y="729.12" width="6.5" height="1.1" fill="#bcbcbc"/>
<rect x="745.7" y="736.44" width="6.5" height="1.1" fill="#bcbcbc"/>
<rect x="745.7" y="743.76" width="6.5" height="1.1" fill="#bcbcbc"/>
<rect x="745.7" y="751.08" width="11.1" height="1.1" fill="#bcbcbc"/>
<rect x="745.7" y="758.39" width="6.5" height="1.1" fill="#bcbcbc"/>
<rect x="745.7" y="765.71" width="6.5" height="1.1" fill="#bcbcbc"/>
<rect x="745.7" y="773.03" width="6.5" height="1.1" fill="#bcbcbc"/>
<rect x="745.7" y="780.34" width="6.5" height="1.1" fill="#bcbcbc"/>
<rect x="745.7" y="787.66" width="16.3" height="1.1" fill="#bcbcbc"/>
<text transform="translate(756.1,765.6) rotate(90) scale(0.97,0.9)" x="0" y="0" font-size="9.1" fill="#d0d0d0">10cm</text>
<rect x="745.7" y="794.98" width="6.5" height="1.1" fill="#bcbcbc"/>
<rect x="745.7" y="802.29" width="6.5" height="1.1" fill="#bcbcbc"/>
<rect x="745.7" y="809.61" width="6.5" height="1.1" fill="#bcbcbc"/>
<rect x="745.7" y="816.93" width="6.5" height="1.1" fill="#bcbcbc"/>
<rect x="777.15" y="777.00" width="1.3" height="46.00" fill="#5a5a5a"/>
<rect x="776.15" y="593.70" width="3.30" height="12.64" fill="#080808" opacity="0.35"/>
<rect x="776.55" y="594.30" width="2.50" height="11.44" rx="0.40" fill="#cc5a2e"/>
<rect x="776.15" y="606.24" width="3.30" height="12.64" fill="#080808" opacity="0.35"/>
<rect x="776.55" y="606.84" width="2.50" height="11.44" rx="0.40" fill="#cfe04c"/>
<rect x="776.15" y="618.77" width="3.30" height="12.64" fill="#080808" opacity="0.35"/>
<rect x="776.55" y="619.37" width="2.50" height="11.44" rx="0.40" fill="#c85a2e"/>
<rect x="776.40" y="631.46" width="2.80" height="9.44" fill="#080808" opacity="0.35"/>
<rect x="776.80" y="632.06" width="2.00" height="8.24" rx="0.40" fill="#8ea040"/>
<rect x="776.40" y="641.11" width="2.80" height="9.44" fill="#080808" opacity="0.35"/>
<rect x="776.80" y="641.71" width="2.00" height="8.24" rx="0.40" fill="#9a4a2c"/>
<rect x="776.40" y="650.75" width="2.80" height="9.44" fill="#080808" opacity="0.35"/>
<rect x="776.80" y="651.35" width="2.00" height="8.24" rx="0.40" fill="#8ea040"/>
<rect x="776.40" y="660.39" width="2.80" height="9.44" fill="#080808" opacity="0.35"/>
<rect x="776.80" y="660.99" width="2.00" height="8.24" rx="0.40" fill="#9a4a2c"/>
<rect x="776.40" y="670.04" width="2.80" height="9.44" fill="#080808" opacity="0.35"/>
<rect x="776.80" y="670.64" width="2.00" height="8.24" rx="0.40" fill="#8ea040"/>
<rect x="776.40" y="679.68" width="2.80" height="9.44" fill="#080808" opacity="0.35"/>
<rect x="776.80" y="680.28" width="2.00" height="8.24" rx="0.40" fill="#9a4a2c"/>
<rect x="776.40" y="689.32" width="2.80" height="9.44" fill="#080808" opacity="0.35"/>
<rect x="776.80" y="689.92" width="2.00" height="8.24" rx="0.40" fill="#8ea040"/>
<rect x="776.40" y="698.97" width="2.80" height="9.44" fill="#080808" opacity="0.35"/>
<rect x="776.80" y="699.57" width="2.00" height="8.24" rx="0.40" fill="#9a4a2c"/>
<rect x="776.40" y="708.61" width="2.80" height="9.44" fill="#080808" opacity="0.35"/>
<rect x="776.80" y="709.21" width="2.00" height="8.24" rx="0.40" fill="#8ea040"/>
<rect x="776.40" y="718.26" width="2.80" height="9.44" fill="#080808" opacity="0.35"/>
<rect x="776.80" y="718.86" width="2.00" height="8.24" rx="0.40" fill="#9a4a2c"/>
<linearGradient id="bg11" x1="773.75" x2="781.8499999999999" y1="0" y2="0" gradientUnits="userSpaceOnUse"><stop offset="0" stop-color="#1a2a9a"/><stop offset="0.22" stop-color="#4a74e8"/><stop offset="0.5" stop-color="#b4c8ff"/><stop offset="0.78" stop-color="#4a74e8"/><stop offset="1" stop-color="#1a2a9a"/></linearGradient>
<path d="M777.20,727.80 C776.93,728.55 776.08,730.50 775.57,732.30 C775.07,734.10 774.46,736.35 774.15,738.60 C773.85,740.85 773.75,742.78 773.75,745.80 C773.75,748.82 773.85,753.08 774.15,756.72 C774.46,760.36 775.07,764.26 775.57,767.64 C776.08,771.02 776.93,775.44 777.20,777.00 L778.40,777.00 C778.67,775.44 779.52,771.02 780.03,767.64 C780.53,764.26 781.14,760.36 781.44,756.72 C781.75,753.08 781.85,748.82 781.85,745.80 C781.85,742.78 781.75,740.85 781.44,738.60 C781.14,736.35 780.53,734.10 780.03,732.30 C779.52,730.50 778.67,728.55 778.40,727.80Z" fill="url(#bg11)"/>
<rect x="777.20" y="743.80" width="1.3" height="5" fill="#c04868" opacity="0.6"/>
<ellipse cx="777.80" cy="729.30" rx="0.9" ry="1.6" fill="#f0f0f8" opacity="0.9"/>
<ellipse cx="777.80" cy="775.50" rx="0.9" ry="1.8" fill="#f4f4fa" opacity="0.95"/>
<rect x="831.80" y="810.00" width="1.2" height="13.00" fill="#4a4a4a"/>
<rect x="829.45" y="530.00" width="5.90" height="36.00" fill="#050505" opacity="0.7"/>
<rect x="829.45" y="568.00" width="5.90" height="31.50" fill="#050505" opacity="0.7"/>
<rect x="830.25" y="530.00" width="4.30" height="35.00" rx="0.80" fill="#e2f22a"/>
<rect x="830.25" y="569.00" width="4.30" height="29.50" rx="0.80" fill="#f44c1a"/>
<clipPath id="cp12"><path d="M830.20,598.50 L829.98,600.00 L829.71,601.50 L829.42,603.00 L829.13,604.50 L828.82,606.00 L828.50,607.50 L828.17,609.00 L827.83,610.50 L827.49,612.00 L827.13,613.50 L826.77,615.00 L826.40,616.50 L826.02,618.00 L825.64,619.50 L825.25,621.00 L824.86,622.50 L824.46,624.00 L824.06,625.50 L823.66,627.00 L823.26,628.50 L822.86,630.00 L822.46,631.50 L822.05,633.00 L821.65,634.50 L821.26,636.00 L820.86,637.50 L820.47,639.00 L820.08,640.50 L819.70,642.00 L819.32,643.50 L818.94,645.00 L818.58,646.50 L818.22,648.00 L817.87,649.50 L817.53,651.00 L817.20,652.50 L816.88,654.00 L816.57,655.50 L816.27,657.00 L815.98,658.50 L815.71,660.00 L815.45,661.50 L815.21,663.00 L814.98,664.50 L814.76,666.00 L814.56,667.50 L814.38,669.00 L814.22,670.50 L814.08,672.00 L813.95,673.50 L813.85,675.00 L813.76,676.50 L813.70,678.00 L813.66,679.50 L813.64,681.00 L813.64,682.50 L813.67,684.00 L813.71,685.50 L813.77,687.00 L813.86,688.50 L813.95,690.00 L814.07,691.50 L814.20,693.00 L814.34,694.50 L814.50,696.00 L814.66,697.50 L814.84,699.00 L815.03,700.50 L815.22,702.00 L815.43,703.50 L815.64,705.00 L815.85,706.50 L816.07,708.00 L816.29,709.50 L816.52,711.00 L816.75,712.50 L816.98,714.00 L817.21,715.50 L817.45,717.00 L817.68,718.50 L817.92,720.00 L818.16,721.50 L818.41,723.00 L818.65,724.50 L818.89,726.00 L819.13,727.50 L819.38,729.00 L819.62,730.50 L819.86,732.00 L820.11,733.50 L820.35,735.00 L820.59,736.50 L820.83,738.00 L821.07,739.50 L821.31,741.00 L821.54,742.50 L821.77,744.00 L822.00,745.50 L822.23,747.00 L822.46,748.50 L822.68,750.00 L822.91,751.50 L823.13,753.00 L823.35,754.50 L823.57,756.00 L823.78,757.50 L824.00,759.00 L824.21,760.50 L824.42,762.00 L824.63,763.50 L824.83,765.00 L825.04,766.50 L825.24,768.00 L825.45,769.50 L825.65,771.00 L825.85,772.50 L826.04,774.00 L826.24,775.50 L826.43,777.00 L826.63,778.50 L826.82,780.00 L827.01,781.50 L827.20,783.00 L827.39,784.50 L827.57,786.00 L827.76,787.50 L827.94,789.00 L828.13,790.50 L828.31,792.00 L828.49,793.50 L828.67,795.00 L828.85,796.50 L829.02,798.00 L829.20,799.50 L829.37,801.00 L829.55,802.50 L829.72,804.00 L829.89,805.50 L830.07,807.00 L830.24,808.50 L830.40,810.00 L834.40,810.00 L834.56,808.50 L834.73,807.00 L834.91,805.50 L835.08,804.00 L835.25,802.50 L835.43,801.00 L835.60,799.50 L835.78,798.00 L835.95,796.50 L836.13,795.00 L836.31,793.50 L836.49,792.00 L836.67,790.50 L836.86,789.00 L837.04,787.50 L837.23,786.00 L837.41,784.50 L837.60,783.00 L837.79,781.50 L837.98,780.00 L838.17,778.50 L838.37,777.00 L838.56,775.50 L838.76,774.00 L838.95,772.50 L839.15,771.00 L839.35,769.50 L839.56,768.00 L839.76,766.50 L839.97,765.00 L840.17,763.50 L840.38,762.00 L840.59,760.50 L840.80,759.00 L841.02,757.50 L841.23,756.00 L841.45,754.50 L841.67,753.00 L841.89,751.50 L842.12,750.00 L842.34,748.50 L842.57,747.00 L842.80,745.50 L843.03,744.00 L843.26,742.50 L843.49,741.00 L843.73,739.50 L843.97,738.00 L844.21,736.50 L844.45,735.00 L844.69,733.50 L844.94,732.00 L845.18,730.50 L845.42,729.00 L845.67,727.50 L845.91,726.00 L846.15,724.50 L846.39,723.00 L846.64,721.50 L846.88,720.00 L847.12,718.50 L847.35,717.00 L847.59,715.50 L847.82,714.00 L848.05,712.50 L848.28,711.00 L848.51,709.50 L848.73,708.00 L848.95,706.50 L849.16,705.00 L849.37,703.50 L849.58,702.00 L849.77,700.50 L849.96,699.00 L850.14,697.50 L850.30,696.00 L850.46,694.50 L850.60,693.00 L850.73,691.50 L850.85,690.00 L850.94,688.50 L851.03,687.00 L851.09,685.50 L851.13,684.00 L851.16,682.50 L851.16,681.00 L851.14,679.50 L851.10,678.00 L851.04,676.50 L850.95,675.00 L850.85,673.50 L850.72,672.00 L850.58,670.50 L850.42,669.00 L850.24,667.50 L850.04,666.00 L849.82,664.50 L849.59,663.00 L849.35,661.50 L849.09,660.00 L848.82,658.50 L848.53,657.00 L848.23,655.50 L847.92,654.00 L847.60,652.50 L847.27,651.00 L846.93,649.50 L846.58,648.00 L846.22,646.50 L845.86,645.00 L845.48,643.50 L845.10,642.00 L844.72,640.50 L844.33,639.00 L843.94,637.50 L843.54,636.00 L843.15,634.50 L842.75,633.00 L842.34,631.50 L841.94,630.00 L841.54,628.50 L841.14,627.00 L840.74,625.50 L840.34,624.00 L839.94,622.50 L839.55,621.00 L839.16,619.50 L838.78,618.00 L838.40,616.50 L838.03,615.00 L837.67,613.50 L837.31,612.00 L836.97,610.50 L836.63,609.00 L836.30,607.50 L835.98,606.00 L835.67,604.50 L835.38,603.00 L835.09,601.50 L834.82,600.00 L834.60,598.50Z"/></clipPath>
<linearGradient id="bg12" x1="813.35" x2="851.4499999999999" y1="0" y2="0" gradientUnits="userSpaceOnUse"><stop offset="0" stop-color="#2038b8"/><stop offset="0.25" stop-color="#3e60d8"/><stop offset="0.5" stop-color="#6282e2"/><stop offset="0.75" stop-color="#3e60d8"/><stop offset="1" stop-color="#2038b8"/></linearGradient>
<linearGradient id="hs12" x1="0" x2="0" y1="666.0" y2="798.0" gradientUnits="userSpaceOnUse"><stop offset="0" stop-color="#e4e8ff" stop-opacity="0"/><stop offset="0.06" stop-color="#e0e6ff" stop-opacity="0.7"/><stop offset="0.25" stop-color="#e8cce0" stop-opacity="0.65"/><stop offset="0.55" stop-color="#dcb0cc" stop-opacity="0.5"/><stop offset="1" stop-color="#c8d0f8" stop-opacity="0.1"/></linearGradient>
<path d="M830.20,598.50 L829.98,600.00 L829.71,601.50 L829.42,603.00 L829.13,604.50 L828.82,606.00 L828.50,607.50 L828.17,609.00 L827.83,610.50 L827.49,612.00 L827.13,613.50 L826.77,615.00 L826.40,616.50 L826.02,618.00 L825.64,619.50 L825.25,621.00 L824.86,622.50 L824.46,624.00 L824.06,625.50 L823.66,627.00 L823.26,628.50 L822.86,630.00 L822.46,631.50 L822.05,633.00 L821.65,634.50 L821.26,636.00 L820.86,637.50 L820.47,639.00 L820.08,640.50 L819.70,642.00 L819.32,643.50 L818.94,645.00 L818.58,646.50 L818.22,648.00 L817.87,649.50 L817.53,651.00 L817.20,652.50 L816.88,654.00 L816.57,655.50 L816.27,657.00 L815.98,658.50 L815.71,660.00 L815.45,661.50 L815.21,663.00 L814.98,664.50 L814.76,666.00 L814.56,667.50 L814.38,669.00 L814.22,670.50 L814.08,672.00 L813.95,673.50 L813.85,675.00 L813.76,676.50 L813.70,678.00 L813.66,679.50 L813.64,681.00 L813.64,682.50 L813.67,684.00 L813.71,685.50 L813.77,687.00 L813.86,688.50 L813.95,690.00 L814.07,691.50 L814.20,693.00 L814.34,694.50 L814.50,696.00 L814.66,697.50 L814.84,699.00 L815.03,700.50 L815.22,702.00 L815.43,703.50 L815.64,705.00 L815.85,706.50 L816.07,708.00 L816.29,709.50 L816.52,711.00 L816.75,712.50 L816.98,714.00 L817.21,715.50 L817.45,717.00 L817.68,718.50 L817.92,720.00 L818.16,721.50 L818.41,723.00 L818.65,724.50 L818.89,726.00 L819.13,727.50 L819.38,729.00 L819.62,730.50 L819.86,732.00 L820.11,733.50 L820.35,735.00 L820.59,736.50 L820.83,738.00 L821.07,739.50 L821.31,741.00 L821.54,742.50 L821.77,744.00 L822.00,745.50 L822.23,747.00 L822.46,748.50 L822.68,750.00 L822.91,751.50 L823.13,753.00 L823.35,754.50 L823.57,756.00 L823.78,757.50 L824.00,759.00 L824.21,760.50 L824.42,762.00 L824.63,763.50 L824.83,765.00 L825.04,766.50 L825.24,768.00 L825.45,769.50 L825.65,771.00 L825.85,772.50 L826.04,774.00 L826.24,775.50 L826.43,777.00 L826.63,778.50 L826.82,780.00 L827.01,781.50 L827.20,783.00 L827.39,784.50 L827.57,786.00 L827.76,787.50 L827.94,789.00 L828.13,790.50 L828.31,792.00 L828.49,793.50 L828.67,795.00 L828.85,796.50 L829.02,798.00 L829.20,799.50 L829.37,801.00 L829.55,802.50 L829.72,804.00 L829.89,805.50 L830.07,807.00 L830.24,808.50 L830.40,810.00 L834.40,810.00 L834.56,808.50 L834.73,807.00 L834.91,805.50 L835.08,804.00 L835.25,802.50 L835.43,801.00 L835.60,799.50 L835.78,798.00 L835.95,796.50 L836.13,795.00 L836.31,793.50 L836.49,792.00 L836.67,790.50 L836.86,789.00 L837.04,787.50 L837.23,786.00 L837.41,784.50 L837.60,783.00 L837.79,781.50 L837.98,780.00 L838.17,778.50 L838.37,777.00 L838.56,775.50 L838.76,774.00 L838.95,772.50 L839.15,771.00 L839.35,769.50 L839.56,768.00 L839.76,766.50 L839.97,765.00 L840.17,763.50 L840.38,762.00 L840.59,760.50 L840.80,759.00 L841.02,757.50 L841.23,756.00 L841.45,754.50 L841.67,753.00 L841.89,751.50 L842.12,750.00 L842.34,748.50 L842.57,747.00 L842.80,745.50 L843.03,744.00 L843.26,742.50 L843.49,741.00 L843.73,739.50 L843.97,738.00 L844.21,736.50 L844.45,735.00 L844.69,733.50 L844.94,732.00 L845.18,730.50 L845.42,729.00 L845.67,727.50 L845.91,726.00 L846.15,724.50 L846.39,723.00 L846.64,721.50 L846.88,720.00 L847.12,718.50 L847.35,717.00 L847.59,715.50 L847.82,714.00 L848.05,712.50 L848.28,711.00 L848.51,709.50 L848.73,708.00 L848.95,706.50 L849.16,705.00 L849.37,703.50 L849.58,702.00 L849.77,700.50 L849.96,699.00 L850.14,697.50 L850.30,696.00 L850.46,694.50 L850.60,693.00 L850.73,691.50 L850.85,690.00 L850.94,688.50 L851.03,687.00 L851.09,685.50 L851.13,684.00 L851.16,682.50 L851.16,681.00 L851.14,679.50 L851.10,678.00 L851.04,676.50 L850.95,675.00 L850.85,673.50 L850.72,672.00 L850.58,670.50 L850.42,669.00 L850.24,667.50 L850.04,666.00 L849.82,664.50 L849.59,663.00 L849.35,661.50 L849.09,660.00 L848.82,658.50 L848.53,657.00 L848.23,655.50 L847.92,654.00 L847.60,652.50 L847.27,651.00 L846.93,649.50 L846.58,648.00 L846.22,646.50 L845.86,645.00 L845.48,643.50 L845.10,642.00 L844.72,640.50 L844.33,639.00 L843.94,637.50 L843.54,636.00 L843.15,634.50 L842.75,633.00 L842.34,631.50 L841.94,630.00 L841.54,628.50 L841.14,627.00 L840.74,625.50 L840.34,624.00 L839.94,622.50 L839.55,621.00 L839.16,619.50 L838.78,618.00 L838.40,616.50 L838.03,615.00 L837.67,613.50 L837.31,612.00 L836.97,610.50 L836.63,609.00 L836.30,607.50 L835.98,606.00 L835.67,604.50 L835.38,603.00 L835.09,601.50 L834.82,600.00 L834.60,598.50Z" fill="url(#bg12)"/>
<g clip-path="url(#cp12)">
<rect x="812.35" y="598.50" width="40.10" height="211.50" filter="url(#spk)" opacity="0.45"/>
<rect x="812.35" y="598.50" width="40.10" height="211.50" filter="url(#spl)" opacity="0.3"/>
<rect x="829.40" y="606.50" width="5" height="73.50" rx="2.5" fill="#b8c4ff" opacity="0.3"/>
<rect x="826.00" y="666.00" width="5.8" height="132.00" rx="2.9" fill="url(#hs12)"/>
<path d="M831.6,697.0 l2.5,4 l-1.5,7 l2.5,6 l-1.5,8 l1,6" stroke="#c42836" stroke-width="3" fill="none" opacity="0.85"/>
<path d="M834.4,698.0 q7,6 4,13 q-3,5 2,9 q5,4 1,9" stroke="#2a1866" stroke-width="1.7" fill="none" opacity="0.65"/>
<circle cx="836.9" cy="707.0" r="1.7" fill="#c43040" opacity="0.8"/>
<circle cx="837.9" cy="720.0" r="1.6" fill="#b02a48" opacity="0.75"/>
<ellipse cx="833.6" cy="737.0" rx="2.3" ry="2.6" fill="#c03040" opacity="0.8"/>
<circle cx="835.8" cy="733.8" r="1.1" fill="#2a1a6a" opacity="0.7"/>
<ellipse cx="833.6" cy="749.0" rx="2.3" ry="2.6" fill="#c03040" opacity="0.8"/>
<circle cx="835.8" cy="745.8" r="1.1" fill="#2a1a6a" opacity="0.7"/>
<ellipse cx="833.6" cy="761.0" rx="2.3" ry="2.6" fill="#c03040" opacity="0.8"/>
<circle cx="835.8" cy="757.8" r="1.1" fill="#2a1a6a" opacity="0.7"/>
<rect x="833.2" y="772.9" width="3.2" height="3.3" rx="1" fill="#2a1a6a" opacity="0.55"/>
<rect x="830.2" y="773.9" width="2.6" height="2.7" rx="1" fill="#c84050" opacity="0.45"/>
<rect x="833.2" y="777.8" width="3.2" height="3.3" rx="1" fill="#2a1a6a" opacity="0.55"/>
<rect x="830.2" y="778.8" width="2.6" height="2.7" rx="1" fill="#c84050" opacity="0.45"/>
<rect x="833.2" y="782.8" width="3.2" height="3.3" rx="1" fill="#2a1a6a" opacity="0.55"/>
<rect x="830.2" y="783.8" width="2.6" height="2.7" rx="1" fill="#c84050" opacity="0.45"/>
<rect x="833.2" y="787.7" width="3.2" height="3.3" rx="1" fill="#2a1a6a" opacity="0.55"/>
<rect x="830.2" y="788.7" width="2.6" height="2.7" rx="1" fill="#c84050" opacity="0.45"/>
<rect x="833.2" y="792.6" width="3.2" height="3.3" rx="1" fill="#2a1a6a" opacity="0.55"/>
<rect x="830.2" y="793.6" width="2.6" height="2.7" rx="1" fill="#c84050" opacity="0.45"/>
</g>
<path d="M830.20,598.50 L829.98,600.00 L829.71,601.50 L829.42,603.00 L829.13,604.50 L828.82,606.00 L828.50,607.50 L828.17,609.00 L827.83,610.50 L827.49,612.00 L827.13,613.50 L826.77,615.00 L826.40,616.50 L826.02,618.00 L825.64,619.50 L825.25,621.00 L824.86,622.50 L824.46,624.00 L824.06,625.50 L823.66,627.00 L823.26,628.50 L822.86,630.00 L822.46,631.50 L822.05,633.00 L821.65,634.50 L821.26,636.00 L820.86,637.50 L820.47,639.00 L820.08,640.50 L819.70,642.00 L819.32,643.50 L818.94,645.00 L818.58,646.50 L818.22,648.00 L817.87,649.50 L817.53,651.00 L817.20,652.50 L816.88,654.00 L816.57,655.50 L816.27,657.00 L815.98,658.50 L815.71,660.00 L815.45,661.50 L815.21,663.00 L814.98,664.50 L814.76,666.00 L814.56,667.50 L814.38,669.00 L814.22,670.50 L814.08,672.00 L813.95,673.50 L813.85,675.00 L813.76,676.50 L813.70,678.00 L813.66,679.50 L813.64,681.00 L813.64,682.50 L813.67,684.00 L813.71,685.50 L813.77,687.00 L813.86,688.50 L813.95,690.00 L814.07,691.50 L814.20,693.00 L814.34,694.50 L814.50,696.00 L814.66,697.50 L814.84,699.00 L815.03,700.50 L815.22,702.00 L815.43,703.50 L815.64,705.00 L815.85,706.50 L816.07,708.00 L816.29,709.50 L816.52,711.00 L816.75,712.50 L816.98,714.00 L817.21,715.50 L817.45,717.00 L817.68,718.50 L817.92,720.00 L818.16,721.50 L818.41,723.00 L818.65,724.50 L818.89,726.00 L819.13,727.50 L819.38,729.00 L819.62,730.50 L819.86,732.00 L820.11,733.50 L820.35,735.00 L820.59,736.50 L820.83,738.00 L821.07,739.50 L821.31,741.00 L821.54,742.50 L821.77,744.00 L822.00,745.50 L822.23,747.00 L822.46,748.50 L822.68,750.00 L822.91,751.50 L823.13,753.00 L823.35,754.50 L823.57,756.00 L823.78,757.50 L824.00,759.00 L824.21,760.50 L824.42,762.00 L824.63,763.50 L824.83,765.00 L825.04,766.50 L825.24,768.00 L825.45,769.50 L825.65,771.00 L825.85,772.50 L826.04,774.00 L826.24,775.50 L826.43,777.00 L826.63,778.50 L826.82,780.00 L827.01,781.50 L827.20,783.00 L827.39,784.50 L827.57,786.00 L827.76,787.50 L827.94,789.00 L828.13,790.50 L828.31,792.00 L828.49,793.50 L828.67,795.00 L828.85,796.50 L829.02,798.00 L829.20,799.50 L829.37,801.00 L829.55,802.50 L829.72,804.00 L829.89,805.50 L830.07,807.00 L830.24,808.50 L830.40,810.00 L834.40,810.00 L834.56,808.50 L834.73,807.00 L834.91,805.50 L835.08,804.00 L835.25,802.50 L835.43,801.00 L835.60,799.50 L835.78,798.00 L835.95,796.50 L836.13,795.00 L836.31,793.50 L836.49,792.00 L836.67,790.50 L836.86,789.00 L837.04,787.50 L837.23,786.00 L837.41,784.50 L837.60,783.00 L837.79,781.50 L837.98,780.00 L838.17,778.50 L838.37,777.00 L838.56,775.50 L838.76,774.00 L838.95,772.50 L839.15,771.00 L839.35,769.50 L839.56,768.00 L839.76,766.50 L839.97,765.00 L840.17,763.50 L840.38,762.00 L840.59,760.50 L840.80,759.00 L841.02,757.50 L841.23,756.00 L841.45,754.50 L841.67,753.00 L841.89,751.50 L842.12,750.00 L842.34,748.50 L842.57,747.00 L842.80,745.50 L843.03,744.00 L843.26,742.50 L843.49,741.00 L843.73,739.50 L843.97,738.00 L844.21,736.50 L844.45,735.00 L844.69,733.50 L844.94,732.00 L845.18,730.50 L845.42,729.00 L845.67,727.50 L845.91,726.00 L846.15,724.50 L846.39,723.00 L846.64,721.50 L846.88,720.00 L847.12,718.50 L847.35,717.00 L847.59,715.50 L847.82,714.00 L848.05,712.50 L848.28,711.00 L848.51,709.50 L848.73,708.00 L848.95,706.50 L849.16,705.00 L849.37,703.50 L849.58,702.00 L849.77,700.50 L849.96,699.00 L850.14,697.50 L850.30,696.00 L850.46,694.50 L850.60,693.00 L850.73,691.50 L850.85,690.00 L850.94,688.50 L851.03,687.00 L851.09,685.50 L851.13,684.00 L851.16,682.50 L851.16,681.00 L851.14,679.50 L851.10,678.00 L851.04,676.50 L850.95,675.00 L850.85,673.50 L850.72,672.00 L850.58,670.50 L850.42,669.00 L850.24,667.50 L850.04,666.00 L849.82,664.50 L849.59,663.00 L849.35,661.50 L849.09,660.00 L848.82,658.50 L848.53,657.00 L848.23,655.50 L847.92,654.00 L847.60,652.50 L847.27,651.00 L846.93,649.50 L846.58,648.00 L846.22,646.50 L845.86,645.00 L845.48,643.50 L845.10,642.00 L844.72,640.50 L844.33,639.00 L843.94,637.50 L843.54,636.00 L843.15,634.50 L842.75,633.00 L842.34,631.50 L841.94,630.00 L841.54,628.50 L841.14,627.00 L840.74,625.50 L840.34,624.00 L839.94,622.50 L839.55,621.00 L839.16,619.50 L838.78,618.00 L838.40,616.50 L838.03,615.00 L837.67,613.50 L837.31,612.00 L836.97,610.50 L836.63,609.00 L836.30,607.50 L835.98,606.00 L835.67,604.50 L835.38,603.00 L835.09,601.50 L834.82,600.00 L834.60,598.50Z" fill="none" stroke="#a4b0ec" stroke-width="1" stroke-opacity="0.9"/>
<path d="M830.20,598.50 L834.60,598.50 L834.80,605.00 L830.00,605.00Z" fill="#e4e4ee" opacity="0.9"/>
<rect x="827.54" y="609.50" width="9.72" height="1.1" fill="#e8ecff" opacity="0.75"/>
<rect x="829.00" y="797.50" width="6.80" height="1.1" fill="#e8ecff" opacity="0.75"/>
<path d="M829.60,803.00 L835.20,803.00 L834.40,810.00 L830.40,810.00Z" fill="#d4d4de"/>
<text transform="translate(908.30,587.60) scale(0.92,1)" font-size="8.4" fill="#d0d0d0" text-anchor="middle">2.1mm</text>
<path d="M905.2,589.3 v12 M912.8,589.3 v12 M905.2,590.8 h7.6" stroke="#a0a0a0" stroke-width="0.7" fill="none" opacity="0.6"/>
<rect x="904.80" y="643.50" width="8.40" height="31.00" fill="#060606" opacity="0.6"/>
<rect x="906.20" y="713.20" width="5.60" height="29.70" fill="#060606" opacity="0.6"/>
<rect x="906.10" y="743.30" width="5.80" height="33.90" fill="#060606" opacity="0.6"/>
<rect x="906.20" y="777.10" width="5.60" height="31.60" fill="#060606" opacity="0.6"/>
<rect x="906.10" y="809.80" width="5.80" height="14.40" fill="#060606" opacity="0.6"/>
<path d="M905.80,642.00 L905.80,595.30 Q905.80,592.30 909.00,592.30 Q912.20,592.30 912.20,595.30 L912.20,642.00Z" fill="#f44c1a"/>
<rect x="905.90" y="644.70" width="6.20" height="28.60" rx="0.60" fill="#e2f22a"/>
<path d="M905.80,675.80 L912.20,675.80 L912.20,698.00 C912.20,705.00 910.20,709.50 909.00,711.00 C907.80,709.50 905.80,705.00 905.80,698.00Z" fill="#f44c1a"/>
<rect x="907.30" y="714.40" width="3.40" height="27.30" rx="0.60" fill="#bce632"/>
<rect x="907.20" y="744.50" width="3.60" height="31.50" rx="0.60" fill="#e8421e"/>
<rect x="907.30" y="778.30" width="3.40" height="29.20" rx="0.60" fill="#bce632"/>
<rect x="907.20" y="811.00" width="3.60" height="12.00" rx="0.60" fill="#e8421e"/>
<text transform="translate(878.16,565.9) scale(0.932,1)" x="0" y="0" font-size="35.4" fill="#fafafa">NA-006</text>
<rect x="666" y="823" width="333" height="40" fill="#ffffff"/>
<rect x="666" y="823" width="333" height="18.5" fill="#dedede"/>
<rect x="666" y="823" width="24" height="18.5" fill="#e8e8e8"/>
<rect x="666" y="859.3" width="333" height="1" fill="#e4e4e4"/>
<rect x="690.5" y="841.5" width="0.8" height="17.8" fill="#e2e2e2"/>
<rect x="723.5" y="841.5" width="0.8" height="17.8" fill="#e2e2e2"/>
<rect x="756.5" y="841.5" width="0.8" height="17.8" fill="#e2e2e2"/>
<rect x="790.5" y="841.5" width="0.8" height="17.8" fill="#e2e2e2"/>
<rect x="823.5" y="841.5" width="0.8" height="17.8" fill="#e2e2e2"/>
<rect x="857" y="841.5" width="0.8" height="17.8" fill="#e2e2e2"/>
<rect x="892" y="841.5" width="0.8" height="17.8" fill="#e2e2e2"/>
<rect x="921.5" y="841.5" width="0.8" height="17.8" fill="#e2e2e2"/>
<rect x="950.5" y="841.5" width="0.8" height="17.8" fill="#e2e2e2"/>
<rect x="980" y="841.5" width="0.8" height="17.8" fill="#e2e2e2"/>
<text transform="translate(678.80,835.60) scale(0.9,1)" font-size="8.8" fill="#2c2c2c" stroke="#2c2c2c" stroke-width="0.15" text-anchor="middle">DRIFT</text>
<text x="678.5" y="849" font-size="6" fill="#2a2a2a" stroke="#2a2a2a" stroke-width="0.2" text-anchor="middle" letter-spacing="-0.2">Average</text>
<text x="678.5" y="855" font-size="6" fill="#2a2a2a" stroke="#2a2a2a" stroke-width="0.2" text-anchor="middle">size</text>
<text transform="translate(707.00,827.90) scale(0.92,1)" font-size="6.2" fill="#2e2e2e" stroke="#2e2e2e" stroke-width="0.12" text-anchor="middle">total float</text>
<text transform="translate(707.00,833.90) scale(0.92,1)" font-size="6.2" fill="#2e2e2e" stroke="#2e2e2e" stroke-width="0.12" text-anchor="middle">length</text>
<text transform="translate(707.00,839.90) scale(0.92,1)" font-size="6.2" fill="#2e2e2e" stroke="#2e2e2e" stroke-width="0.12" text-anchor="middle">(CM)</text>
<text x="707.0" y="854.2" font-size="8.8" fill="#2a2a2a" stroke="#2a2a2a" stroke-width="0.06" text-anchor="middle" letter-spacing="-0.3">36.5</text>
<text transform="translate(740.00,827.90) scale(0.92,1)" font-size="6.2" fill="#2e2e2e" stroke="#2e2e2e" stroke-width="0.12" text-anchor="middle">float</text>
<text transform="translate(740.00,833.90) scale(0.92,1)" font-size="6.2" fill="#2e2e2e" stroke="#2e2e2e" stroke-width="0.12" text-anchor="middle">length</text>
<text transform="translate(740.00,839.90) scale(0.92,1)" font-size="6.2" fill="#2e2e2e" stroke="#2e2e2e" stroke-width="0.12" text-anchor="middle">(CM)</text>
<text x="740.0" y="854.2" font-size="8.8" fill="#2a2a2a" stroke="#2a2a2a" stroke-width="0.06" text-anchor="middle" letter-spacing="-0.3">6.5</text>
<text transform="translate(773.50,827.90) scale(0.92,1)" font-size="6.2" fill="#2e2e2e" stroke="#2e2e2e" stroke-width="0.12" text-anchor="middle">drift tail</text>
<text transform="translate(773.50,833.90) scale(0.92,1)" font-size="6.2" fill="#2e2e2e" stroke="#2e2e2e" stroke-width="0.12" text-anchor="middle">length</text>
<text transform="translate(773.50,839.90) scale(0.92,1)" font-size="6.2" fill="#2e2e2e" stroke="#2e2e2e" stroke-width="0.12" text-anchor="middle">(CM)</text>
<text x="773.5" y="854.2" font-size="8.8" fill="#2a2a2a" stroke="#2a2a2a" stroke-width="0.06" text-anchor="middle" letter-spacing="-0.3">18.0</text>
<text transform="translate(807.00,827.90) scale(0.92,1)" font-size="6.2" fill="#2e2e2e" stroke="#2e2e2e" stroke-width="0.12" text-anchor="middle">floating</text>
<text transform="translate(807.00,833.90) scale(0.92,1)" font-size="6.2" fill="#2e2e2e" stroke="#2e2e2e" stroke-width="0.12" text-anchor="middle">foot length</text>
<text transform="translate(807.00,839.90) scale(0.92,1)" font-size="6.2" fill="#2e2e2e" stroke="#2e2e2e" stroke-width="0.12" text-anchor="middle">(CM)</text>
<text x="807.0" y="854.2" font-size="8.8" fill="#2a2a2a" stroke="#2a2a2a" stroke-width="0.06" text-anchor="middle" letter-spacing="-0.3">12.0</text>
<text transform="translate(840.25,827.90) scale(0.92,1)" font-size="6.2" fill="#2e2e2e" stroke="#2e2e2e" stroke-width="0.12" text-anchor="middle">body</text>
<text transform="translate(840.25,833.90) scale(0.92,1)" font-size="6.2" fill="#2e2e2e" stroke="#2e2e2e" stroke-width="0.12" text-anchor="middle">diameter</text>
<text transform="translate(840.25,839.90) scale(0.92,1)" font-size="6.2" fill="#2e2e2e" stroke="#2e2e2e" stroke-width="0.12" text-anchor="middle">(MM)</text>
<text x="840.2" y="854.2" font-size="8.8" fill="#2a2a2a" stroke="#2a2a2a" stroke-width="0.06" text-anchor="middle" letter-spacing="-0.3">11.8</text>
<text transform="translate(874.50,827.90) scale(0.92,1)" font-size="6.2" fill="#2e2e2e" stroke="#2e2e2e" stroke-width="0.12" text-anchor="middle">tail</text>
<text transform="translate(874.50,833.90) scale(0.92,1)" font-size="6.2" fill="#2e2e2e" stroke="#2e2e2e" stroke-width="0.12" text-anchor="middle">diameter</text>
<text transform="translate(874.50,839.90) scale(0.92,1)" font-size="6.2" fill="#2e2e2e" stroke="#2e2e2e" stroke-width="0.12" text-anchor="middle">(MM)</text>
<text x="874.5" y="854.2" font-size="8.8" fill="#2a2a2a" stroke="#2a2a2a" stroke-width="0.06" text-anchor="middle" letter-spacing="-0.3">0.9-2.1</text>
<text transform="translate(906.75,827.90) scale(0.92,1)" font-size="6.2" fill="#2e2e2e" stroke="#2e2e2e" stroke-width="0.12" text-anchor="middle">foot</text>
<text transform="translate(906.75,833.90) scale(0.92,1)" font-size="6.2" fill="#2e2e2e" stroke="#2e2e2e" stroke-width="0.12" text-anchor="middle">diameter</text>
<text transform="translate(906.75,839.90) scale(0.92,1)" font-size="6.2" fill="#2e2e2e" stroke="#2e2e2e" stroke-width="0.12" text-anchor="middle">(MM)</text>
<text x="906.8" y="854.2" font-size="8.8" fill="#2a2a2a" stroke="#2a2a2a" stroke-width="0.06" text-anchor="middle" letter-spacing="-0.3">0.8</text>
<text transform="translate(936.00,827.90) scale(0.92,1)" font-size="6.2" fill="#2e2e2e" stroke="#2e2e2e" stroke-width="0.12" text-anchor="middle">dead</text>
<text transform="translate(936.00,833.90) scale(0.92,1)" font-size="6.2" fill="#2e2e2e" stroke="#2e2e2e" stroke-width="0.12" text-anchor="middle">weight</text>
<text transform="translate(936.00,839.90) scale(0.92,1)" font-size="6.2" fill="#2e2e2e" stroke="#2e2e2e" stroke-width="0.12" text-anchor="middle">(G)</text>
<text x="936.0" y="854.2" font-size="8.8" fill="#2a2a2a" stroke="#2a2a2a" stroke-width="0.06" text-anchor="middle" letter-spacing="-0.3">1.09</text>
<text transform="translate(965.25,827.90) scale(0.92,1)" font-size="6.2" fill="#2e2e2e" stroke="#2e2e2e" stroke-width="0.12" text-anchor="middle">eat</text>
<text transform="translate(965.25,833.90) scale(0.92,1)" font-size="6.2" fill="#2e2e2e" stroke="#2e2e2e" stroke-width="0.12" text-anchor="middle">lead</text>
<text transform="translate(965.25,839.90) scale(0.92,1)" font-size="6.2" fill="#2e2e2e" stroke="#2e2e2e" stroke-width="0.12" text-anchor="middle">(G)</text>
<text x="965.2" y="854.2" font-size="8.8" fill="#2a2a2a" stroke="#2a2a2a" stroke-width="0.06" text-anchor="middle" letter-spacing="-0.3">2.5</text>
<text transform="translate(989.50,834.80) scale(0.88,1)" font-size="6.6" fill="#2e2e2e" stroke="#2e2e2e" stroke-width="0.12" text-anchor="middle">mesh</text>
<text x="989.5" y="854.2" font-size="8.8" fill="#2a2a2a" stroke="#2a2a2a" stroke-width="0.06" text-anchor="middle" letter-spacing="-0.3">13</text>
<rect x="0" y="138" width="1.4" height="293" fill="#444"/>
<rect x="0" y="431" width="1.5" height="40" fill="#303030"/>
<rect x="332.8" y="138" width="1.1" height="293" fill="#4e4e4e"/>
<rect x="332.7" y="431" width="1.2" height="40" fill="#343434"/>
<rect x="665.9" y="138" width="1.1" height="293" fill="#4e4e4e"/>
<rect x="665.8" y="431" width="1.2" height="40" fill="#343434"/>
<rect x="998.7" y="138" width="1.3" height="333" fill="#363636"/>
<rect x="0" y="470.5" width="1000" height="1.3" fill="#363636"/>
<rect x="0" y="530" width="1.4" height="293" fill="#444"/>
<rect x="0" y="823" width="1.5" height="40" fill="#303030"/>
<rect x="332.8" y="530" width="1.1" height="293" fill="#4e4e4e"/>
<rect x="332.7" y="823" width="1.2" height="40" fill="#343434"/>
<rect x="665.9" y="530" width="1.1" height="293" fill="#4e4e4e"/>
<rect x="665.8" y="823" width="1.2" height="40" fill="#343434"/>
<rect x="998.7" y="530" width="1.3" height="333" fill="#363636"/>
<rect x="0" y="862.5" width="1000" height="1.3" fill="#363636"/>
</svg></body></html>
